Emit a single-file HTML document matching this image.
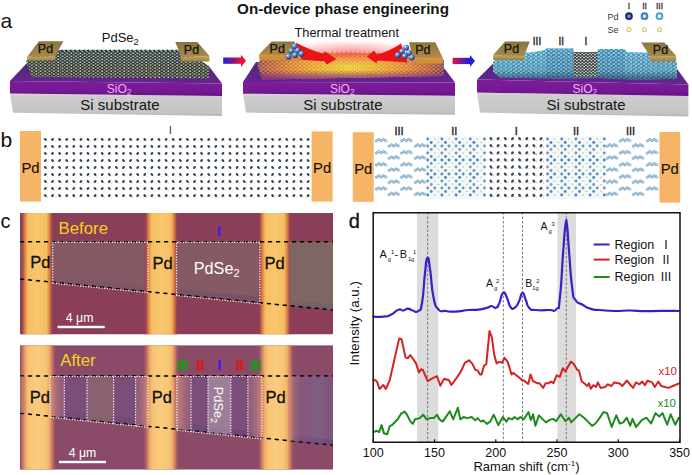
<!DOCTYPE html>
<html><head><meta charset="utf-8"><style>
html,body{margin:0;padding:0;background:#fff;width:692px;height:475px;overflow:hidden}
svg{display:block}
text{font-family:"Liberation Sans",sans-serif}
</style></head><body>
<svg width="692" height="475" viewBox="0 0 692 475">
<defs>
<linearGradient id="gSi" x1="0" y1="0" x2="0" y2="1"><stop offset="0" stop-color="#dadada"/><stop offset="0.12" stop-color="#cdcdcd"/><stop offset="0.85" stop-color="#c4c4c4"/><stop offset="1" stop-color="#b4b4b4"/></linearGradient>
<linearGradient id="gSiO2" x1="0" y1="0" x2="0" y2="1"><stop offset="0" stop-color="#7e1c9c"/><stop offset="0.7" stop-color="#741892"/><stop offset="1" stop-color="#621280"/></linearGradient>
<linearGradient id="gTop" x1="0" y1="0" x2="0" y2="1"><stop offset="0" stop-color="#4e2a78"/><stop offset="0.6" stop-color="#5e2688"/><stop offset="1" stop-color="#662490"/></linearGradient>
<linearGradient id="gPadTop" x1="0" y1="0" x2="0" y2="1"><stop offset="0" stop-color="#8a7442"/><stop offset="1" stop-color="#a68a4e"/></linearGradient>
<linearGradient id="gPadFront" x1="0" y1="0" x2="0" y2="1"><stop offset="0" stop-color="#c4a860"/><stop offset="1" stop-color="#9c8040"/></linearGradient>
<linearGradient id="gArrow1" x1="0" y1="0" x2="1" y2="0"><stop offset="0" stop-color="#1f1fd8"/><stop offset="0.45" stop-color="#6a1aa0"/><stop offset="1" stop-color="#ee1030"/></linearGradient>
<linearGradient id="gArrow2" x1="0" y1="0" x2="1" y2="0"><stop offset="0" stop-color="#ee1030"/><stop offset="0.55" stop-color="#6a1aa0"/><stop offset="1" stop-color="#1f1fd8"/></linearGradient>
<radialGradient id="gHeat" cx="0.5" cy="0.6" r="0.55"><stop offset="0" stop-color="#f4e428"/><stop offset="0.3" stop-color="#f2b824"/><stop offset="0.7" stop-color="#e07424"/><stop offset="1" stop-color="#a04a48"/></radialGradient>
<radialGradient id="gGlow" cx="0.5" cy="0.5" r="0.5"><stop offset="0" stop-color="#ff3a3a" stop-opacity="0.6"/><stop offset="0.6" stop-color="#ff6a6a" stop-opacity="0.3"/><stop offset="1" stop-color="#ff9090" stop-opacity="0"/></radialGradient>
<radialGradient id="gBall" cx="0.35" cy="0.3" r="0.7"><stop offset="0" stop-color="#e0f0ff"/><stop offset="0.45" stop-color="#5a8ad0"/><stop offset="1" stop-color="#1a3470"/></radialGradient>

<pattern id="pA1t" patternUnits="userSpaceOnUse" width="4.40" height="3.00"><rect width="4.40" height="3.00" fill="#3e4a40"/><circle cx="1.10" cy="0.75" r="1.00" fill="#1e2850"/><circle cx="1.10" cy="2.25" r="0.85" fill="#d8e2b0"/><circle cx="3.30" cy="2.25" r="1.00" fill="#26305a"/><circle cx="3.30" cy="0.75" r="0.80" fill="#b4c290"/></pattern>
<pattern id="pA1f" patternUnits="userSpaceOnUse" width="4.40" height="3.00"><rect width="4.40" height="3.00" fill="#34362e"/><circle cx="1.10" cy="0.75" r="1.00" fill="#1e2650"/><circle cx="1.10" cy="2.25" r="0.90" fill="#d4d490"/><circle cx="3.30" cy="2.25" r="1.00" fill="#262e58"/><circle cx="3.30" cy="0.75" r="0.85" fill="#aab070"/></pattern>
<pattern id="pA2" patternUnits="userSpaceOnUse" width="4.00" height="3.20"><circle cx="1.00" cy="1.00" r="1.00" fill="#ffc47a"/><circle cx="3.00" cy="2.40" r="0.90" fill="#ff9a50"/></pattern>
<pattern id="pA3" patternUnits="userSpaceOnUse" width="5.00" height="3.60"><rect width="5.00" height="3.60" fill="#1c4a62"/><circle cx="1.25" cy="0.90" r="1.45" fill="#a6def0"/><circle cx="1.25" cy="2.70" r="1.20" fill="#52a8cc"/><circle cx="3.75" cy="2.70" r="1.45" fill="#94d4ea"/><circle cx="3.75" cy="0.90" r="1.20" fill="#4a9ac0"/></pattern>
<pattern id="pA4" patternUnits="userSpaceOnUse" width="3.60" height="3.00"><rect width="3.60" height="3.00" fill="#1a2030"/><circle cx="0.90" cy="0.75" r="0.95" fill="#e0e090"/><circle cx="0.90" cy="2.25" r="0.90" fill="#304080"/><circle cx="2.70" cy="2.25" r="0.95" fill="#c8cc78"/><circle cx="2.70" cy="0.75" r="0.90" fill="#283670"/></pattern>
<radialGradient id="gHeat2" cx="349" cy="67" r="95" gradientUnits="userSpaceOnUse" gradientTransform="translate(349 67) scale(1 0.32) translate(-349 -67)"><stop offset="0" stop-color="#f2ea30"/><stop offset="0.3" stop-color="#f0c028"/><stop offset="0.6" stop-color="#e48a30"/><stop offset="0.85" stop-color="#b45a3c"/><stop offset="1" stop-color="#7a3a5a"/></radialGradient>
<linearGradient id="gBotFade" x1="0" y1="0" x2="0" y2="1"><stop offset="0" stop-color="#7a2a8a" stop-opacity="0"/><stop offset="1" stop-color="#7a2a8a" stop-opacity="0.85"/></linearGradient>
<pattern id="pA2b" patternUnits="userSpaceOnUse" width="4.60" height="3.60"><circle cx="1.15" cy="0.90" r="1.20" fill="#ffd08a"/><circle cx="3.45" cy="2.70" r="1.20" fill="#ffb868"/><circle cx="1.15" cy="2.70" r="0.70" fill="#6a2a30"/><circle cx="3.45" cy="0.90" r="0.70" fill="#7a3a30"/></pattern>
<pattern id="pA3b" patternUnits="userSpaceOnUse" width="5.00" height="3.60"><rect width="5.00" height="3.60" fill="#1a4466"/><circle cx="1.25" cy="0.90" r="1.40" fill="#7cc0e6"/><circle cx="1.25" cy="2.70" r="1.20" fill="#3a84bc"/><circle cx="3.75" cy="2.70" r="1.40" fill="#9ad6d8"/><circle cx="3.75" cy="0.90" r="1.20" fill="#3478b0"/></pattern>
<linearGradient id="gF3shade" x1="0" y1="0" x2="0" y2="1"><stop offset="0" stop-color="#000" stop-opacity="0"/><stop offset="0.7" stop-color="#0a1830" stop-opacity="0.1"/><stop offset="1" stop-color="#0a1830" stop-opacity="0.55"/></linearGradient>
<linearGradient id="gPadHeat" x1="0" y1="0" x2="0" y2="1"><stop offset="0" stop-color="#e08030" stop-opacity="0"/><stop offset="0.55" stop-color="#e08030" stop-opacity="0.15"/><stop offset="1" stop-color="#f09030" stop-opacity="0.7"/></linearGradient>

<linearGradient id="gStripe" x1="0" y1="0" x2="1" y2="0">
<stop offset="0" stop-color="#8a3c58" stop-opacity="0"/><stop offset="0.06" stop-color="#a44848"/><stop offset="0.14" stop-color="#e08848"/><stop offset="0.22" stop-color="#f6be62"/>
<stop offset="0.5" stop-color="#f9c76e"/><stop offset="0.78" stop-color="#f6be62"/><stop offset="0.86" stop-color="#e08848"/><stop offset="0.94" stop-color="#a44848"/><stop offset="1" stop-color="#8a3c58" stop-opacity="0"/></linearGradient>
<linearGradient id="gStripe2" x1="0" y1="0" x2="1" y2="0">
<stop offset="0" stop-color="#b06060" stop-opacity="0"/><stop offset="0.1" stop-color="#d07a60" stop-opacity="0.9"/><stop offset="0.18" stop-color="#eeac68"/><stop offset="0.27" stop-color="#f8c474"/>
<stop offset="0.5" stop-color="#f9cc80"/><stop offset="0.73" stop-color="#f8c474"/><stop offset="0.82" stop-color="#eeac68"/><stop offset="0.9" stop-color="#d07a60" stop-opacity="0.9"/><stop offset="1" stop-color="#b06060" stop-opacity="0"/></linearGradient>
<linearGradient id="gFilmShadow" x1="0" y1="0" x2="0" y2="1"><stop offset="0" stop-color="#3a3070" stop-opacity="0"/><stop offset="1" stop-color="#3a3070" stop-opacity="0.3"/></linearGradient>

<clipPath id="cMic1"><rect x="20" y="213.0" width="313" height="121.5"/></clipPath>
<clipPath id="cMic2"><rect x="20" y="345.2" width="313" height="124.5"/></clipPath>
<linearGradient id="gIIIL" x1="0" y1="0" x2="1" y2="0"><stop offset="0" stop-color="#d89078" stop-opacity="0.75"/><stop offset="1" stop-color="#b07080" stop-opacity="0.3"/></linearGradient>
<linearGradient id="gIIIR" x1="1" y1="0" x2="0" y2="0"><stop offset="0" stop-color="#d89078" stop-opacity="0.75"/><stop offset="1" stop-color="#b07080" stop-opacity="0.3"/></linearGradient>
<linearGradient id="gRgt" x1="0" y1="0" x2="1" y2="0"><stop offset="0" stop-color="#d89078" stop-opacity="0.7"/><stop offset="0.3" stop-color="#9a6a80" stop-opacity="0.2"/><stop offset="0.7" stop-color="#7a80a8" stop-opacity="0.25"/><stop offset="1" stop-color="#7a6080" stop-opacity="0.1"/></linearGradient></defs>
<rect width="692" height="475" fill="#fff"/>
<text x="343.0" y="14.3" font-size="15.20" fill="#141414" text-anchor="middle" font-weight="bold" >On-device phase engineering</text>
<text x="0.5" y="27.8" font-size="21.00" fill="#111" text-anchor="start" font-weight="normal" >a</text>
<polygon points="10.0,93.5 222.0,96.0 222.0,116.0 13.0,112.7" fill="url(#gSi)" />
<polygon points="10.0,81.0 222.0,83.5 222.0,96.0 10.0,93.5" fill="url(#gSiO2)" />
<polygon points="10.0,81.0 26.0,64.0 209.5,67.0 222.0,83.5" fill="url(#gTop)" />
<polygon points="243.0,93.7 455.0,95.8 455.0,114.7 246.0,112.6" fill="url(#gSi)" />
<polygon points="243.0,82.0 455.0,82.5 455.0,95.8 243.0,93.7" fill="url(#gSiO2)" />
<polygon points="243.0,82.0 256.0,62.0 441.0,64.0 455.0,82.5" fill="url(#gTop)" />
<polygon points="477.0,92.6 688.4,96.0 688.4,116.6 480.0,112.6" fill="url(#gSi)" />
<polygon points="477.0,79.5 688.4,84.4 688.4,96.0 477.0,92.6" fill="url(#gSiO2)" />
<polygon points="477.0,79.5 494.7,62.0 677.5,69.4 688.4,84.4" fill="url(#gTop)" />
<polygon points="26.0,61.0 40.0,50.0 185.0,50.5 209.0,66.0 209.0,78.5 31.5,77.0" fill="url(#pA1f)" />
<polygon points="30.0,58.0 40.0,50.0 185.0,50.5 200.0,60.0 200.0,63.0 30.0,62.0" fill="url(#pA1t)" />
<g><circle cx="62.0" cy="50.4" r="1.0" fill="#26305a"/><circle cx="64.2" cy="49.8" r="0.9" fill="#d8e2b0"/><circle cx="66.4" cy="50.4" r="1.0" fill="#26305a"/><circle cx="68.6" cy="49.8" r="0.9" fill="#d8e2b0"/><circle cx="70.8" cy="50.4" r="1.0" fill="#26305a"/><circle cx="73.0" cy="49.8" r="0.9" fill="#d8e2b0"/><circle cx="75.2" cy="50.4" r="1.0" fill="#26305a"/><circle cx="77.4" cy="49.8" r="0.9" fill="#d8e2b0"/><circle cx="79.6" cy="50.4" r="1.0" fill="#26305a"/><circle cx="81.8" cy="49.8" r="0.9" fill="#d8e2b0"/><circle cx="84.0" cy="50.4" r="1.0" fill="#26305a"/><circle cx="86.2" cy="49.8" r="0.9" fill="#d8e2b0"/><circle cx="88.4" cy="50.4" r="1.0" fill="#26305a"/><circle cx="90.6" cy="49.8" r="0.9" fill="#d8e2b0"/><circle cx="92.8" cy="50.4" r="1.0" fill="#26305a"/><circle cx="95.0" cy="49.8" r="0.9" fill="#d8e2b0"/><circle cx="97.2" cy="50.4" r="1.0" fill="#26305a"/><circle cx="99.4" cy="49.8" r="0.9" fill="#d8e2b0"/><circle cx="101.6" cy="50.4" r="1.0" fill="#26305a"/><circle cx="103.8" cy="49.8" r="0.9" fill="#d8e2b0"/><circle cx="106.0" cy="50.4" r="1.0" fill="#26305a"/><circle cx="108.2" cy="49.8" r="0.9" fill="#d8e2b0"/><circle cx="110.4" cy="50.4" r="1.0" fill="#26305a"/><circle cx="112.6" cy="49.8" r="0.9" fill="#d8e2b0"/><circle cx="114.8" cy="50.4" r="1.0" fill="#26305a"/><circle cx="117.0" cy="49.8" r="0.9" fill="#d8e2b0"/><circle cx="119.2" cy="50.4" r="1.0" fill="#26305a"/><circle cx="121.4" cy="49.8" r="0.9" fill="#d8e2b0"/><circle cx="123.6" cy="50.4" r="1.0" fill="#26305a"/><circle cx="125.8" cy="49.8" r="0.9" fill="#d8e2b0"/><circle cx="128.0" cy="50.4" r="1.0" fill="#26305a"/><circle cx="130.2" cy="49.8" r="0.9" fill="#d8e2b0"/><circle cx="132.4" cy="50.4" r="1.0" fill="#26305a"/><circle cx="134.6" cy="49.8" r="0.9" fill="#d8e2b0"/><circle cx="136.8" cy="50.4" r="1.0" fill="#26305a"/><circle cx="139.0" cy="49.8" r="0.9" fill="#d8e2b0"/><circle cx="141.2" cy="50.4" r="1.0" fill="#26305a"/><circle cx="143.4" cy="49.8" r="0.9" fill="#d8e2b0"/><circle cx="145.6" cy="50.4" r="1.0" fill="#26305a"/><circle cx="147.8" cy="49.8" r="0.9" fill="#d8e2b0"/><circle cx="150.0" cy="50.4" r="1.0" fill="#26305a"/><circle cx="152.2" cy="49.8" r="0.9" fill="#d8e2b0"/><circle cx="154.4" cy="50.4" r="1.0" fill="#26305a"/><circle cx="156.6" cy="49.8" r="0.9" fill="#d8e2b0"/><circle cx="158.8" cy="50.4" r="1.0" fill="#26305a"/><circle cx="161.0" cy="49.8" r="0.9" fill="#d8e2b0"/><circle cx="163.2" cy="50.4" r="1.0" fill="#26305a"/><circle cx="165.4" cy="49.8" r="0.9" fill="#d8e2b0"/><circle cx="167.6" cy="50.4" r="1.0" fill="#26305a"/><circle cx="169.8" cy="49.8" r="0.9" fill="#d8e2b0"/><circle cx="172.0" cy="50.4" r="1.0" fill="#26305a"/><circle cx="174.2" cy="49.8" r="0.9" fill="#d8e2b0"/><circle cx="176.4" cy="50.4" r="1.0" fill="#26305a"/><circle cx="178.6" cy="49.8" r="0.9" fill="#d8e2b0"/></g>
<polygon points="257.0,63.0 270.0,53.0 425.0,53.0 444.0,60.0 444.0,76.0 262.0,79.5" fill="url(#gHeat2)" />
<polygon points="257.0,63.0 270.0,53.0 425.0,53.0 444.0,60.0 444.0,76.0 262.0,79.5" fill="url(#pA2b)" opacity="0.5"/>
<polygon points="257.0,71.0 444.0,70.0 444.0,76.0 262.0,79.5" fill="url(#gBotFade)" />
<ellipse cx="350" cy="53" rx="78" ry="13" fill="url(#gGlow)"/>
<polygon points="493.0,62.0 505.0,53.0 530.0,52.5 545.0,50.0 546.0,48.5 573.5,48.5 573.5,52.0 597.5,52.0 598.0,49.0 625.0,49.0 627.0,52.0 650.0,52.7 677.0,62.0 677.0,78.5 640.0,80.0 600.0,78.0 560.0,78.5 500.0,77.5 493.0,72.0" fill="url(#pA3)" />
<polygon points="546.0,48.5 573.5,48.5 573.5,77.0 546.0,77.5" fill="url(#pA3b)" opacity="0.6"/>
<polygon points="598.0,49.0 625.0,49.0 625.0,77.5 598.0,77.5" fill="url(#pA3b)" opacity="0.6"/>
<polygon points="493.0,62.0 505.0,53.0 530.0,52.5 545.0,50.0 546.0,48.5 573.5,48.5 573.5,52.0 597.5,52.0 598.0,49.0 625.0,49.0 627.0,52.0 650.0,52.7 677.0,62.0 677.0,78.5 640.0,80.0 600.0,78.0 560.0,78.5 500.0,77.5 493.0,72.0" fill="url(#gF3shade)" />
<polygon points="573.5,52.0 597.5,52.0 597.5,76.5 573.5,76.5" fill="url(#pA4)" />
<polygon points="27.2,56.7 55.4,56.0 55.4,60.3 27.2,60.8" fill="url(#gPadFront)" />
<polygon points="38.8,41.3 63.4,41.3 55.4,56.0 27.2,56.7" fill="url(#gPadTop)" />
<polygon points="181.0,56.5 209.4,56.0 209.4,61.6 181.0,61.6" fill="url(#gPadFront)" />
<polygon points="175.3,42.0 197.4,42.0 209.4,56.0 181.0,56.5" fill="url(#gPadTop)" />
<polygon points="258.9,54.7 300.0,56.0 300.0,60.3 259.5,60.3" fill="url(#gPadFront)" />
<polygon points="271.5,41.6 294.3,41.6 300.0,56.0 258.9,54.7" fill="url(#gPadTop)" />
<polygon points="412.7,58.0 442.8,57.9 442.8,63.5 412.7,63.5" fill="url(#gPadFront)" />
<polygon points="409.0,42.3 435.3,42.3 442.8,57.9 412.7,58.0" fill="url(#gPadTop)" />
<polygon points="493.2,55.1 524.2,56.0 524.2,60.0 493.2,59.9" fill="url(#gPadFront)" />
<polygon points="505.0,41.6 529.7,41.6 524.2,56.0 493.2,55.1" fill="url(#gPadTop)" />
<polygon points="650.0,56.3 676.2,55.9 676.2,61.5 650.0,61.5" fill="url(#gPadFront)" />
<polygon points="641.2,42.4 664.3,42.4 676.2,55.9 650.0,56.3" fill="url(#gPadTop)" />
<polygon points="271.5,41.6 294.3,41.6 300.0,56.0 300.0,60.3 259.5,60.3 258.9,54.7" fill="url(#gPadHeat)" />
<polygon points="409.0,42.3 435.3,42.3 442.8,57.9 442.8,63.5 412.7,63.5 412.7,58.0" fill="url(#gPadHeat)" />
<text x="45.5" y="53.4" font-size="12.50" fill="#151008" text-anchor="middle" font-weight="normal" stroke="#151008" stroke-width="0.25">Pd</text>
<text x="191.5" y="54.0" font-size="12.50" fill="#151008" text-anchor="middle" font-weight="normal" stroke="#151008" stroke-width="0.25">Pd</text>
<text x="277.2" y="53.4" font-size="12.50" fill="#151008" text-anchor="middle" font-weight="normal" stroke="#151008" stroke-width="0.25">Pd</text>
<text x="422.8" y="54.0" font-size="12.50" fill="#151008" text-anchor="middle" font-weight="normal" stroke="#151008" stroke-width="0.25">Pd</text>
<text x="511.5" y="53.3" font-size="12.50" fill="#151008" text-anchor="middle" font-weight="normal" stroke="#151008" stroke-width="0.25">Pd</text>
<text x="660.5" y="54.2" font-size="12.50" fill="#151008" text-anchor="middle" font-weight="normal" stroke="#151008" stroke-width="0.25">Pd</text>
<path d="M296,42.6 Q309,50 324,53.8 L324.5,51.3 L336.5,59 L326.5,64.4 L324.5,61.2 Q312,60.8 301.6,59.8 Z" fill="#ea1414"/>
<path d="M401,43.5 Q390,51 377,54.5 L374,50.4 L366.8,56.4 L376.6,63.4 L377.5,60.5 Q394,61.5 407.6,62.5 Z" fill="#ea1414"/>
<g><rect x="318.0" y="51" width="1.2" height="6" fill="#c03a2a" opacity="0.35"/><rect x="322.6" y="51" width="1.2" height="6" fill="#c03a2a" opacity="0.35"/><rect x="327.2" y="51" width="1.2" height="6" fill="#c03a2a" opacity="0.35"/><rect x="331.8" y="51" width="1.2" height="6" fill="#c03a2a" opacity="0.35"/><rect x="336.4" y="51" width="1.2" height="6" fill="#c03a2a" opacity="0.35"/><rect x="341.0" y="51" width="1.2" height="6" fill="#c03a2a" opacity="0.35"/><rect x="345.6" y="51" width="1.2" height="6" fill="#c03a2a" opacity="0.35"/><rect x="350.2" y="51" width="1.2" height="6" fill="#c03a2a" opacity="0.35"/><rect x="354.8" y="51" width="1.2" height="6" fill="#c03a2a" opacity="0.35"/><rect x="359.4" y="51" width="1.2" height="6" fill="#c03a2a" opacity="0.35"/><rect x="364.0" y="51" width="1.2" height="6" fill="#c03a2a" opacity="0.35"/><rect x="368.6" y="51" width="1.2" height="6" fill="#c03a2a" opacity="0.35"/><rect x="373.2" y="51" width="1.2" height="6" fill="#c03a2a" opacity="0.35"/><rect x="377.8" y="51" width="1.2" height="6" fill="#c03a2a" opacity="0.35"/></g>
<circle cx="294.6" cy="46.3" r="2.85" fill="url(#gBall)"/>
<circle cx="291.3" cy="51.0" r="2.85" fill="url(#gBall)"/>
<circle cx="297.8" cy="50.6" r="2.85" fill="url(#gBall)"/>
<circle cx="288.5" cy="56.7" r="2.85" fill="url(#gBall)"/>
<circle cx="295.0" cy="55.2" r="2.85" fill="url(#gBall)"/>
<circle cx="301.6" cy="53.8" r="2.85" fill="url(#gBall)"/>
<circle cx="406.2" cy="47.7" r="2.85" fill="url(#gBall)"/>
<circle cx="402.0" cy="51.5" r="2.85" fill="url(#gBall)"/>
<circle cx="409.0" cy="52.9" r="2.85" fill="url(#gBall)"/>
<circle cx="397.7" cy="55.2" r="2.85" fill="url(#gBall)"/>
<circle cx="404.8" cy="56.2" r="2.85" fill="url(#gBall)"/>
<circle cx="411.8" cy="57.6" r="2.85" fill="url(#gBall)"/>
<rect x="223.2" y="57.5" width="18" height="6.3" fill="url(#gArrow1)"/>
<polygon points="241.0,54.7 246.0,60.7 241.0,66.9" fill="#ee1030" />
<rect x="452.6" y="57.8" width="17.5" height="6.3" fill="url(#gArrow2)"/>
<polygon points="470.0,54.9 475.0,61.0 470.0,67.1" fill="#1f1fd8" />
<text x="101.8" y="41.9" font-size="13.00" fill="#151515" text-anchor="start" font-weight="normal" >PdSe<tspan font-size="9.5" dy="3">2</tspan></text>
<text x="294.5" y="36.5" font-size="12.80" fill="#151515" text-anchor="start" font-weight="normal" >Thermal treatment</text>
<text x="119.9" y="109.7" font-size="15.00" fill="#151515" text-anchor="middle" font-weight="normal" >Si substrate</text>
<text x="342.9" y="109.7" font-size="15.00" fill="#151515" text-anchor="middle" font-weight="normal" >Si substrate</text>
<text x="586.0" y="109.7" font-size="15.00" fill="#151515" text-anchor="middle" font-weight="normal" >Si substrate</text>
<text x="106.8" y="92.5" font-size="12.00" fill="#f4b0f4" text-anchor="start" font-weight="normal" >SiO<tspan font-size="8.5" dy="2.5">2</tspan></text>
<text x="329.9" y="92.5" font-size="12.00" fill="#f4b0f4" text-anchor="start" font-weight="normal" >SiO<tspan font-size="8.5" dy="2.5">2</tspan></text>
<text x="572.5" y="92.5" font-size="12.00" fill="#f4b0f4" text-anchor="start" font-weight="normal" >SiO<tspan font-size="8.5" dy="2.5">2</tspan></text>
<text x="537.0" y="44.5" font-size="10.00" fill="#222" text-anchor="middle" font-weight="normal" stroke="#222" stroke-width="0.35">III</text>
<text x="561.3" y="44.5" font-size="10.00" fill="#222" text-anchor="middle" font-weight="normal" stroke="#222" stroke-width="0.35">II</text>
<text x="586.0" y="44.5" font-size="10.00" fill="#222" text-anchor="middle" font-weight="normal" stroke="#222" stroke-width="0.35">I</text>
<text x="629.0" y="8.6" font-size="8.50" fill="#333" text-anchor="middle" font-weight="normal" stroke="#333" stroke-width="0.3">I</text>
<text x="644.5" y="8.6" font-size="8.50" fill="#333" text-anchor="middle" font-weight="normal" stroke="#333" stroke-width="0.3">II</text>
<text x="659.5" y="8.6" font-size="8.50" fill="#333" text-anchor="middle" font-weight="normal" stroke="#333" stroke-width="0.3">III</text>
<text x="607.5" y="19.6" font-size="9.00" fill="#333" text-anchor="start" font-weight="normal" >Pd</text>
<text x="607.5" y="33.2" font-size="9.00" fill="#333" text-anchor="start" font-weight="normal" >Se</text>
<circle cx="629.0" cy="16.2" r="2.9" fill="#6a8ad0" stroke="#12285e" stroke-width="1.9"/>
<circle cx="644.5" cy="16.2" r="2.9" fill="#c8e4fa" stroke="#3c78c0" stroke-width="1.9"/>
<circle cx="659.5" cy="16.2" r="2.9" fill="#e6f6ff" stroke="#4aa0c8" stroke-width="1.9"/>
<circle cx="629.0" cy="29.6" r="2.0" fill="#fffbe8" stroke="#d8c888" stroke-width="1.2"/>
<circle cx="644.5" cy="29.6" r="2.0" fill="#fffbe8" stroke="#d8c888" stroke-width="1.2"/>
<circle cx="659.5" cy="29.6" r="2.0" fill="#fffbe8" stroke="#d8c888" stroke-width="1.2"/>
<text x="0.5" y="146.6" font-size="21.00" fill="#111" text-anchor="start" font-weight="normal" >b</text>
<rect x="20.0" y="131.0" width="21.0" height="70.6" fill="#f6b466"/>
<rect x="311.6" y="131.5" width="21.0" height="70.1" fill="#f6b466"/>
<rect x="352.8" y="132.2" width="20.9" height="69.6" fill="#f6b466"/>
<rect x="659.5" y="132.0" width="20.7" height="70.6" fill="#f6b466"/>
<text x="30.5" y="173.3" font-size="14.80" fill="#1a1008" text-anchor="middle" font-weight="normal" stroke="#1a1008" stroke-width="0.12">Pd</text>
<text x="322.1" y="173.3" font-size="14.80" fill="#1a1008" text-anchor="middle" font-weight="normal" stroke="#1a1008" stroke-width="0.12">Pd</text>
<text x="363.2" y="173.5" font-size="14.80" fill="#1a1008" text-anchor="middle" font-weight="normal" stroke="#1a1008" stroke-width="0.12">Pd</text>
<text x="669.8" y="173.8" font-size="14.80" fill="#1a1008" text-anchor="middle" font-weight="normal" stroke="#1a1008" stroke-width="0.12">Pd</text>
<g><ellipse cx="45.4" cy="139.4" rx="1.6" ry="1.2" fill="#34405e" transform="rotate(45 45.4 139.4)"/><circle cx="47.6" cy="141.0" r="0.6" fill="#d6dc9a"/><ellipse cx="52.5" cy="139.4" rx="1.6" ry="1.2" fill="#34405e" transform="rotate(-45 52.5 139.4)"/><circle cx="54.7" cy="141.0" r="0.6" fill="#d6dc9a"/><ellipse cx="59.6" cy="139.4" rx="1.6" ry="1.2" fill="#34405e" transform="rotate(45 59.6 139.4)"/><circle cx="61.8" cy="141.0" r="0.6" fill="#d6dc9a"/><ellipse cx="66.7" cy="139.4" rx="1.6" ry="1.2" fill="#34405e" transform="rotate(-45 66.7 139.4)"/><circle cx="68.9" cy="141.0" r="0.6" fill="#d6dc9a"/><ellipse cx="73.8" cy="139.4" rx="1.6" ry="1.2" fill="#34405e" transform="rotate(45 73.8 139.4)"/><circle cx="76.0" cy="141.0" r="0.6" fill="#d6dc9a"/><ellipse cx="80.9" cy="139.4" rx="1.6" ry="1.2" fill="#34405e" transform="rotate(-45 80.9 139.4)"/><circle cx="83.1" cy="141.0" r="0.6" fill="#d6dc9a"/><ellipse cx="88.0" cy="139.4" rx="1.6" ry="1.2" fill="#34405e" transform="rotate(45 88.0 139.4)"/><circle cx="90.2" cy="141.0" r="0.6" fill="#d6dc9a"/><ellipse cx="95.1" cy="139.4" rx="1.6" ry="1.2" fill="#34405e" transform="rotate(-45 95.1 139.4)"/><circle cx="97.3" cy="141.0" r="0.6" fill="#d6dc9a"/><ellipse cx="102.2" cy="139.4" rx="1.6" ry="1.2" fill="#34405e" transform="rotate(45 102.2 139.4)"/><circle cx="104.4" cy="141.0" r="0.6" fill="#d6dc9a"/><ellipse cx="109.3" cy="139.4" rx="1.6" ry="1.2" fill="#34405e" transform="rotate(-45 109.3 139.4)"/><circle cx="111.5" cy="141.0" r="0.6" fill="#d6dc9a"/><ellipse cx="116.4" cy="139.4" rx="1.6" ry="1.2" fill="#34405e" transform="rotate(45 116.4 139.4)"/><circle cx="118.6" cy="141.0" r="0.6" fill="#d6dc9a"/><ellipse cx="123.5" cy="139.4" rx="1.6" ry="1.2" fill="#34405e" transform="rotate(-45 123.5 139.4)"/><circle cx="125.7" cy="141.0" r="0.6" fill="#d6dc9a"/><ellipse cx="130.6" cy="139.4" rx="1.6" ry="1.2" fill="#34405e" transform="rotate(45 130.6 139.4)"/><circle cx="132.8" cy="141.0" r="0.6" fill="#d6dc9a"/><ellipse cx="137.7" cy="139.4" rx="1.6" ry="1.2" fill="#34405e" transform="rotate(-45 137.7 139.4)"/><circle cx="139.9" cy="141.0" r="0.6" fill="#d6dc9a"/><ellipse cx="144.8" cy="139.4" rx="1.6" ry="1.2" fill="#34405e" transform="rotate(45 144.8 139.4)"/><circle cx="147.0" cy="141.0" r="0.6" fill="#d6dc9a"/><ellipse cx="151.9" cy="139.4" rx="1.6" ry="1.2" fill="#34405e" transform="rotate(-45 151.9 139.4)"/><circle cx="154.1" cy="141.0" r="0.6" fill="#d6dc9a"/><ellipse cx="159.0" cy="139.4" rx="1.6" ry="1.2" fill="#34405e" transform="rotate(45 159.0 139.4)"/><circle cx="161.2" cy="141.0" r="0.6" fill="#d6dc9a"/><ellipse cx="166.1" cy="139.4" rx="1.6" ry="1.2" fill="#34405e" transform="rotate(-45 166.1 139.4)"/><circle cx="168.3" cy="141.0" r="0.6" fill="#d6dc9a"/><ellipse cx="173.2" cy="139.4" rx="1.6" ry="1.2" fill="#34405e" transform="rotate(45 173.2 139.4)"/><circle cx="175.4" cy="141.0" r="0.6" fill="#d6dc9a"/><ellipse cx="180.3" cy="139.4" rx="1.6" ry="1.2" fill="#34405e" transform="rotate(-45 180.3 139.4)"/><circle cx="182.5" cy="141.0" r="0.6" fill="#d6dc9a"/><ellipse cx="187.4" cy="139.4" rx="1.6" ry="1.2" fill="#34405e" transform="rotate(45 187.4 139.4)"/><circle cx="189.6" cy="141.0" r="0.6" fill="#d6dc9a"/><ellipse cx="194.5" cy="139.4" rx="1.6" ry="1.2" fill="#34405e" transform="rotate(-45 194.5 139.4)"/><circle cx="196.7" cy="141.0" r="0.6" fill="#d6dc9a"/><ellipse cx="201.6" cy="139.4" rx="1.6" ry="1.2" fill="#34405e" transform="rotate(45 201.6 139.4)"/><circle cx="203.8" cy="141.0" r="0.6" fill="#d6dc9a"/><ellipse cx="208.7" cy="139.4" rx="1.6" ry="1.2" fill="#34405e" transform="rotate(-45 208.7 139.4)"/><circle cx="210.9" cy="141.0" r="0.6" fill="#d6dc9a"/><ellipse cx="215.8" cy="139.4" rx="1.6" ry="1.2" fill="#34405e" transform="rotate(45 215.8 139.4)"/><circle cx="218.0" cy="141.0" r="0.6" fill="#d6dc9a"/><ellipse cx="222.9" cy="139.4" rx="1.6" ry="1.2" fill="#34405e" transform="rotate(-45 222.9 139.4)"/><circle cx="225.1" cy="141.0" r="0.6" fill="#d6dc9a"/><ellipse cx="230.0" cy="139.4" rx="1.6" ry="1.2" fill="#34405e" transform="rotate(45 230.0 139.4)"/><circle cx="232.2" cy="141.0" r="0.6" fill="#d6dc9a"/><ellipse cx="237.1" cy="139.4" rx="1.6" ry="1.2" fill="#34405e" transform="rotate(-45 237.1 139.4)"/><circle cx="239.3" cy="141.0" r="0.6" fill="#d6dc9a"/><ellipse cx="244.2" cy="139.4" rx="1.6" ry="1.2" fill="#34405e" transform="rotate(45 244.2 139.4)"/><circle cx="246.4" cy="141.0" r="0.6" fill="#d6dc9a"/><ellipse cx="251.3" cy="139.4" rx="1.6" ry="1.2" fill="#34405e" transform="rotate(-45 251.3 139.4)"/><circle cx="253.5" cy="141.0" r="0.6" fill="#d6dc9a"/><ellipse cx="258.4" cy="139.4" rx="1.6" ry="1.2" fill="#34405e" transform="rotate(45 258.4 139.4)"/><circle cx="260.6" cy="141.0" r="0.6" fill="#d6dc9a"/><ellipse cx="265.5" cy="139.4" rx="1.6" ry="1.2" fill="#34405e" transform="rotate(-45 265.5 139.4)"/><circle cx="267.7" cy="141.0" r="0.6" fill="#d6dc9a"/><ellipse cx="272.6" cy="139.4" rx="1.6" ry="1.2" fill="#34405e" transform="rotate(45 272.6 139.4)"/><circle cx="274.8" cy="141.0" r="0.6" fill="#d6dc9a"/><ellipse cx="279.7" cy="139.4" rx="1.6" ry="1.2" fill="#34405e" transform="rotate(-45 279.7 139.4)"/><circle cx="281.9" cy="141.0" r="0.6" fill="#d6dc9a"/><ellipse cx="286.8" cy="139.4" rx="1.6" ry="1.2" fill="#34405e" transform="rotate(45 286.8 139.4)"/><circle cx="289.0" cy="141.0" r="0.6" fill="#d6dc9a"/><ellipse cx="293.9" cy="139.4" rx="1.6" ry="1.2" fill="#34405e" transform="rotate(-45 293.9 139.4)"/><circle cx="296.1" cy="141.0" r="0.6" fill="#d6dc9a"/><ellipse cx="301.0" cy="139.4" rx="1.6" ry="1.2" fill="#34405e" transform="rotate(45 301.0 139.4)"/><circle cx="303.2" cy="141.0" r="0.6" fill="#d6dc9a"/><ellipse cx="308.1" cy="139.4" rx="1.6" ry="1.2" fill="#34405e" transform="rotate(-45 308.1 139.4)"/><circle cx="310.3" cy="141.0" r="0.6" fill="#d6dc9a"/><ellipse cx="45.4" cy="146.4" rx="1.6" ry="1.2" fill="#34405e" transform="rotate(-45 45.4 146.4)"/><circle cx="47.6" cy="148.0" r="0.6" fill="#d6dc9a"/><ellipse cx="52.5" cy="146.4" rx="1.6" ry="1.2" fill="#34405e" transform="rotate(45 52.5 146.4)"/><circle cx="54.7" cy="148.0" r="0.6" fill="#d6dc9a"/><ellipse cx="59.6" cy="146.4" rx="1.6" ry="1.2" fill="#34405e" transform="rotate(-45 59.6 146.4)"/><circle cx="61.8" cy="148.0" r="0.6" fill="#d6dc9a"/><ellipse cx="66.7" cy="146.4" rx="1.6" ry="1.2" fill="#34405e" transform="rotate(45 66.7 146.4)"/><circle cx="68.9" cy="148.0" r="0.6" fill="#d6dc9a"/><ellipse cx="73.8" cy="146.4" rx="1.6" ry="1.2" fill="#34405e" transform="rotate(-45 73.8 146.4)"/><circle cx="76.0" cy="148.0" r="0.6" fill="#d6dc9a"/><ellipse cx="80.9" cy="146.4" rx="1.6" ry="1.2" fill="#34405e" transform="rotate(45 80.9 146.4)"/><circle cx="83.1" cy="148.0" r="0.6" fill="#d6dc9a"/><ellipse cx="88.0" cy="146.4" rx="1.6" ry="1.2" fill="#34405e" transform="rotate(-45 88.0 146.4)"/><circle cx="90.2" cy="148.0" r="0.6" fill="#d6dc9a"/><ellipse cx="95.1" cy="146.4" rx="1.6" ry="1.2" fill="#34405e" transform="rotate(45 95.1 146.4)"/><circle cx="97.3" cy="148.0" r="0.6" fill="#d6dc9a"/><ellipse cx="102.2" cy="146.4" rx="1.6" ry="1.2" fill="#34405e" transform="rotate(-45 102.2 146.4)"/><circle cx="104.4" cy="148.0" r="0.6" fill="#d6dc9a"/><ellipse cx="109.3" cy="146.4" rx="1.6" ry="1.2" fill="#34405e" transform="rotate(45 109.3 146.4)"/><circle cx="111.5" cy="148.0" r="0.6" fill="#d6dc9a"/><ellipse cx="116.4" cy="146.4" rx="1.6" ry="1.2" fill="#34405e" transform="rotate(-45 116.4 146.4)"/><circle cx="118.6" cy="148.0" r="0.6" fill="#d6dc9a"/><ellipse cx="123.5" cy="146.4" rx="1.6" ry="1.2" fill="#34405e" transform="rotate(45 123.5 146.4)"/><circle cx="125.7" cy="148.0" r="0.6" fill="#d6dc9a"/><ellipse cx="130.6" cy="146.4" rx="1.6" ry="1.2" fill="#34405e" transform="rotate(-45 130.6 146.4)"/><circle cx="132.8" cy="148.0" r="0.6" fill="#d6dc9a"/><ellipse cx="137.7" cy="146.4" rx="1.6" ry="1.2" fill="#34405e" transform="rotate(45 137.7 146.4)"/><circle cx="139.9" cy="148.0" r="0.6" fill="#d6dc9a"/><ellipse cx="144.8" cy="146.4" rx="1.6" ry="1.2" fill="#34405e" transform="rotate(-45 144.8 146.4)"/><circle cx="147.0" cy="148.0" r="0.6" fill="#d6dc9a"/><ellipse cx="151.9" cy="146.4" rx="1.6" ry="1.2" fill="#34405e" transform="rotate(45 151.9 146.4)"/><circle cx="154.1" cy="148.0" r="0.6" fill="#d6dc9a"/><ellipse cx="159.0" cy="146.4" rx="1.6" ry="1.2" fill="#34405e" transform="rotate(-45 159.0 146.4)"/><circle cx="161.2" cy="148.0" r="0.6" fill="#d6dc9a"/><ellipse cx="166.1" cy="146.4" rx="1.6" ry="1.2" fill="#34405e" transform="rotate(45 166.1 146.4)"/><circle cx="168.3" cy="148.0" r="0.6" fill="#d6dc9a"/><ellipse cx="173.2" cy="146.4" rx="1.6" ry="1.2" fill="#34405e" transform="rotate(-45 173.2 146.4)"/><circle cx="175.4" cy="148.0" r="0.6" fill="#d6dc9a"/><ellipse cx="180.3" cy="146.4" rx="1.6" ry="1.2" fill="#34405e" transform="rotate(45 180.3 146.4)"/><circle cx="182.5" cy="148.0" r="0.6" fill="#d6dc9a"/><ellipse cx="187.4" cy="146.4" rx="1.6" ry="1.2" fill="#34405e" transform="rotate(-45 187.4 146.4)"/><circle cx="189.6" cy="148.0" r="0.6" fill="#d6dc9a"/><ellipse cx="194.5" cy="146.4" rx="1.6" ry="1.2" fill="#34405e" transform="rotate(45 194.5 146.4)"/><circle cx="196.7" cy="148.0" r="0.6" fill="#d6dc9a"/><ellipse cx="201.6" cy="146.4" rx="1.6" ry="1.2" fill="#34405e" transform="rotate(-45 201.6 146.4)"/><circle cx="203.8" cy="148.0" r="0.6" fill="#d6dc9a"/><ellipse cx="208.7" cy="146.4" rx="1.6" ry="1.2" fill="#34405e" transform="rotate(45 208.7 146.4)"/><circle cx="210.9" cy="148.0" r="0.6" fill="#d6dc9a"/><ellipse cx="215.8" cy="146.4" rx="1.6" ry="1.2" fill="#34405e" transform="rotate(-45 215.8 146.4)"/><circle cx="218.0" cy="148.0" r="0.6" fill="#d6dc9a"/><ellipse cx="222.9" cy="146.4" rx="1.6" ry="1.2" fill="#34405e" transform="rotate(45 222.9 146.4)"/><circle cx="225.1" cy="148.0" r="0.6" fill="#d6dc9a"/><ellipse cx="230.0" cy="146.4" rx="1.6" ry="1.2" fill="#34405e" transform="rotate(-45 230.0 146.4)"/><circle cx="232.2" cy="148.0" r="0.6" fill="#d6dc9a"/><ellipse cx="237.1" cy="146.4" rx="1.6" ry="1.2" fill="#34405e" transform="rotate(45 237.1 146.4)"/><circle cx="239.3" cy="148.0" r="0.6" fill="#d6dc9a"/><ellipse cx="244.2" cy="146.4" rx="1.6" ry="1.2" fill="#34405e" transform="rotate(-45 244.2 146.4)"/><circle cx="246.4" cy="148.0" r="0.6" fill="#d6dc9a"/><ellipse cx="251.3" cy="146.4" rx="1.6" ry="1.2" fill="#34405e" transform="rotate(45 251.3 146.4)"/><circle cx="253.5" cy="148.0" r="0.6" fill="#d6dc9a"/><ellipse cx="258.4" cy="146.4" rx="1.6" ry="1.2" fill="#34405e" transform="rotate(-45 258.4 146.4)"/><circle cx="260.6" cy="148.0" r="0.6" fill="#d6dc9a"/><ellipse cx="265.5" cy="146.4" rx="1.6" ry="1.2" fill="#34405e" transform="rotate(45 265.5 146.4)"/><circle cx="267.7" cy="148.0" r="0.6" fill="#d6dc9a"/><ellipse cx="272.6" cy="146.4" rx="1.6" ry="1.2" fill="#34405e" transform="rotate(-45 272.6 146.4)"/><circle cx="274.8" cy="148.0" r="0.6" fill="#d6dc9a"/><ellipse cx="279.7" cy="146.4" rx="1.6" ry="1.2" fill="#34405e" transform="rotate(45 279.7 146.4)"/><circle cx="281.9" cy="148.0" r="0.6" fill="#d6dc9a"/><ellipse cx="286.8" cy="146.4" rx="1.6" ry="1.2" fill="#34405e" transform="rotate(-45 286.8 146.4)"/><circle cx="289.0" cy="148.0" r="0.6" fill="#d6dc9a"/><ellipse cx="293.9" cy="146.4" rx="1.6" ry="1.2" fill="#34405e" transform="rotate(45 293.9 146.4)"/><circle cx="296.1" cy="148.0" r="0.6" fill="#d6dc9a"/><ellipse cx="301.0" cy="146.4" rx="1.6" ry="1.2" fill="#34405e" transform="rotate(-45 301.0 146.4)"/><circle cx="303.2" cy="148.0" r="0.6" fill="#d6dc9a"/><ellipse cx="308.1" cy="146.4" rx="1.6" ry="1.2" fill="#34405e" transform="rotate(45 308.1 146.4)"/><circle cx="310.3" cy="148.0" r="0.6" fill="#d6dc9a"/><ellipse cx="45.4" cy="153.4" rx="1.6" ry="1.2" fill="#34405e" transform="rotate(45 45.4 153.4)"/><circle cx="47.6" cy="155.0" r="0.6" fill="#d6dc9a"/><ellipse cx="52.5" cy="153.4" rx="1.6" ry="1.2" fill="#34405e" transform="rotate(-45 52.5 153.4)"/><circle cx="54.7" cy="155.0" r="0.6" fill="#d6dc9a"/><ellipse cx="59.6" cy="153.4" rx="1.6" ry="1.2" fill="#34405e" transform="rotate(45 59.6 153.4)"/><circle cx="61.8" cy="155.0" r="0.6" fill="#d6dc9a"/><ellipse cx="66.7" cy="153.4" rx="1.6" ry="1.2" fill="#34405e" transform="rotate(-45 66.7 153.4)"/><circle cx="68.9" cy="155.0" r="0.6" fill="#d6dc9a"/><ellipse cx="73.8" cy="153.4" rx="1.6" ry="1.2" fill="#34405e" transform="rotate(45 73.8 153.4)"/><circle cx="76.0" cy="155.0" r="0.6" fill="#d6dc9a"/><ellipse cx="80.9" cy="153.4" rx="1.6" ry="1.2" fill="#34405e" transform="rotate(-45 80.9 153.4)"/><circle cx="83.1" cy="155.0" r="0.6" fill="#d6dc9a"/><ellipse cx="88.0" cy="153.4" rx="1.6" ry="1.2" fill="#34405e" transform="rotate(45 88.0 153.4)"/><circle cx="90.2" cy="155.0" r="0.6" fill="#d6dc9a"/><ellipse cx="95.1" cy="153.4" rx="1.6" ry="1.2" fill="#34405e" transform="rotate(-45 95.1 153.4)"/><circle cx="97.3" cy="155.0" r="0.6" fill="#d6dc9a"/><ellipse cx="102.2" cy="153.4" rx="1.6" ry="1.2" fill="#34405e" transform="rotate(45 102.2 153.4)"/><circle cx="104.4" cy="155.0" r="0.6" fill="#d6dc9a"/><ellipse cx="109.3" cy="153.4" rx="1.6" ry="1.2" fill="#34405e" transform="rotate(-45 109.3 153.4)"/><circle cx="111.5" cy="155.0" r="0.6" fill="#d6dc9a"/><ellipse cx="116.4" cy="153.4" rx="1.6" ry="1.2" fill="#34405e" transform="rotate(45 116.4 153.4)"/><circle cx="118.6" cy="155.0" r="0.6" fill="#d6dc9a"/><ellipse cx="123.5" cy="153.4" rx="1.6" ry="1.2" fill="#34405e" transform="rotate(-45 123.5 153.4)"/><circle cx="125.7" cy="155.0" r="0.6" fill="#d6dc9a"/><ellipse cx="130.6" cy="153.4" rx="1.6" ry="1.2" fill="#34405e" transform="rotate(45 130.6 153.4)"/><circle cx="132.8" cy="155.0" r="0.6" fill="#d6dc9a"/><ellipse cx="137.7" cy="153.4" rx="1.6" ry="1.2" fill="#34405e" transform="rotate(-45 137.7 153.4)"/><circle cx="139.9" cy="155.0" r="0.6" fill="#d6dc9a"/><ellipse cx="144.8" cy="153.4" rx="1.6" ry="1.2" fill="#34405e" transform="rotate(45 144.8 153.4)"/><circle cx="147.0" cy="155.0" r="0.6" fill="#d6dc9a"/><ellipse cx="151.9" cy="153.4" rx="1.6" ry="1.2" fill="#34405e" transform="rotate(-45 151.9 153.4)"/><circle cx="154.1" cy="155.0" r="0.6" fill="#d6dc9a"/><ellipse cx="159.0" cy="153.4" rx="1.6" ry="1.2" fill="#34405e" transform="rotate(45 159.0 153.4)"/><circle cx="161.2" cy="155.0" r="0.6" fill="#d6dc9a"/><ellipse cx="166.1" cy="153.4" rx="1.6" ry="1.2" fill="#34405e" transform="rotate(-45 166.1 153.4)"/><circle cx="168.3" cy="155.0" r="0.6" fill="#d6dc9a"/><ellipse cx="173.2" cy="153.4" rx="1.6" ry="1.2" fill="#34405e" transform="rotate(45 173.2 153.4)"/><circle cx="175.4" cy="155.0" r="0.6" fill="#d6dc9a"/><ellipse cx="180.3" cy="153.4" rx="1.6" ry="1.2" fill="#34405e" transform="rotate(-45 180.3 153.4)"/><circle cx="182.5" cy="155.0" r="0.6" fill="#d6dc9a"/><ellipse cx="187.4" cy="153.4" rx="1.6" ry="1.2" fill="#34405e" transform="rotate(45 187.4 153.4)"/><circle cx="189.6" cy="155.0" r="0.6" fill="#d6dc9a"/><ellipse cx="194.5" cy="153.4" rx="1.6" ry="1.2" fill="#34405e" transform="rotate(-45 194.5 153.4)"/><circle cx="196.7" cy="155.0" r="0.6" fill="#d6dc9a"/><ellipse cx="201.6" cy="153.4" rx="1.6" ry="1.2" fill="#34405e" transform="rotate(45 201.6 153.4)"/><circle cx="203.8" cy="155.0" r="0.6" fill="#d6dc9a"/><ellipse cx="208.7" cy="153.4" rx="1.6" ry="1.2" fill="#34405e" transform="rotate(-45 208.7 153.4)"/><circle cx="210.9" cy="155.0" r="0.6" fill="#d6dc9a"/><ellipse cx="215.8" cy="153.4" rx="1.6" ry="1.2" fill="#34405e" transform="rotate(45 215.8 153.4)"/><circle cx="218.0" cy="155.0" r="0.6" fill="#d6dc9a"/><ellipse cx="222.9" cy="153.4" rx="1.6" ry="1.2" fill="#34405e" transform="rotate(-45 222.9 153.4)"/><circle cx="225.1" cy="155.0" r="0.6" fill="#d6dc9a"/><ellipse cx="230.0" cy="153.4" rx="1.6" ry="1.2" fill="#34405e" transform="rotate(45 230.0 153.4)"/><circle cx="232.2" cy="155.0" r="0.6" fill="#d6dc9a"/><ellipse cx="237.1" cy="153.4" rx="1.6" ry="1.2" fill="#34405e" transform="rotate(-45 237.1 153.4)"/><circle cx="239.3" cy="155.0" r="0.6" fill="#d6dc9a"/><ellipse cx="244.2" cy="153.4" rx="1.6" ry="1.2" fill="#34405e" transform="rotate(45 244.2 153.4)"/><circle cx="246.4" cy="155.0" r="0.6" fill="#d6dc9a"/><ellipse cx="251.3" cy="153.4" rx="1.6" ry="1.2" fill="#34405e" transform="rotate(-45 251.3 153.4)"/><circle cx="253.5" cy="155.0" r="0.6" fill="#d6dc9a"/><ellipse cx="258.4" cy="153.4" rx="1.6" ry="1.2" fill="#34405e" transform="rotate(45 258.4 153.4)"/><circle cx="260.6" cy="155.0" r="0.6" fill="#d6dc9a"/><ellipse cx="265.5" cy="153.4" rx="1.6" ry="1.2" fill="#34405e" transform="rotate(-45 265.5 153.4)"/><circle cx="267.7" cy="155.0" r="0.6" fill="#d6dc9a"/><ellipse cx="272.6" cy="153.4" rx="1.6" ry="1.2" fill="#34405e" transform="rotate(45 272.6 153.4)"/><circle cx="274.8" cy="155.0" r="0.6" fill="#d6dc9a"/><ellipse cx="279.7" cy="153.4" rx="1.6" ry="1.2" fill="#34405e" transform="rotate(-45 279.7 153.4)"/><circle cx="281.9" cy="155.0" r="0.6" fill="#d6dc9a"/><ellipse cx="286.8" cy="153.4" rx="1.6" ry="1.2" fill="#34405e" transform="rotate(45 286.8 153.4)"/><circle cx="289.0" cy="155.0" r="0.6" fill="#d6dc9a"/><ellipse cx="293.9" cy="153.4" rx="1.6" ry="1.2" fill="#34405e" transform="rotate(-45 293.9 153.4)"/><circle cx="296.1" cy="155.0" r="0.6" fill="#d6dc9a"/><ellipse cx="301.0" cy="153.4" rx="1.6" ry="1.2" fill="#34405e" transform="rotate(45 301.0 153.4)"/><circle cx="303.2" cy="155.0" r="0.6" fill="#d6dc9a"/><ellipse cx="308.1" cy="153.4" rx="1.6" ry="1.2" fill="#34405e" transform="rotate(-45 308.1 153.4)"/><circle cx="310.3" cy="155.0" r="0.6" fill="#d6dc9a"/><ellipse cx="45.4" cy="160.5" rx="1.6" ry="1.2" fill="#34405e" transform="rotate(-45 45.4 160.5)"/><circle cx="47.6" cy="162.1" r="0.6" fill="#d6dc9a"/><ellipse cx="52.5" cy="160.5" rx="1.6" ry="1.2" fill="#34405e" transform="rotate(45 52.5 160.5)"/><circle cx="54.7" cy="162.1" r="0.6" fill="#d6dc9a"/><ellipse cx="59.6" cy="160.5" rx="1.6" ry="1.2" fill="#34405e" transform="rotate(-45 59.6 160.5)"/><circle cx="61.8" cy="162.1" r="0.6" fill="#d6dc9a"/><ellipse cx="66.7" cy="160.5" rx="1.6" ry="1.2" fill="#34405e" transform="rotate(45 66.7 160.5)"/><circle cx="68.9" cy="162.1" r="0.6" fill="#d6dc9a"/><ellipse cx="73.8" cy="160.5" rx="1.6" ry="1.2" fill="#34405e" transform="rotate(-45 73.8 160.5)"/><circle cx="76.0" cy="162.1" r="0.6" fill="#d6dc9a"/><ellipse cx="80.9" cy="160.5" rx="1.6" ry="1.2" fill="#34405e" transform="rotate(45 80.9 160.5)"/><circle cx="83.1" cy="162.1" r="0.6" fill="#d6dc9a"/><ellipse cx="88.0" cy="160.5" rx="1.6" ry="1.2" fill="#34405e" transform="rotate(-45 88.0 160.5)"/><circle cx="90.2" cy="162.1" r="0.6" fill="#d6dc9a"/><ellipse cx="95.1" cy="160.5" rx="1.6" ry="1.2" fill="#34405e" transform="rotate(45 95.1 160.5)"/><circle cx="97.3" cy="162.1" r="0.6" fill="#d6dc9a"/><ellipse cx="102.2" cy="160.5" rx="1.6" ry="1.2" fill="#34405e" transform="rotate(-45 102.2 160.5)"/><circle cx="104.4" cy="162.1" r="0.6" fill="#d6dc9a"/><ellipse cx="109.3" cy="160.5" rx="1.6" ry="1.2" fill="#34405e" transform="rotate(45 109.3 160.5)"/><circle cx="111.5" cy="162.1" r="0.6" fill="#d6dc9a"/><ellipse cx="116.4" cy="160.5" rx="1.6" ry="1.2" fill="#34405e" transform="rotate(-45 116.4 160.5)"/><circle cx="118.6" cy="162.1" r="0.6" fill="#d6dc9a"/><ellipse cx="123.5" cy="160.5" rx="1.6" ry="1.2" fill="#34405e" transform="rotate(45 123.5 160.5)"/><circle cx="125.7" cy="162.1" r="0.6" fill="#d6dc9a"/><ellipse cx="130.6" cy="160.5" rx="1.6" ry="1.2" fill="#34405e" transform="rotate(-45 130.6 160.5)"/><circle cx="132.8" cy="162.1" r="0.6" fill="#d6dc9a"/><ellipse cx="137.7" cy="160.5" rx="1.6" ry="1.2" fill="#34405e" transform="rotate(45 137.7 160.5)"/><circle cx="139.9" cy="162.1" r="0.6" fill="#d6dc9a"/><ellipse cx="144.8" cy="160.5" rx="1.6" ry="1.2" fill="#34405e" transform="rotate(-45 144.8 160.5)"/><circle cx="147.0" cy="162.1" r="0.6" fill="#d6dc9a"/><ellipse cx="151.9" cy="160.5" rx="1.6" ry="1.2" fill="#34405e" transform="rotate(45 151.9 160.5)"/><circle cx="154.1" cy="162.1" r="0.6" fill="#d6dc9a"/><ellipse cx="159.0" cy="160.5" rx="1.6" ry="1.2" fill="#34405e" transform="rotate(-45 159.0 160.5)"/><circle cx="161.2" cy="162.1" r="0.6" fill="#d6dc9a"/><ellipse cx="166.1" cy="160.5" rx="1.6" ry="1.2" fill="#34405e" transform="rotate(45 166.1 160.5)"/><circle cx="168.3" cy="162.1" r="0.6" fill="#d6dc9a"/><ellipse cx="173.2" cy="160.5" rx="1.6" ry="1.2" fill="#34405e" transform="rotate(-45 173.2 160.5)"/><circle cx="175.4" cy="162.1" r="0.6" fill="#d6dc9a"/><ellipse cx="180.3" cy="160.5" rx="1.6" ry="1.2" fill="#34405e" transform="rotate(45 180.3 160.5)"/><circle cx="182.5" cy="162.1" r="0.6" fill="#d6dc9a"/><ellipse cx="187.4" cy="160.5" rx="1.6" ry="1.2" fill="#34405e" transform="rotate(-45 187.4 160.5)"/><circle cx="189.6" cy="162.1" r="0.6" fill="#d6dc9a"/><ellipse cx="194.5" cy="160.5" rx="1.6" ry="1.2" fill="#34405e" transform="rotate(45 194.5 160.5)"/><circle cx="196.7" cy="162.1" r="0.6" fill="#d6dc9a"/><ellipse cx="201.6" cy="160.5" rx="1.6" ry="1.2" fill="#34405e" transform="rotate(-45 201.6 160.5)"/><circle cx="203.8" cy="162.1" r="0.6" fill="#d6dc9a"/><ellipse cx="208.7" cy="160.5" rx="1.6" ry="1.2" fill="#34405e" transform="rotate(45 208.7 160.5)"/><circle cx="210.9" cy="162.1" r="0.6" fill="#d6dc9a"/><ellipse cx="215.8" cy="160.5" rx="1.6" ry="1.2" fill="#34405e" transform="rotate(-45 215.8 160.5)"/><circle cx="218.0" cy="162.1" r="0.6" fill="#d6dc9a"/><ellipse cx="222.9" cy="160.5" rx="1.6" ry="1.2" fill="#34405e" transform="rotate(45 222.9 160.5)"/><circle cx="225.1" cy="162.1" r="0.6" fill="#d6dc9a"/><ellipse cx="230.0" cy="160.5" rx="1.6" ry="1.2" fill="#34405e" transform="rotate(-45 230.0 160.5)"/><circle cx="232.2" cy="162.1" r="0.6" fill="#d6dc9a"/><ellipse cx="237.1" cy="160.5" rx="1.6" ry="1.2" fill="#34405e" transform="rotate(45 237.1 160.5)"/><circle cx="239.3" cy="162.1" r="0.6" fill="#d6dc9a"/><ellipse cx="244.2" cy="160.5" rx="1.6" ry="1.2" fill="#34405e" transform="rotate(-45 244.2 160.5)"/><circle cx="246.4" cy="162.1" r="0.6" fill="#d6dc9a"/><ellipse cx="251.3" cy="160.5" rx="1.6" ry="1.2" fill="#34405e" transform="rotate(45 251.3 160.5)"/><circle cx="253.5" cy="162.1" r="0.6" fill="#d6dc9a"/><ellipse cx="258.4" cy="160.5" rx="1.6" ry="1.2" fill="#34405e" transform="rotate(-45 258.4 160.5)"/><circle cx="260.6" cy="162.1" r="0.6" fill="#d6dc9a"/><ellipse cx="265.5" cy="160.5" rx="1.6" ry="1.2" fill="#34405e" transform="rotate(45 265.5 160.5)"/><circle cx="267.7" cy="162.1" r="0.6" fill="#d6dc9a"/><ellipse cx="272.6" cy="160.5" rx="1.6" ry="1.2" fill="#34405e" transform="rotate(-45 272.6 160.5)"/><circle cx="274.8" cy="162.1" r="0.6" fill="#d6dc9a"/><ellipse cx="279.7" cy="160.5" rx="1.6" ry="1.2" fill="#34405e" transform="rotate(45 279.7 160.5)"/><circle cx="281.9" cy="162.1" r="0.6" fill="#d6dc9a"/><ellipse cx="286.8" cy="160.5" rx="1.6" ry="1.2" fill="#34405e" transform="rotate(-45 286.8 160.5)"/><circle cx="289.0" cy="162.1" r="0.6" fill="#d6dc9a"/><ellipse cx="293.9" cy="160.5" rx="1.6" ry="1.2" fill="#34405e" transform="rotate(45 293.9 160.5)"/><circle cx="296.1" cy="162.1" r="0.6" fill="#d6dc9a"/><ellipse cx="301.0" cy="160.5" rx="1.6" ry="1.2" fill="#34405e" transform="rotate(-45 301.0 160.5)"/><circle cx="303.2" cy="162.1" r="0.6" fill="#d6dc9a"/><ellipse cx="308.1" cy="160.5" rx="1.6" ry="1.2" fill="#34405e" transform="rotate(45 308.1 160.5)"/><circle cx="310.3" cy="162.1" r="0.6" fill="#d6dc9a"/><ellipse cx="45.4" cy="167.5" rx="1.6" ry="1.2" fill="#34405e" transform="rotate(45 45.4 167.5)"/><circle cx="47.6" cy="169.1" r="0.6" fill="#d6dc9a"/><ellipse cx="52.5" cy="167.5" rx="1.6" ry="1.2" fill="#34405e" transform="rotate(-45 52.5 167.5)"/><circle cx="54.7" cy="169.1" r="0.6" fill="#d6dc9a"/><ellipse cx="59.6" cy="167.5" rx="1.6" ry="1.2" fill="#34405e" transform="rotate(45 59.6 167.5)"/><circle cx="61.8" cy="169.1" r="0.6" fill="#d6dc9a"/><ellipse cx="66.7" cy="167.5" rx="1.6" ry="1.2" fill="#34405e" transform="rotate(-45 66.7 167.5)"/><circle cx="68.9" cy="169.1" r="0.6" fill="#d6dc9a"/><ellipse cx="73.8" cy="167.5" rx="1.6" ry="1.2" fill="#34405e" transform="rotate(45 73.8 167.5)"/><circle cx="76.0" cy="169.1" r="0.6" fill="#d6dc9a"/><ellipse cx="80.9" cy="167.5" rx="1.6" ry="1.2" fill="#34405e" transform="rotate(-45 80.9 167.5)"/><circle cx="83.1" cy="169.1" r="0.6" fill="#d6dc9a"/><ellipse cx="88.0" cy="167.5" rx="1.6" ry="1.2" fill="#34405e" transform="rotate(45 88.0 167.5)"/><circle cx="90.2" cy="169.1" r="0.6" fill="#d6dc9a"/><ellipse cx="95.1" cy="167.5" rx="1.6" ry="1.2" fill="#34405e" transform="rotate(-45 95.1 167.5)"/><circle cx="97.3" cy="169.1" r="0.6" fill="#d6dc9a"/><ellipse cx="102.2" cy="167.5" rx="1.6" ry="1.2" fill="#34405e" transform="rotate(45 102.2 167.5)"/><circle cx="104.4" cy="169.1" r="0.6" fill="#d6dc9a"/><ellipse cx="109.3" cy="167.5" rx="1.6" ry="1.2" fill="#34405e" transform="rotate(-45 109.3 167.5)"/><circle cx="111.5" cy="169.1" r="0.6" fill="#d6dc9a"/><ellipse cx="116.4" cy="167.5" rx="1.6" ry="1.2" fill="#34405e" transform="rotate(45 116.4 167.5)"/><circle cx="118.6" cy="169.1" r="0.6" fill="#d6dc9a"/><ellipse cx="123.5" cy="167.5" rx="1.6" ry="1.2" fill="#34405e" transform="rotate(-45 123.5 167.5)"/><circle cx="125.7" cy="169.1" r="0.6" fill="#d6dc9a"/><ellipse cx="130.6" cy="167.5" rx="1.6" ry="1.2" fill="#34405e" transform="rotate(45 130.6 167.5)"/><circle cx="132.8" cy="169.1" r="0.6" fill="#d6dc9a"/><ellipse cx="137.7" cy="167.5" rx="1.6" ry="1.2" fill="#34405e" transform="rotate(-45 137.7 167.5)"/><circle cx="139.9" cy="169.1" r="0.6" fill="#d6dc9a"/><ellipse cx="144.8" cy="167.5" rx="1.6" ry="1.2" fill="#34405e" transform="rotate(45 144.8 167.5)"/><circle cx="147.0" cy="169.1" r="0.6" fill="#d6dc9a"/><ellipse cx="151.9" cy="167.5" rx="1.6" ry="1.2" fill="#34405e" transform="rotate(-45 151.9 167.5)"/><circle cx="154.1" cy="169.1" r="0.6" fill="#d6dc9a"/><ellipse cx="159.0" cy="167.5" rx="1.6" ry="1.2" fill="#34405e" transform="rotate(45 159.0 167.5)"/><circle cx="161.2" cy="169.1" r="0.6" fill="#d6dc9a"/><ellipse cx="166.1" cy="167.5" rx="1.6" ry="1.2" fill="#34405e" transform="rotate(-45 166.1 167.5)"/><circle cx="168.3" cy="169.1" r="0.6" fill="#d6dc9a"/><ellipse cx="173.2" cy="167.5" rx="1.6" ry="1.2" fill="#34405e" transform="rotate(45 173.2 167.5)"/><circle cx="175.4" cy="169.1" r="0.6" fill="#d6dc9a"/><ellipse cx="180.3" cy="167.5" rx="1.6" ry="1.2" fill="#34405e" transform="rotate(-45 180.3 167.5)"/><circle cx="182.5" cy="169.1" r="0.6" fill="#d6dc9a"/><ellipse cx="187.4" cy="167.5" rx="1.6" ry="1.2" fill="#34405e" transform="rotate(45 187.4 167.5)"/><circle cx="189.6" cy="169.1" r="0.6" fill="#d6dc9a"/><ellipse cx="194.5" cy="167.5" rx="1.6" ry="1.2" fill="#34405e" transform="rotate(-45 194.5 167.5)"/><circle cx="196.7" cy="169.1" r="0.6" fill="#d6dc9a"/><ellipse cx="201.6" cy="167.5" rx="1.6" ry="1.2" fill="#34405e" transform="rotate(45 201.6 167.5)"/><circle cx="203.8" cy="169.1" r="0.6" fill="#d6dc9a"/><ellipse cx="208.7" cy="167.5" rx="1.6" ry="1.2" fill="#34405e" transform="rotate(-45 208.7 167.5)"/><circle cx="210.9" cy="169.1" r="0.6" fill="#d6dc9a"/><ellipse cx="215.8" cy="167.5" rx="1.6" ry="1.2" fill="#34405e" transform="rotate(45 215.8 167.5)"/><circle cx="218.0" cy="169.1" r="0.6" fill="#d6dc9a"/><ellipse cx="222.9" cy="167.5" rx="1.6" ry="1.2" fill="#34405e" transform="rotate(-45 222.9 167.5)"/><circle cx="225.1" cy="169.1" r="0.6" fill="#d6dc9a"/><ellipse cx="230.0" cy="167.5" rx="1.6" ry="1.2" fill="#34405e" transform="rotate(45 230.0 167.5)"/><circle cx="232.2" cy="169.1" r="0.6" fill="#d6dc9a"/><ellipse cx="237.1" cy="167.5" rx="1.6" ry="1.2" fill="#34405e" transform="rotate(-45 237.1 167.5)"/><circle cx="239.3" cy="169.1" r="0.6" fill="#d6dc9a"/><ellipse cx="244.2" cy="167.5" rx="1.6" ry="1.2" fill="#34405e" transform="rotate(45 244.2 167.5)"/><circle cx="246.4" cy="169.1" r="0.6" fill="#d6dc9a"/><ellipse cx="251.3" cy="167.5" rx="1.6" ry="1.2" fill="#34405e" transform="rotate(-45 251.3 167.5)"/><circle cx="253.5" cy="169.1" r="0.6" fill="#d6dc9a"/><ellipse cx="258.4" cy="167.5" rx="1.6" ry="1.2" fill="#34405e" transform="rotate(45 258.4 167.5)"/><circle cx="260.6" cy="169.1" r="0.6" fill="#d6dc9a"/><ellipse cx="265.5" cy="167.5" rx="1.6" ry="1.2" fill="#34405e" transform="rotate(-45 265.5 167.5)"/><circle cx="267.7" cy="169.1" r="0.6" fill="#d6dc9a"/><ellipse cx="272.6" cy="167.5" rx="1.6" ry="1.2" fill="#34405e" transform="rotate(45 272.6 167.5)"/><circle cx="274.8" cy="169.1" r="0.6" fill="#d6dc9a"/><ellipse cx="279.7" cy="167.5" rx="1.6" ry="1.2" fill="#34405e" transform="rotate(-45 279.7 167.5)"/><circle cx="281.9" cy="169.1" r="0.6" fill="#d6dc9a"/><ellipse cx="286.8" cy="167.5" rx="1.6" ry="1.2" fill="#34405e" transform="rotate(45 286.8 167.5)"/><circle cx="289.0" cy="169.1" r="0.6" fill="#d6dc9a"/><ellipse cx="293.9" cy="167.5" rx="1.6" ry="1.2" fill="#34405e" transform="rotate(-45 293.9 167.5)"/><circle cx="296.1" cy="169.1" r="0.6" fill="#d6dc9a"/><ellipse cx="301.0" cy="167.5" rx="1.6" ry="1.2" fill="#34405e" transform="rotate(45 301.0 167.5)"/><circle cx="303.2" cy="169.1" r="0.6" fill="#d6dc9a"/><ellipse cx="308.1" cy="167.5" rx="1.6" ry="1.2" fill="#34405e" transform="rotate(-45 308.1 167.5)"/><circle cx="310.3" cy="169.1" r="0.6" fill="#d6dc9a"/><ellipse cx="45.4" cy="174.5" rx="1.6" ry="1.2" fill="#34405e" transform="rotate(-45 45.4 174.5)"/><circle cx="47.6" cy="176.1" r="0.6" fill="#d6dc9a"/><ellipse cx="52.5" cy="174.5" rx="1.6" ry="1.2" fill="#34405e" transform="rotate(45 52.5 174.5)"/><circle cx="54.7" cy="176.1" r="0.6" fill="#d6dc9a"/><ellipse cx="59.6" cy="174.5" rx="1.6" ry="1.2" fill="#34405e" transform="rotate(-45 59.6 174.5)"/><circle cx="61.8" cy="176.1" r="0.6" fill="#d6dc9a"/><ellipse cx="66.7" cy="174.5" rx="1.6" ry="1.2" fill="#34405e" transform="rotate(45 66.7 174.5)"/><circle cx="68.9" cy="176.1" r="0.6" fill="#d6dc9a"/><ellipse cx="73.8" cy="174.5" rx="1.6" ry="1.2" fill="#34405e" transform="rotate(-45 73.8 174.5)"/><circle cx="76.0" cy="176.1" r="0.6" fill="#d6dc9a"/><ellipse cx="80.9" cy="174.5" rx="1.6" ry="1.2" fill="#34405e" transform="rotate(45 80.9 174.5)"/><circle cx="83.1" cy="176.1" r="0.6" fill="#d6dc9a"/><ellipse cx="88.0" cy="174.5" rx="1.6" ry="1.2" fill="#34405e" transform="rotate(-45 88.0 174.5)"/><circle cx="90.2" cy="176.1" r="0.6" fill="#d6dc9a"/><ellipse cx="95.1" cy="174.5" rx="1.6" ry="1.2" fill="#34405e" transform="rotate(45 95.1 174.5)"/><circle cx="97.3" cy="176.1" r="0.6" fill="#d6dc9a"/><ellipse cx="102.2" cy="174.5" rx="1.6" ry="1.2" fill="#34405e" transform="rotate(-45 102.2 174.5)"/><circle cx="104.4" cy="176.1" r="0.6" fill="#d6dc9a"/><ellipse cx="109.3" cy="174.5" rx="1.6" ry="1.2" fill="#34405e" transform="rotate(45 109.3 174.5)"/><circle cx="111.5" cy="176.1" r="0.6" fill="#d6dc9a"/><ellipse cx="116.4" cy="174.5" rx="1.6" ry="1.2" fill="#34405e" transform="rotate(-45 116.4 174.5)"/><circle cx="118.6" cy="176.1" r="0.6" fill="#d6dc9a"/><ellipse cx="123.5" cy="174.5" rx="1.6" ry="1.2" fill="#34405e" transform="rotate(45 123.5 174.5)"/><circle cx="125.7" cy="176.1" r="0.6" fill="#d6dc9a"/><ellipse cx="130.6" cy="174.5" rx="1.6" ry="1.2" fill="#34405e" transform="rotate(-45 130.6 174.5)"/><circle cx="132.8" cy="176.1" r="0.6" fill="#d6dc9a"/><ellipse cx="137.7" cy="174.5" rx="1.6" ry="1.2" fill="#34405e" transform="rotate(45 137.7 174.5)"/><circle cx="139.9" cy="176.1" r="0.6" fill="#d6dc9a"/><ellipse cx="144.8" cy="174.5" rx="1.6" ry="1.2" fill="#34405e" transform="rotate(-45 144.8 174.5)"/><circle cx="147.0" cy="176.1" r="0.6" fill="#d6dc9a"/><ellipse cx="151.9" cy="174.5" rx="1.6" ry="1.2" fill="#34405e" transform="rotate(45 151.9 174.5)"/><circle cx="154.1" cy="176.1" r="0.6" fill="#d6dc9a"/><ellipse cx="159.0" cy="174.5" rx="1.6" ry="1.2" fill="#34405e" transform="rotate(-45 159.0 174.5)"/><circle cx="161.2" cy="176.1" r="0.6" fill="#d6dc9a"/><ellipse cx="166.1" cy="174.5" rx="1.6" ry="1.2" fill="#34405e" transform="rotate(45 166.1 174.5)"/><circle cx="168.3" cy="176.1" r="0.6" fill="#d6dc9a"/><ellipse cx="173.2" cy="174.5" rx="1.6" ry="1.2" fill="#34405e" transform="rotate(-45 173.2 174.5)"/><circle cx="175.4" cy="176.1" r="0.6" fill="#d6dc9a"/><ellipse cx="180.3" cy="174.5" rx="1.6" ry="1.2" fill="#34405e" transform="rotate(45 180.3 174.5)"/><circle cx="182.5" cy="176.1" r="0.6" fill="#d6dc9a"/><ellipse cx="187.4" cy="174.5" rx="1.6" ry="1.2" fill="#34405e" transform="rotate(-45 187.4 174.5)"/><circle cx="189.6" cy="176.1" r="0.6" fill="#d6dc9a"/><ellipse cx="194.5" cy="174.5" rx="1.6" ry="1.2" fill="#34405e" transform="rotate(45 194.5 174.5)"/><circle cx="196.7" cy="176.1" r="0.6" fill="#d6dc9a"/><ellipse cx="201.6" cy="174.5" rx="1.6" ry="1.2" fill="#34405e" transform="rotate(-45 201.6 174.5)"/><circle cx="203.8" cy="176.1" r="0.6" fill="#d6dc9a"/><ellipse cx="208.7" cy="174.5" rx="1.6" ry="1.2" fill="#34405e" transform="rotate(45 208.7 174.5)"/><circle cx="210.9" cy="176.1" r="0.6" fill="#d6dc9a"/><ellipse cx="215.8" cy="174.5" rx="1.6" ry="1.2" fill="#34405e" transform="rotate(-45 215.8 174.5)"/><circle cx="218.0" cy="176.1" r="0.6" fill="#d6dc9a"/><ellipse cx="222.9" cy="174.5" rx="1.6" ry="1.2" fill="#34405e" transform="rotate(45 222.9 174.5)"/><circle cx="225.1" cy="176.1" r="0.6" fill="#d6dc9a"/><ellipse cx="230.0" cy="174.5" rx="1.6" ry="1.2" fill="#34405e" transform="rotate(-45 230.0 174.5)"/><circle cx="232.2" cy="176.1" r="0.6" fill="#d6dc9a"/><ellipse cx="237.1" cy="174.5" rx="1.6" ry="1.2" fill="#34405e" transform="rotate(45 237.1 174.5)"/><circle cx="239.3" cy="176.1" r="0.6" fill="#d6dc9a"/><ellipse cx="244.2" cy="174.5" rx="1.6" ry="1.2" fill="#34405e" transform="rotate(-45 244.2 174.5)"/><circle cx="246.4" cy="176.1" r="0.6" fill="#d6dc9a"/><ellipse cx="251.3" cy="174.5" rx="1.6" ry="1.2" fill="#34405e" transform="rotate(45 251.3 174.5)"/><circle cx="253.5" cy="176.1" r="0.6" fill="#d6dc9a"/><ellipse cx="258.4" cy="174.5" rx="1.6" ry="1.2" fill="#34405e" transform="rotate(-45 258.4 174.5)"/><circle cx="260.6" cy="176.1" r="0.6" fill="#d6dc9a"/><ellipse cx="265.5" cy="174.5" rx="1.6" ry="1.2" fill="#34405e" transform="rotate(45 265.5 174.5)"/><circle cx="267.7" cy="176.1" r="0.6" fill="#d6dc9a"/><ellipse cx="272.6" cy="174.5" rx="1.6" ry="1.2" fill="#34405e" transform="rotate(-45 272.6 174.5)"/><circle cx="274.8" cy="176.1" r="0.6" fill="#d6dc9a"/><ellipse cx="279.7" cy="174.5" rx="1.6" ry="1.2" fill="#34405e" transform="rotate(45 279.7 174.5)"/><circle cx="281.9" cy="176.1" r="0.6" fill="#d6dc9a"/><ellipse cx="286.8" cy="174.5" rx="1.6" ry="1.2" fill="#34405e" transform="rotate(-45 286.8 174.5)"/><circle cx="289.0" cy="176.1" r="0.6" fill="#d6dc9a"/><ellipse cx="293.9" cy="174.5" rx="1.6" ry="1.2" fill="#34405e" transform="rotate(45 293.9 174.5)"/><circle cx="296.1" cy="176.1" r="0.6" fill="#d6dc9a"/><ellipse cx="301.0" cy="174.5" rx="1.6" ry="1.2" fill="#34405e" transform="rotate(-45 301.0 174.5)"/><circle cx="303.2" cy="176.1" r="0.6" fill="#d6dc9a"/><ellipse cx="308.1" cy="174.5" rx="1.6" ry="1.2" fill="#34405e" transform="rotate(45 308.1 174.5)"/><circle cx="310.3" cy="176.1" r="0.6" fill="#d6dc9a"/><ellipse cx="45.4" cy="181.5" rx="1.6" ry="1.2" fill="#34405e" transform="rotate(45 45.4 181.5)"/><circle cx="47.6" cy="183.1" r="0.6" fill="#d6dc9a"/><ellipse cx="52.5" cy="181.5" rx="1.6" ry="1.2" fill="#34405e" transform="rotate(-45 52.5 181.5)"/><circle cx="54.7" cy="183.1" r="0.6" fill="#d6dc9a"/><ellipse cx="59.6" cy="181.5" rx="1.6" ry="1.2" fill="#34405e" transform="rotate(45 59.6 181.5)"/><circle cx="61.8" cy="183.1" r="0.6" fill="#d6dc9a"/><ellipse cx="66.7" cy="181.5" rx="1.6" ry="1.2" fill="#34405e" transform="rotate(-45 66.7 181.5)"/><circle cx="68.9" cy="183.1" r="0.6" fill="#d6dc9a"/><ellipse cx="73.8" cy="181.5" rx="1.6" ry="1.2" fill="#34405e" transform="rotate(45 73.8 181.5)"/><circle cx="76.0" cy="183.1" r="0.6" fill="#d6dc9a"/><ellipse cx="80.9" cy="181.5" rx="1.6" ry="1.2" fill="#34405e" transform="rotate(-45 80.9 181.5)"/><circle cx="83.1" cy="183.1" r="0.6" fill="#d6dc9a"/><ellipse cx="88.0" cy="181.5" rx="1.6" ry="1.2" fill="#34405e" transform="rotate(45 88.0 181.5)"/><circle cx="90.2" cy="183.1" r="0.6" fill="#d6dc9a"/><ellipse cx="95.1" cy="181.5" rx="1.6" ry="1.2" fill="#34405e" transform="rotate(-45 95.1 181.5)"/><circle cx="97.3" cy="183.1" r="0.6" fill="#d6dc9a"/><ellipse cx="102.2" cy="181.5" rx="1.6" ry="1.2" fill="#34405e" transform="rotate(45 102.2 181.5)"/><circle cx="104.4" cy="183.1" r="0.6" fill="#d6dc9a"/><ellipse cx="109.3" cy="181.5" rx="1.6" ry="1.2" fill="#34405e" transform="rotate(-45 109.3 181.5)"/><circle cx="111.5" cy="183.1" r="0.6" fill="#d6dc9a"/><ellipse cx="116.4" cy="181.5" rx="1.6" ry="1.2" fill="#34405e" transform="rotate(45 116.4 181.5)"/><circle cx="118.6" cy="183.1" r="0.6" fill="#d6dc9a"/><ellipse cx="123.5" cy="181.5" rx="1.6" ry="1.2" fill="#34405e" transform="rotate(-45 123.5 181.5)"/><circle cx="125.7" cy="183.1" r="0.6" fill="#d6dc9a"/><ellipse cx="130.6" cy="181.5" rx="1.6" ry="1.2" fill="#34405e" transform="rotate(45 130.6 181.5)"/><circle cx="132.8" cy="183.1" r="0.6" fill="#d6dc9a"/><ellipse cx="137.7" cy="181.5" rx="1.6" ry="1.2" fill="#34405e" transform="rotate(-45 137.7 181.5)"/><circle cx="139.9" cy="183.1" r="0.6" fill="#d6dc9a"/><ellipse cx="144.8" cy="181.5" rx="1.6" ry="1.2" fill="#34405e" transform="rotate(45 144.8 181.5)"/><circle cx="147.0" cy="183.1" r="0.6" fill="#d6dc9a"/><ellipse cx="151.9" cy="181.5" rx="1.6" ry="1.2" fill="#34405e" transform="rotate(-45 151.9 181.5)"/><circle cx="154.1" cy="183.1" r="0.6" fill="#d6dc9a"/><ellipse cx="159.0" cy="181.5" rx="1.6" ry="1.2" fill="#34405e" transform="rotate(45 159.0 181.5)"/><circle cx="161.2" cy="183.1" r="0.6" fill="#d6dc9a"/><ellipse cx="166.1" cy="181.5" rx="1.6" ry="1.2" fill="#34405e" transform="rotate(-45 166.1 181.5)"/><circle cx="168.3" cy="183.1" r="0.6" fill="#d6dc9a"/><ellipse cx="173.2" cy="181.5" rx="1.6" ry="1.2" fill="#34405e" transform="rotate(45 173.2 181.5)"/><circle cx="175.4" cy="183.1" r="0.6" fill="#d6dc9a"/><ellipse cx="180.3" cy="181.5" rx="1.6" ry="1.2" fill="#34405e" transform="rotate(-45 180.3 181.5)"/><circle cx="182.5" cy="183.1" r="0.6" fill="#d6dc9a"/><ellipse cx="187.4" cy="181.5" rx="1.6" ry="1.2" fill="#34405e" transform="rotate(45 187.4 181.5)"/><circle cx="189.6" cy="183.1" r="0.6" fill="#d6dc9a"/><ellipse cx="194.5" cy="181.5" rx="1.6" ry="1.2" fill="#34405e" transform="rotate(-45 194.5 181.5)"/><circle cx="196.7" cy="183.1" r="0.6" fill="#d6dc9a"/><ellipse cx="201.6" cy="181.5" rx="1.6" ry="1.2" fill="#34405e" transform="rotate(45 201.6 181.5)"/><circle cx="203.8" cy="183.1" r="0.6" fill="#d6dc9a"/><ellipse cx="208.7" cy="181.5" rx="1.6" ry="1.2" fill="#34405e" transform="rotate(-45 208.7 181.5)"/><circle cx="210.9" cy="183.1" r="0.6" fill="#d6dc9a"/><ellipse cx="215.8" cy="181.5" rx="1.6" ry="1.2" fill="#34405e" transform="rotate(45 215.8 181.5)"/><circle cx="218.0" cy="183.1" r="0.6" fill="#d6dc9a"/><ellipse cx="222.9" cy="181.5" rx="1.6" ry="1.2" fill="#34405e" transform="rotate(-45 222.9 181.5)"/><circle cx="225.1" cy="183.1" r="0.6" fill="#d6dc9a"/><ellipse cx="230.0" cy="181.5" rx="1.6" ry="1.2" fill="#34405e" transform="rotate(45 230.0 181.5)"/><circle cx="232.2" cy="183.1" r="0.6" fill="#d6dc9a"/><ellipse cx="237.1" cy="181.5" rx="1.6" ry="1.2" fill="#34405e" transform="rotate(-45 237.1 181.5)"/><circle cx="239.3" cy="183.1" r="0.6" fill="#d6dc9a"/><ellipse cx="244.2" cy="181.5" rx="1.6" ry="1.2" fill="#34405e" transform="rotate(45 244.2 181.5)"/><circle cx="246.4" cy="183.1" r="0.6" fill="#d6dc9a"/><ellipse cx="251.3" cy="181.5" rx="1.6" ry="1.2" fill="#34405e" transform="rotate(-45 251.3 181.5)"/><circle cx="253.5" cy="183.1" r="0.6" fill="#d6dc9a"/><ellipse cx="258.4" cy="181.5" rx="1.6" ry="1.2" fill="#34405e" transform="rotate(45 258.4 181.5)"/><circle cx="260.6" cy="183.1" r="0.6" fill="#d6dc9a"/><ellipse cx="265.5" cy="181.5" rx="1.6" ry="1.2" fill="#34405e" transform="rotate(-45 265.5 181.5)"/><circle cx="267.7" cy="183.1" r="0.6" fill="#d6dc9a"/><ellipse cx="272.6" cy="181.5" rx="1.6" ry="1.2" fill="#34405e" transform="rotate(45 272.6 181.5)"/><circle cx="274.8" cy="183.1" r="0.6" fill="#d6dc9a"/><ellipse cx="279.7" cy="181.5" rx="1.6" ry="1.2" fill="#34405e" transform="rotate(-45 279.7 181.5)"/><circle cx="281.9" cy="183.1" r="0.6" fill="#d6dc9a"/><ellipse cx="286.8" cy="181.5" rx="1.6" ry="1.2" fill="#34405e" transform="rotate(45 286.8 181.5)"/><circle cx="289.0" cy="183.1" r="0.6" fill="#d6dc9a"/><ellipse cx="293.9" cy="181.5" rx="1.6" ry="1.2" fill="#34405e" transform="rotate(-45 293.9 181.5)"/><circle cx="296.1" cy="183.1" r="0.6" fill="#d6dc9a"/><ellipse cx="301.0" cy="181.5" rx="1.6" ry="1.2" fill="#34405e" transform="rotate(45 301.0 181.5)"/><circle cx="303.2" cy="183.1" r="0.6" fill="#d6dc9a"/><ellipse cx="308.1" cy="181.5" rx="1.6" ry="1.2" fill="#34405e" transform="rotate(-45 308.1 181.5)"/><circle cx="310.3" cy="183.1" r="0.6" fill="#d6dc9a"/><ellipse cx="45.4" cy="188.5" rx="1.6" ry="1.2" fill="#34405e" transform="rotate(-45 45.4 188.5)"/><circle cx="47.6" cy="190.1" r="0.6" fill="#d6dc9a"/><ellipse cx="52.5" cy="188.5" rx="1.6" ry="1.2" fill="#34405e" transform="rotate(45 52.5 188.5)"/><circle cx="54.7" cy="190.1" r="0.6" fill="#d6dc9a"/><ellipse cx="59.6" cy="188.5" rx="1.6" ry="1.2" fill="#34405e" transform="rotate(-45 59.6 188.5)"/><circle cx="61.8" cy="190.1" r="0.6" fill="#d6dc9a"/><ellipse cx="66.7" cy="188.5" rx="1.6" ry="1.2" fill="#34405e" transform="rotate(45 66.7 188.5)"/><circle cx="68.9" cy="190.1" r="0.6" fill="#d6dc9a"/><ellipse cx="73.8" cy="188.5" rx="1.6" ry="1.2" fill="#34405e" transform="rotate(-45 73.8 188.5)"/><circle cx="76.0" cy="190.1" r="0.6" fill="#d6dc9a"/><ellipse cx="80.9" cy="188.5" rx="1.6" ry="1.2" fill="#34405e" transform="rotate(45 80.9 188.5)"/><circle cx="83.1" cy="190.1" r="0.6" fill="#d6dc9a"/><ellipse cx="88.0" cy="188.5" rx="1.6" ry="1.2" fill="#34405e" transform="rotate(-45 88.0 188.5)"/><circle cx="90.2" cy="190.1" r="0.6" fill="#d6dc9a"/><ellipse cx="95.1" cy="188.5" rx="1.6" ry="1.2" fill="#34405e" transform="rotate(45 95.1 188.5)"/><circle cx="97.3" cy="190.1" r="0.6" fill="#d6dc9a"/><ellipse cx="102.2" cy="188.5" rx="1.6" ry="1.2" fill="#34405e" transform="rotate(-45 102.2 188.5)"/><circle cx="104.4" cy="190.1" r="0.6" fill="#d6dc9a"/><ellipse cx="109.3" cy="188.5" rx="1.6" ry="1.2" fill="#34405e" transform="rotate(45 109.3 188.5)"/><circle cx="111.5" cy="190.1" r="0.6" fill="#d6dc9a"/><ellipse cx="116.4" cy="188.5" rx="1.6" ry="1.2" fill="#34405e" transform="rotate(-45 116.4 188.5)"/><circle cx="118.6" cy="190.1" r="0.6" fill="#d6dc9a"/><ellipse cx="123.5" cy="188.5" rx="1.6" ry="1.2" fill="#34405e" transform="rotate(45 123.5 188.5)"/><circle cx="125.7" cy="190.1" r="0.6" fill="#d6dc9a"/><ellipse cx="130.6" cy="188.5" rx="1.6" ry="1.2" fill="#34405e" transform="rotate(-45 130.6 188.5)"/><circle cx="132.8" cy="190.1" r="0.6" fill="#d6dc9a"/><ellipse cx="137.7" cy="188.5" rx="1.6" ry="1.2" fill="#34405e" transform="rotate(45 137.7 188.5)"/><circle cx="139.9" cy="190.1" r="0.6" fill="#d6dc9a"/><ellipse cx="144.8" cy="188.5" rx="1.6" ry="1.2" fill="#34405e" transform="rotate(-45 144.8 188.5)"/><circle cx="147.0" cy="190.1" r="0.6" fill="#d6dc9a"/><ellipse cx="151.9" cy="188.5" rx="1.6" ry="1.2" fill="#34405e" transform="rotate(45 151.9 188.5)"/><circle cx="154.1" cy="190.1" r="0.6" fill="#d6dc9a"/><ellipse cx="159.0" cy="188.5" rx="1.6" ry="1.2" fill="#34405e" transform="rotate(-45 159.0 188.5)"/><circle cx="161.2" cy="190.1" r="0.6" fill="#d6dc9a"/><ellipse cx="166.1" cy="188.5" rx="1.6" ry="1.2" fill="#34405e" transform="rotate(45 166.1 188.5)"/><circle cx="168.3" cy="190.1" r="0.6" fill="#d6dc9a"/><ellipse cx="173.2" cy="188.5" rx="1.6" ry="1.2" fill="#34405e" transform="rotate(-45 173.2 188.5)"/><circle cx="175.4" cy="190.1" r="0.6" fill="#d6dc9a"/><ellipse cx="180.3" cy="188.5" rx="1.6" ry="1.2" fill="#34405e" transform="rotate(45 180.3 188.5)"/><circle cx="182.5" cy="190.1" r="0.6" fill="#d6dc9a"/><ellipse cx="187.4" cy="188.5" rx="1.6" ry="1.2" fill="#34405e" transform="rotate(-45 187.4 188.5)"/><circle cx="189.6" cy="190.1" r="0.6" fill="#d6dc9a"/><ellipse cx="194.5" cy="188.5" rx="1.6" ry="1.2" fill="#34405e" transform="rotate(45 194.5 188.5)"/><circle cx="196.7" cy="190.1" r="0.6" fill="#d6dc9a"/><ellipse cx="201.6" cy="188.5" rx="1.6" ry="1.2" fill="#34405e" transform="rotate(-45 201.6 188.5)"/><circle cx="203.8" cy="190.1" r="0.6" fill="#d6dc9a"/><ellipse cx="208.7" cy="188.5" rx="1.6" ry="1.2" fill="#34405e" transform="rotate(45 208.7 188.5)"/><circle cx="210.9" cy="190.1" r="0.6" fill="#d6dc9a"/><ellipse cx="215.8" cy="188.5" rx="1.6" ry="1.2" fill="#34405e" transform="rotate(-45 215.8 188.5)"/><circle cx="218.0" cy="190.1" r="0.6" fill="#d6dc9a"/><ellipse cx="222.9" cy="188.5" rx="1.6" ry="1.2" fill="#34405e" transform="rotate(45 222.9 188.5)"/><circle cx="225.1" cy="190.1" r="0.6" fill="#d6dc9a"/><ellipse cx="230.0" cy="188.5" rx="1.6" ry="1.2" fill="#34405e" transform="rotate(-45 230.0 188.5)"/><circle cx="232.2" cy="190.1" r="0.6" fill="#d6dc9a"/><ellipse cx="237.1" cy="188.5" rx="1.6" ry="1.2" fill="#34405e" transform="rotate(45 237.1 188.5)"/><circle cx="239.3" cy="190.1" r="0.6" fill="#d6dc9a"/><ellipse cx="244.2" cy="188.5" rx="1.6" ry="1.2" fill="#34405e" transform="rotate(-45 244.2 188.5)"/><circle cx="246.4" cy="190.1" r="0.6" fill="#d6dc9a"/><ellipse cx="251.3" cy="188.5" rx="1.6" ry="1.2" fill="#34405e" transform="rotate(45 251.3 188.5)"/><circle cx="253.5" cy="190.1" r="0.6" fill="#d6dc9a"/><ellipse cx="258.4" cy="188.5" rx="1.6" ry="1.2" fill="#34405e" transform="rotate(-45 258.4 188.5)"/><circle cx="260.6" cy="190.1" r="0.6" fill="#d6dc9a"/><ellipse cx="265.5" cy="188.5" rx="1.6" ry="1.2" fill="#34405e" transform="rotate(45 265.5 188.5)"/><circle cx="267.7" cy="190.1" r="0.6" fill="#d6dc9a"/><ellipse cx="272.6" cy="188.5" rx="1.6" ry="1.2" fill="#34405e" transform="rotate(-45 272.6 188.5)"/><circle cx="274.8" cy="190.1" r="0.6" fill="#d6dc9a"/><ellipse cx="279.7" cy="188.5" rx="1.6" ry="1.2" fill="#34405e" transform="rotate(45 279.7 188.5)"/><circle cx="281.9" cy="190.1" r="0.6" fill="#d6dc9a"/><ellipse cx="286.8" cy="188.5" rx="1.6" ry="1.2" fill="#34405e" transform="rotate(-45 286.8 188.5)"/><circle cx="289.0" cy="190.1" r="0.6" fill="#d6dc9a"/><ellipse cx="293.9" cy="188.5" rx="1.6" ry="1.2" fill="#34405e" transform="rotate(45 293.9 188.5)"/><circle cx="296.1" cy="190.1" r="0.6" fill="#d6dc9a"/><ellipse cx="301.0" cy="188.5" rx="1.6" ry="1.2" fill="#34405e" transform="rotate(-45 301.0 188.5)"/><circle cx="303.2" cy="190.1" r="0.6" fill="#d6dc9a"/><ellipse cx="308.1" cy="188.5" rx="1.6" ry="1.2" fill="#34405e" transform="rotate(45 308.1 188.5)"/><circle cx="310.3" cy="190.1" r="0.6" fill="#d6dc9a"/><ellipse cx="45.4" cy="195.6" rx="1.6" ry="1.2" fill="#34405e" transform="rotate(45 45.4 195.6)"/><circle cx="47.6" cy="197.2" r="0.6" fill="#d6dc9a"/><ellipse cx="52.5" cy="195.6" rx="1.6" ry="1.2" fill="#34405e" transform="rotate(-45 52.5 195.6)"/><circle cx="54.7" cy="197.2" r="0.6" fill="#d6dc9a"/><ellipse cx="59.6" cy="195.6" rx="1.6" ry="1.2" fill="#34405e" transform="rotate(45 59.6 195.6)"/><circle cx="61.8" cy="197.2" r="0.6" fill="#d6dc9a"/><ellipse cx="66.7" cy="195.6" rx="1.6" ry="1.2" fill="#34405e" transform="rotate(-45 66.7 195.6)"/><circle cx="68.9" cy="197.2" r="0.6" fill="#d6dc9a"/><ellipse cx="73.8" cy="195.6" rx="1.6" ry="1.2" fill="#34405e" transform="rotate(45 73.8 195.6)"/><circle cx="76.0" cy="197.2" r="0.6" fill="#d6dc9a"/><ellipse cx="80.9" cy="195.6" rx="1.6" ry="1.2" fill="#34405e" transform="rotate(-45 80.9 195.6)"/><circle cx="83.1" cy="197.2" r="0.6" fill="#d6dc9a"/><ellipse cx="88.0" cy="195.6" rx="1.6" ry="1.2" fill="#34405e" transform="rotate(45 88.0 195.6)"/><circle cx="90.2" cy="197.2" r="0.6" fill="#d6dc9a"/><ellipse cx="95.1" cy="195.6" rx="1.6" ry="1.2" fill="#34405e" transform="rotate(-45 95.1 195.6)"/><circle cx="97.3" cy="197.2" r="0.6" fill="#d6dc9a"/><ellipse cx="102.2" cy="195.6" rx="1.6" ry="1.2" fill="#34405e" transform="rotate(45 102.2 195.6)"/><circle cx="104.4" cy="197.2" r="0.6" fill="#d6dc9a"/><ellipse cx="109.3" cy="195.6" rx="1.6" ry="1.2" fill="#34405e" transform="rotate(-45 109.3 195.6)"/><circle cx="111.5" cy="197.2" r="0.6" fill="#d6dc9a"/><ellipse cx="116.4" cy="195.6" rx="1.6" ry="1.2" fill="#34405e" transform="rotate(45 116.4 195.6)"/><circle cx="118.6" cy="197.2" r="0.6" fill="#d6dc9a"/><ellipse cx="123.5" cy="195.6" rx="1.6" ry="1.2" fill="#34405e" transform="rotate(-45 123.5 195.6)"/><circle cx="125.7" cy="197.2" r="0.6" fill="#d6dc9a"/><ellipse cx="130.6" cy="195.6" rx="1.6" ry="1.2" fill="#34405e" transform="rotate(45 130.6 195.6)"/><circle cx="132.8" cy="197.2" r="0.6" fill="#d6dc9a"/><ellipse cx="137.7" cy="195.6" rx="1.6" ry="1.2" fill="#34405e" transform="rotate(-45 137.7 195.6)"/><circle cx="139.9" cy="197.2" r="0.6" fill="#d6dc9a"/><ellipse cx="144.8" cy="195.6" rx="1.6" ry="1.2" fill="#34405e" transform="rotate(45 144.8 195.6)"/><circle cx="147.0" cy="197.2" r="0.6" fill="#d6dc9a"/><ellipse cx="151.9" cy="195.6" rx="1.6" ry="1.2" fill="#34405e" transform="rotate(-45 151.9 195.6)"/><circle cx="154.1" cy="197.2" r="0.6" fill="#d6dc9a"/><ellipse cx="159.0" cy="195.6" rx="1.6" ry="1.2" fill="#34405e" transform="rotate(45 159.0 195.6)"/><circle cx="161.2" cy="197.2" r="0.6" fill="#d6dc9a"/><ellipse cx="166.1" cy="195.6" rx="1.6" ry="1.2" fill="#34405e" transform="rotate(-45 166.1 195.6)"/><circle cx="168.3" cy="197.2" r="0.6" fill="#d6dc9a"/><ellipse cx="173.2" cy="195.6" rx="1.6" ry="1.2" fill="#34405e" transform="rotate(45 173.2 195.6)"/><circle cx="175.4" cy="197.2" r="0.6" fill="#d6dc9a"/><ellipse cx="180.3" cy="195.6" rx="1.6" ry="1.2" fill="#34405e" transform="rotate(-45 180.3 195.6)"/><circle cx="182.5" cy="197.2" r="0.6" fill="#d6dc9a"/><ellipse cx="187.4" cy="195.6" rx="1.6" ry="1.2" fill="#34405e" transform="rotate(45 187.4 195.6)"/><circle cx="189.6" cy="197.2" r="0.6" fill="#d6dc9a"/><ellipse cx="194.5" cy="195.6" rx="1.6" ry="1.2" fill="#34405e" transform="rotate(-45 194.5 195.6)"/><circle cx="196.7" cy="197.2" r="0.6" fill="#d6dc9a"/><ellipse cx="201.6" cy="195.6" rx="1.6" ry="1.2" fill="#34405e" transform="rotate(45 201.6 195.6)"/><circle cx="203.8" cy="197.2" r="0.6" fill="#d6dc9a"/><ellipse cx="208.7" cy="195.6" rx="1.6" ry="1.2" fill="#34405e" transform="rotate(-45 208.7 195.6)"/><circle cx="210.9" cy="197.2" r="0.6" fill="#d6dc9a"/><ellipse cx="215.8" cy="195.6" rx="1.6" ry="1.2" fill="#34405e" transform="rotate(45 215.8 195.6)"/><circle cx="218.0" cy="197.2" r="0.6" fill="#d6dc9a"/><ellipse cx="222.9" cy="195.6" rx="1.6" ry="1.2" fill="#34405e" transform="rotate(-45 222.9 195.6)"/><circle cx="225.1" cy="197.2" r="0.6" fill="#d6dc9a"/><ellipse cx="230.0" cy="195.6" rx="1.6" ry="1.2" fill="#34405e" transform="rotate(45 230.0 195.6)"/><circle cx="232.2" cy="197.2" r="0.6" fill="#d6dc9a"/><ellipse cx="237.1" cy="195.6" rx="1.6" ry="1.2" fill="#34405e" transform="rotate(-45 237.1 195.6)"/><circle cx="239.3" cy="197.2" r="0.6" fill="#d6dc9a"/><ellipse cx="244.2" cy="195.6" rx="1.6" ry="1.2" fill="#34405e" transform="rotate(45 244.2 195.6)"/><circle cx="246.4" cy="197.2" r="0.6" fill="#d6dc9a"/><ellipse cx="251.3" cy="195.6" rx="1.6" ry="1.2" fill="#34405e" transform="rotate(-45 251.3 195.6)"/><circle cx="253.5" cy="197.2" r="0.6" fill="#d6dc9a"/><ellipse cx="258.4" cy="195.6" rx="1.6" ry="1.2" fill="#34405e" transform="rotate(45 258.4 195.6)"/><circle cx="260.6" cy="197.2" r="0.6" fill="#d6dc9a"/><ellipse cx="265.5" cy="195.6" rx="1.6" ry="1.2" fill="#34405e" transform="rotate(-45 265.5 195.6)"/><circle cx="267.7" cy="197.2" r="0.6" fill="#d6dc9a"/><ellipse cx="272.6" cy="195.6" rx="1.6" ry="1.2" fill="#34405e" transform="rotate(45 272.6 195.6)"/><circle cx="274.8" cy="197.2" r="0.6" fill="#d6dc9a"/><ellipse cx="279.7" cy="195.6" rx="1.6" ry="1.2" fill="#34405e" transform="rotate(-45 279.7 195.6)"/><circle cx="281.9" cy="197.2" r="0.6" fill="#d6dc9a"/><ellipse cx="286.8" cy="195.6" rx="1.6" ry="1.2" fill="#34405e" transform="rotate(45 286.8 195.6)"/><circle cx="289.0" cy="197.2" r="0.6" fill="#d6dc9a"/><ellipse cx="293.9" cy="195.6" rx="1.6" ry="1.2" fill="#34405e" transform="rotate(-45 293.9 195.6)"/><circle cx="296.1" cy="197.2" r="0.6" fill="#d6dc9a"/><ellipse cx="301.0" cy="195.6" rx="1.6" ry="1.2" fill="#34405e" transform="rotate(45 301.0 195.6)"/><circle cx="303.2" cy="197.2" r="0.6" fill="#d6dc9a"/><ellipse cx="308.1" cy="195.6" rx="1.6" ry="1.2" fill="#34405e" transform="rotate(-45 308.1 195.6)"/><circle cx="310.3" cy="197.2" r="0.6" fill="#d6dc9a"/></g>
<text x="170.5" y="134.0" font-size="10.00" fill="#222" text-anchor="middle" font-weight="normal" >I</text>
<g><ellipse cx="491.0" cy="138.6" rx="1.8" ry="1.25" fill="#3e4860" transform="rotate(50 491.0 138.6)"/><circle cx="493.5" cy="140.1" r="0.7" fill="#c8cf88"/><ellipse cx="498.1" cy="138.6" rx="1.8" ry="1.25" fill="#3e4860" transform="rotate(-50 498.1 138.6)"/><circle cx="500.6" cy="140.1" r="0.7" fill="#c8cf88"/><ellipse cx="505.3" cy="138.6" rx="1.8" ry="1.25" fill="#3e4860" transform="rotate(50 505.3 138.6)"/><circle cx="507.8" cy="140.1" r="0.7" fill="#c8cf88"/><ellipse cx="512.5" cy="138.6" rx="1.8" ry="1.25" fill="#3e4860" transform="rotate(-50 512.5 138.6)"/><circle cx="515.0" cy="140.1" r="0.7" fill="#c8cf88"/><ellipse cx="519.6" cy="138.6" rx="1.8" ry="1.25" fill="#3e4860" transform="rotate(50 519.6 138.6)"/><circle cx="522.1" cy="140.1" r="0.7" fill="#c8cf88"/><ellipse cx="526.8" cy="138.6" rx="1.8" ry="1.25" fill="#3e4860" transform="rotate(-50 526.8 138.6)"/><circle cx="529.2" cy="140.1" r="0.7" fill="#c8cf88"/><ellipse cx="533.9" cy="138.6" rx="1.8" ry="1.25" fill="#3e4860" transform="rotate(50 533.9 138.6)"/><circle cx="536.4" cy="140.1" r="0.7" fill="#c8cf88"/><ellipse cx="541.0" cy="138.6" rx="1.8" ry="1.25" fill="#3e4860" transform="rotate(-50 541.0 138.6)"/><circle cx="543.5" cy="140.1" r="0.7" fill="#c8cf88"/><ellipse cx="491.0" cy="145.7" rx="1.8" ry="1.25" fill="#3e4860" transform="rotate(50 491.0 145.7)"/><circle cx="493.5" cy="147.2" r="0.7" fill="#c8cf88"/><ellipse cx="498.1" cy="145.7" rx="1.8" ry="1.25" fill="#3e4860" transform="rotate(-50 498.1 145.7)"/><circle cx="500.6" cy="147.2" r="0.7" fill="#c8cf88"/><ellipse cx="505.3" cy="145.7" rx="1.8" ry="1.25" fill="#3e4860" transform="rotate(50 505.3 145.7)"/><circle cx="507.8" cy="147.2" r="0.7" fill="#c8cf88"/><ellipse cx="512.5" cy="145.7" rx="1.8" ry="1.25" fill="#3e4860" transform="rotate(-50 512.5 145.7)"/><circle cx="515.0" cy="147.2" r="0.7" fill="#c8cf88"/><ellipse cx="519.6" cy="145.7" rx="1.8" ry="1.25" fill="#3e4860" transform="rotate(50 519.6 145.7)"/><circle cx="522.1" cy="147.2" r="0.7" fill="#c8cf88"/><ellipse cx="526.8" cy="145.7" rx="1.8" ry="1.25" fill="#3e4860" transform="rotate(-50 526.8 145.7)"/><circle cx="529.2" cy="147.2" r="0.7" fill="#c8cf88"/><ellipse cx="533.9" cy="145.7" rx="1.8" ry="1.25" fill="#3e4860" transform="rotate(50 533.9 145.7)"/><circle cx="536.4" cy="147.2" r="0.7" fill="#c8cf88"/><ellipse cx="541.0" cy="145.7" rx="1.8" ry="1.25" fill="#3e4860" transform="rotate(-50 541.0 145.7)"/><circle cx="543.5" cy="147.2" r="0.7" fill="#c8cf88"/><ellipse cx="491.0" cy="152.8" rx="1.8" ry="1.25" fill="#3e4860" transform="rotate(50 491.0 152.8)"/><circle cx="493.5" cy="154.3" r="0.7" fill="#c8cf88"/><ellipse cx="498.1" cy="152.8" rx="1.8" ry="1.25" fill="#3e4860" transform="rotate(-50 498.1 152.8)"/><circle cx="500.6" cy="154.3" r="0.7" fill="#c8cf88"/><ellipse cx="505.3" cy="152.8" rx="1.8" ry="1.25" fill="#3e4860" transform="rotate(50 505.3 152.8)"/><circle cx="507.8" cy="154.3" r="0.7" fill="#c8cf88"/><ellipse cx="512.5" cy="152.8" rx="1.8" ry="1.25" fill="#3e4860" transform="rotate(-50 512.5 152.8)"/><circle cx="515.0" cy="154.3" r="0.7" fill="#c8cf88"/><ellipse cx="519.6" cy="152.8" rx="1.8" ry="1.25" fill="#3e4860" transform="rotate(50 519.6 152.8)"/><circle cx="522.1" cy="154.3" r="0.7" fill="#c8cf88"/><ellipse cx="526.8" cy="152.8" rx="1.8" ry="1.25" fill="#3e4860" transform="rotate(-50 526.8 152.8)"/><circle cx="529.2" cy="154.3" r="0.7" fill="#c8cf88"/><ellipse cx="533.9" cy="152.8" rx="1.8" ry="1.25" fill="#3e4860" transform="rotate(50 533.9 152.8)"/><circle cx="536.4" cy="154.3" r="0.7" fill="#c8cf88"/><ellipse cx="541.0" cy="152.8" rx="1.8" ry="1.25" fill="#3e4860" transform="rotate(-50 541.0 152.8)"/><circle cx="543.5" cy="154.3" r="0.7" fill="#c8cf88"/><ellipse cx="491.0" cy="159.9" rx="1.8" ry="1.25" fill="#3e4860" transform="rotate(50 491.0 159.9)"/><circle cx="493.5" cy="161.4" r="0.7" fill="#c8cf88"/><ellipse cx="498.1" cy="159.9" rx="1.8" ry="1.25" fill="#3e4860" transform="rotate(-50 498.1 159.9)"/><circle cx="500.6" cy="161.4" r="0.7" fill="#c8cf88"/><ellipse cx="505.3" cy="159.9" rx="1.8" ry="1.25" fill="#3e4860" transform="rotate(50 505.3 159.9)"/><circle cx="507.8" cy="161.4" r="0.7" fill="#c8cf88"/><ellipse cx="512.5" cy="159.9" rx="1.8" ry="1.25" fill="#3e4860" transform="rotate(-50 512.5 159.9)"/><circle cx="515.0" cy="161.4" r="0.7" fill="#c8cf88"/><ellipse cx="519.6" cy="159.9" rx="1.8" ry="1.25" fill="#3e4860" transform="rotate(50 519.6 159.9)"/><circle cx="522.1" cy="161.4" r="0.7" fill="#c8cf88"/><ellipse cx="526.8" cy="159.9" rx="1.8" ry="1.25" fill="#3e4860" transform="rotate(-50 526.8 159.9)"/><circle cx="529.2" cy="161.4" r="0.7" fill="#c8cf88"/><ellipse cx="533.9" cy="159.9" rx="1.8" ry="1.25" fill="#3e4860" transform="rotate(50 533.9 159.9)"/><circle cx="536.4" cy="161.4" r="0.7" fill="#c8cf88"/><ellipse cx="541.0" cy="159.9" rx="1.8" ry="1.25" fill="#3e4860" transform="rotate(-50 541.0 159.9)"/><circle cx="543.5" cy="161.4" r="0.7" fill="#c8cf88"/><ellipse cx="491.0" cy="167.0" rx="1.8" ry="1.25" fill="#3e4860" transform="rotate(50 491.0 167.0)"/><circle cx="493.5" cy="168.5" r="0.7" fill="#c8cf88"/><ellipse cx="498.1" cy="167.0" rx="1.8" ry="1.25" fill="#3e4860" transform="rotate(-50 498.1 167.0)"/><circle cx="500.6" cy="168.5" r="0.7" fill="#c8cf88"/><ellipse cx="505.3" cy="167.0" rx="1.8" ry="1.25" fill="#3e4860" transform="rotate(50 505.3 167.0)"/><circle cx="507.8" cy="168.5" r="0.7" fill="#c8cf88"/><ellipse cx="512.5" cy="167.0" rx="1.8" ry="1.25" fill="#3e4860" transform="rotate(-50 512.5 167.0)"/><circle cx="515.0" cy="168.5" r="0.7" fill="#c8cf88"/><ellipse cx="519.6" cy="167.0" rx="1.8" ry="1.25" fill="#3e4860" transform="rotate(50 519.6 167.0)"/><circle cx="522.1" cy="168.5" r="0.7" fill="#c8cf88"/><ellipse cx="526.8" cy="167.0" rx="1.8" ry="1.25" fill="#3e4860" transform="rotate(-50 526.8 167.0)"/><circle cx="529.2" cy="168.5" r="0.7" fill="#c8cf88"/><ellipse cx="533.9" cy="167.0" rx="1.8" ry="1.25" fill="#3e4860" transform="rotate(50 533.9 167.0)"/><circle cx="536.4" cy="168.5" r="0.7" fill="#c8cf88"/><ellipse cx="541.0" cy="167.0" rx="1.8" ry="1.25" fill="#3e4860" transform="rotate(-50 541.0 167.0)"/><circle cx="543.5" cy="168.5" r="0.7" fill="#c8cf88"/><ellipse cx="491.0" cy="174.1" rx="1.8" ry="1.25" fill="#3e4860" transform="rotate(50 491.0 174.1)"/><circle cx="493.5" cy="175.6" r="0.7" fill="#c8cf88"/><ellipse cx="498.1" cy="174.1" rx="1.8" ry="1.25" fill="#3e4860" transform="rotate(-50 498.1 174.1)"/><circle cx="500.6" cy="175.6" r="0.7" fill="#c8cf88"/><ellipse cx="505.3" cy="174.1" rx="1.8" ry="1.25" fill="#3e4860" transform="rotate(50 505.3 174.1)"/><circle cx="507.8" cy="175.6" r="0.7" fill="#c8cf88"/><ellipse cx="512.5" cy="174.1" rx="1.8" ry="1.25" fill="#3e4860" transform="rotate(-50 512.5 174.1)"/><circle cx="515.0" cy="175.6" r="0.7" fill="#c8cf88"/><ellipse cx="519.6" cy="174.1" rx="1.8" ry="1.25" fill="#3e4860" transform="rotate(50 519.6 174.1)"/><circle cx="522.1" cy="175.6" r="0.7" fill="#c8cf88"/><ellipse cx="526.8" cy="174.1" rx="1.8" ry="1.25" fill="#3e4860" transform="rotate(-50 526.8 174.1)"/><circle cx="529.2" cy="175.6" r="0.7" fill="#c8cf88"/><ellipse cx="533.9" cy="174.1" rx="1.8" ry="1.25" fill="#3e4860" transform="rotate(50 533.9 174.1)"/><circle cx="536.4" cy="175.6" r="0.7" fill="#c8cf88"/><ellipse cx="541.0" cy="174.1" rx="1.8" ry="1.25" fill="#3e4860" transform="rotate(-50 541.0 174.1)"/><circle cx="543.5" cy="175.6" r="0.7" fill="#c8cf88"/><ellipse cx="491.0" cy="181.2" rx="1.8" ry="1.25" fill="#3e4860" transform="rotate(50 491.0 181.2)"/><circle cx="493.5" cy="182.7" r="0.7" fill="#c8cf88"/><ellipse cx="498.1" cy="181.2" rx="1.8" ry="1.25" fill="#3e4860" transform="rotate(-50 498.1 181.2)"/><circle cx="500.6" cy="182.7" r="0.7" fill="#c8cf88"/><ellipse cx="505.3" cy="181.2" rx="1.8" ry="1.25" fill="#3e4860" transform="rotate(50 505.3 181.2)"/><circle cx="507.8" cy="182.7" r="0.7" fill="#c8cf88"/><ellipse cx="512.5" cy="181.2" rx="1.8" ry="1.25" fill="#3e4860" transform="rotate(-50 512.5 181.2)"/><circle cx="515.0" cy="182.7" r="0.7" fill="#c8cf88"/><ellipse cx="519.6" cy="181.2" rx="1.8" ry="1.25" fill="#3e4860" transform="rotate(50 519.6 181.2)"/><circle cx="522.1" cy="182.7" r="0.7" fill="#c8cf88"/><ellipse cx="526.8" cy="181.2" rx="1.8" ry="1.25" fill="#3e4860" transform="rotate(-50 526.8 181.2)"/><circle cx="529.2" cy="182.7" r="0.7" fill="#c8cf88"/><ellipse cx="533.9" cy="181.2" rx="1.8" ry="1.25" fill="#3e4860" transform="rotate(50 533.9 181.2)"/><circle cx="536.4" cy="182.7" r="0.7" fill="#c8cf88"/><ellipse cx="541.0" cy="181.2" rx="1.8" ry="1.25" fill="#3e4860" transform="rotate(-50 541.0 181.2)"/><circle cx="543.5" cy="182.7" r="0.7" fill="#c8cf88"/><ellipse cx="491.0" cy="188.3" rx="1.8" ry="1.25" fill="#3e4860" transform="rotate(50 491.0 188.3)"/><circle cx="493.5" cy="189.8" r="0.7" fill="#c8cf88"/><ellipse cx="498.1" cy="188.3" rx="1.8" ry="1.25" fill="#3e4860" transform="rotate(-50 498.1 188.3)"/><circle cx="500.6" cy="189.8" r="0.7" fill="#c8cf88"/><ellipse cx="505.3" cy="188.3" rx="1.8" ry="1.25" fill="#3e4860" transform="rotate(50 505.3 188.3)"/><circle cx="507.8" cy="189.8" r="0.7" fill="#c8cf88"/><ellipse cx="512.5" cy="188.3" rx="1.8" ry="1.25" fill="#3e4860" transform="rotate(-50 512.5 188.3)"/><circle cx="515.0" cy="189.8" r="0.7" fill="#c8cf88"/><ellipse cx="519.6" cy="188.3" rx="1.8" ry="1.25" fill="#3e4860" transform="rotate(50 519.6 188.3)"/><circle cx="522.1" cy="189.8" r="0.7" fill="#c8cf88"/><ellipse cx="526.8" cy="188.3" rx="1.8" ry="1.25" fill="#3e4860" transform="rotate(-50 526.8 188.3)"/><circle cx="529.2" cy="189.8" r="0.7" fill="#c8cf88"/><ellipse cx="533.9" cy="188.3" rx="1.8" ry="1.25" fill="#3e4860" transform="rotate(50 533.9 188.3)"/><circle cx="536.4" cy="189.8" r="0.7" fill="#c8cf88"/><ellipse cx="541.0" cy="188.3" rx="1.8" ry="1.25" fill="#3e4860" transform="rotate(-50 541.0 188.3)"/><circle cx="543.5" cy="189.8" r="0.7" fill="#c8cf88"/><ellipse cx="491.0" cy="195.4" rx="1.8" ry="1.25" fill="#3e4860" transform="rotate(50 491.0 195.4)"/><circle cx="493.5" cy="196.9" r="0.7" fill="#c8cf88"/><ellipse cx="498.1" cy="195.4" rx="1.8" ry="1.25" fill="#3e4860" transform="rotate(-50 498.1 195.4)"/><circle cx="500.6" cy="196.9" r="0.7" fill="#c8cf88"/><ellipse cx="505.3" cy="195.4" rx="1.8" ry="1.25" fill="#3e4860" transform="rotate(50 505.3 195.4)"/><circle cx="507.8" cy="196.9" r="0.7" fill="#c8cf88"/><ellipse cx="512.5" cy="195.4" rx="1.8" ry="1.25" fill="#3e4860" transform="rotate(-50 512.5 195.4)"/><circle cx="515.0" cy="196.9" r="0.7" fill="#c8cf88"/><ellipse cx="519.6" cy="195.4" rx="1.8" ry="1.25" fill="#3e4860" transform="rotate(50 519.6 195.4)"/><circle cx="522.1" cy="196.9" r="0.7" fill="#c8cf88"/><ellipse cx="526.8" cy="195.4" rx="1.8" ry="1.25" fill="#3e4860" transform="rotate(-50 526.8 195.4)"/><circle cx="529.2" cy="196.9" r="0.7" fill="#c8cf88"/><ellipse cx="533.9" cy="195.4" rx="1.8" ry="1.25" fill="#3e4860" transform="rotate(50 533.9 195.4)"/><circle cx="536.4" cy="196.9" r="0.7" fill="#c8cf88"/><ellipse cx="541.0" cy="195.4" rx="1.8" ry="1.25" fill="#3e4860" transform="rotate(-50 541.0 195.4)"/><circle cx="543.5" cy="196.9" r="0.7" fill="#c8cf88"/></g>
<g><rect x="426.7" y="136" width="58.6" height="63" fill="#f2f9fb"/><circle cx="427.7" cy="139.0" r="1.45" fill="#5a8cc0"/><rect x="434.3" y="137.7" width="1.0" height="2.6" fill="#d6ca8c" transform="rotate(-40 434.8 139.0)"/><circle cx="441.9" cy="139.0" r="1.45" fill="#5a8cc0"/><rect x="448.5" y="137.7" width="1.0" height="2.6" fill="#d6ca8c" transform="rotate(40 449.0 139.0)"/><circle cx="456.1" cy="139.0" r="1.45" fill="#5a8cc0"/><rect x="462.7" y="137.7" width="1.0" height="2.6" fill="#d6ca8c" transform="rotate(90 463.2 139.0)"/><circle cx="470.3" cy="139.0" r="1.45" fill="#5a8cc0"/><rect x="476.9" y="137.7" width="1.0" height="2.6" fill="#d6ca8c" transform="rotate(-40 477.4 139.0)"/><circle cx="484.5" cy="139.0" r="1.45" fill="#5a8cc0"/><circle cx="431.2" cy="142.5" r="1.45" fill="#4f86b8"/><rect x="437.9" y="141.2" width="1.0" height="2.6" fill="#d6ca8c" transform="rotate(90 438.4 142.5)"/><circle cx="445.5" cy="142.5" r="1.45" fill="#4f86b8"/><rect x="452.1" y="141.2" width="1.0" height="2.6" fill="#d6ca8c" transform="rotate(-40 452.6 142.5)"/><circle cx="459.7" cy="142.5" r="1.45" fill="#4f86b8"/><rect x="466.3" y="141.2" width="1.0" height="2.6" fill="#d6ca8c" transform="rotate(40 466.8 142.5)"/><circle cx="473.9" cy="142.5" r="1.45" fill="#4f86b8"/><rect x="480.5" y="141.2" width="1.0" height="2.6" fill="#d6ca8c" transform="rotate(90 481.0 142.5)"/><circle cx="427.7" cy="146.0" r="1.45" fill="#6a98c4"/><circle cx="434.8" cy="146.0" r="1.45" fill="#6a98c4"/><circle cx="441.9" cy="146.0" r="1.45" fill="#6a98c4"/><circle cx="449.0" cy="146.0" r="1.45" fill="#6a98c4"/><circle cx="456.1" cy="146.0" r="1.45" fill="#6a98c4"/><circle cx="463.2" cy="146.0" r="1.45" fill="#6a98c4"/><circle cx="470.3" cy="146.0" r="1.45" fill="#6a98c4"/><circle cx="477.4" cy="146.0" r="1.45" fill="#6a98c4"/><circle cx="484.5" cy="146.0" r="1.45" fill="#6a98c4"/><circle cx="431.2" cy="149.5" r="1.45" fill="#8a9ab0"/><rect x="437.9" y="148.2" width="1.0" height="2.6" fill="#d6ca8c" transform="rotate(-40 438.4 149.5)"/><circle cx="445.5" cy="149.5" r="1.45" fill="#8a9ab0"/><rect x="452.1" y="148.2" width="1.0" height="2.6" fill="#d6ca8c" transform="rotate(40 452.6 149.5)"/><circle cx="459.7" cy="149.5" r="1.45" fill="#8a9ab0"/><rect x="466.3" y="148.2" width="1.0" height="2.6" fill="#d6ca8c" transform="rotate(90 466.8 149.5)"/><circle cx="473.9" cy="149.5" r="1.45" fill="#8a9ab0"/><rect x="480.5" y="148.2" width="1.0" height="2.6" fill="#d6ca8c" transform="rotate(-40 481.0 149.5)"/><circle cx="427.7" cy="153.0" r="1.45" fill="#7a96aa"/><rect x="434.3" y="151.7" width="1.0" height="2.6" fill="#d6ca8c" transform="rotate(90 434.8 153.0)"/><circle cx="441.9" cy="153.0" r="1.45" fill="#7a96aa"/><rect x="448.5" y="151.7" width="1.0" height="2.6" fill="#d6ca8c" transform="rotate(-40 449.0 153.0)"/><circle cx="456.1" cy="153.0" r="1.45" fill="#7a96aa"/><rect x="462.7" y="151.7" width="1.0" height="2.6" fill="#d6ca8c" transform="rotate(40 463.2 153.0)"/><circle cx="470.3" cy="153.0" r="1.45" fill="#7a96aa"/><rect x="476.9" y="151.7" width="1.0" height="2.6" fill="#d6ca8c" transform="rotate(90 477.4 153.0)"/><circle cx="484.5" cy="153.0" r="1.45" fill="#7a96aa"/><circle cx="431.2" cy="156.5" r="1.45" fill="#5a8cc0"/><rect x="437.9" y="155.2" width="1.0" height="2.6" fill="#d6ca8c" transform="rotate(40 438.4 156.5)"/><circle cx="445.5" cy="156.5" r="1.45" fill="#5a8cc0"/><rect x="452.1" y="155.2" width="1.0" height="2.6" fill="#d6ca8c" transform="rotate(90 452.6 156.5)"/><circle cx="459.7" cy="156.5" r="1.45" fill="#5a8cc0"/><rect x="466.3" y="155.2" width="1.0" height="2.6" fill="#d6ca8c" transform="rotate(-40 466.8 156.5)"/><circle cx="473.9" cy="156.5" r="1.45" fill="#5a8cc0"/><rect x="480.5" y="155.2" width="1.0" height="2.6" fill="#d6ca8c" transform="rotate(40 481.0 156.5)"/><circle cx="427.7" cy="160.0" r="1.45" fill="#4f86b8"/><circle cx="434.8" cy="160.0" r="1.45" fill="#4f86b8"/><circle cx="441.9" cy="160.0" r="1.45" fill="#4f86b8"/><circle cx="449.0" cy="160.0" r="1.45" fill="#4f86b8"/><circle cx="456.1" cy="160.0" r="1.45" fill="#4f86b8"/><circle cx="463.2" cy="160.0" r="1.45" fill="#4f86b8"/><circle cx="470.3" cy="160.0" r="1.45" fill="#4f86b8"/><circle cx="477.4" cy="160.0" r="1.45" fill="#4f86b8"/><circle cx="484.5" cy="160.0" r="1.45" fill="#4f86b8"/><circle cx="431.2" cy="163.5" r="1.45" fill="#6a98c4"/><rect x="437.9" y="162.2" width="1.0" height="2.6" fill="#d6ca8c" transform="rotate(90 438.4 163.5)"/><circle cx="445.5" cy="163.5" r="1.45" fill="#6a98c4"/><rect x="452.1" y="162.2" width="1.0" height="2.6" fill="#d6ca8c" transform="rotate(-40 452.6 163.5)"/><circle cx="459.7" cy="163.5" r="1.45" fill="#6a98c4"/><rect x="466.3" y="162.2" width="1.0" height="2.6" fill="#d6ca8c" transform="rotate(40 466.8 163.5)"/><circle cx="473.9" cy="163.5" r="1.45" fill="#6a98c4"/><rect x="480.5" y="162.2" width="1.0" height="2.6" fill="#d6ca8c" transform="rotate(90 481.0 163.5)"/><circle cx="427.7" cy="167.0" r="1.45" fill="#8a9ab0"/><rect x="434.3" y="165.7" width="1.0" height="2.6" fill="#d6ca8c" transform="rotate(40 434.8 167.0)"/><circle cx="441.9" cy="167.0" r="1.45" fill="#8a9ab0"/><rect x="448.5" y="165.7" width="1.0" height="2.6" fill="#d6ca8c" transform="rotate(90 449.0 167.0)"/><circle cx="456.1" cy="167.0" r="1.45" fill="#8a9ab0"/><rect x="462.7" y="165.7" width="1.0" height="2.6" fill="#d6ca8c" transform="rotate(-40 463.2 167.0)"/><circle cx="470.3" cy="167.0" r="1.45" fill="#8a9ab0"/><rect x="476.9" y="165.7" width="1.0" height="2.6" fill="#d6ca8c" transform="rotate(40 477.4 167.0)"/><circle cx="484.5" cy="167.0" r="1.45" fill="#8a9ab0"/><circle cx="431.2" cy="170.5" r="1.45" fill="#7a96aa"/><rect x="437.9" y="169.2" width="1.0" height="2.6" fill="#d6ca8c" transform="rotate(-40 438.4 170.5)"/><circle cx="445.5" cy="170.5" r="1.45" fill="#7a96aa"/><rect x="452.1" y="169.2" width="1.0" height="2.6" fill="#d6ca8c" transform="rotate(40 452.6 170.5)"/><circle cx="459.7" cy="170.5" r="1.45" fill="#7a96aa"/><rect x="466.3" y="169.2" width="1.0" height="2.6" fill="#d6ca8c" transform="rotate(90 466.8 170.5)"/><circle cx="473.9" cy="170.5" r="1.45" fill="#7a96aa"/><rect x="480.5" y="169.2" width="1.0" height="2.6" fill="#d6ca8c" transform="rotate(-40 481.0 170.5)"/><circle cx="427.7" cy="174.0" r="1.45" fill="#5a8cc0"/><circle cx="434.8" cy="174.0" r="1.45" fill="#5a8cc0"/><circle cx="441.9" cy="174.0" r="1.45" fill="#5a8cc0"/><circle cx="449.0" cy="174.0" r="1.45" fill="#5a8cc0"/><circle cx="456.1" cy="174.0" r="1.45" fill="#5a8cc0"/><circle cx="463.2" cy="174.0" r="1.45" fill="#5a8cc0"/><circle cx="470.3" cy="174.0" r="1.45" fill="#5a8cc0"/><circle cx="477.4" cy="174.0" r="1.45" fill="#5a8cc0"/><circle cx="484.5" cy="174.0" r="1.45" fill="#5a8cc0"/><circle cx="431.2" cy="177.5" r="1.45" fill="#4f86b8"/><rect x="437.9" y="176.2" width="1.0" height="2.6" fill="#d6ca8c" transform="rotate(40 438.4 177.5)"/><circle cx="445.5" cy="177.5" r="1.45" fill="#4f86b8"/><rect x="452.1" y="176.2" width="1.0" height="2.6" fill="#d6ca8c" transform="rotate(90 452.6 177.5)"/><circle cx="459.7" cy="177.5" r="1.45" fill="#4f86b8"/><rect x="466.3" y="176.2" width="1.0" height="2.6" fill="#d6ca8c" transform="rotate(-40 466.8 177.5)"/><circle cx="473.9" cy="177.5" r="1.45" fill="#4f86b8"/><rect x="480.5" y="176.2" width="1.0" height="2.6" fill="#d6ca8c" transform="rotate(40 481.0 177.5)"/><circle cx="427.7" cy="181.0" r="1.45" fill="#6a98c4"/><rect x="434.3" y="179.7" width="1.0" height="2.6" fill="#d6ca8c" transform="rotate(-40 434.8 181.0)"/><circle cx="441.9" cy="181.0" r="1.45" fill="#6a98c4"/><rect x="448.5" y="179.7" width="1.0" height="2.6" fill="#d6ca8c" transform="rotate(40 449.0 181.0)"/><circle cx="456.1" cy="181.0" r="1.45" fill="#6a98c4"/><rect x="462.7" y="179.7" width="1.0" height="2.6" fill="#d6ca8c" transform="rotate(90 463.2 181.0)"/><circle cx="470.3" cy="181.0" r="1.45" fill="#6a98c4"/><rect x="476.9" y="179.7" width="1.0" height="2.6" fill="#d6ca8c" transform="rotate(-40 477.4 181.0)"/><circle cx="484.5" cy="181.0" r="1.45" fill="#6a98c4"/><circle cx="431.2" cy="184.5" r="1.45" fill="#8a9ab0"/><rect x="437.9" y="183.2" width="1.0" height="2.6" fill="#d6ca8c" transform="rotate(90 438.4 184.5)"/><circle cx="445.5" cy="184.5" r="1.45" fill="#8a9ab0"/><rect x="452.1" y="183.2" width="1.0" height="2.6" fill="#d6ca8c" transform="rotate(-40 452.6 184.5)"/><circle cx="459.7" cy="184.5" r="1.45" fill="#8a9ab0"/><rect x="466.3" y="183.2" width="1.0" height="2.6" fill="#d6ca8c" transform="rotate(40 466.8 184.5)"/><circle cx="473.9" cy="184.5" r="1.45" fill="#8a9ab0"/><rect x="480.5" y="183.2" width="1.0" height="2.6" fill="#d6ca8c" transform="rotate(90 481.0 184.5)"/><circle cx="427.7" cy="188.0" r="1.45" fill="#7a96aa"/><circle cx="434.8" cy="188.0" r="1.45" fill="#7a96aa"/><circle cx="441.9" cy="188.0" r="1.45" fill="#7a96aa"/><circle cx="449.0" cy="188.0" r="1.45" fill="#7a96aa"/><circle cx="456.1" cy="188.0" r="1.45" fill="#7a96aa"/><circle cx="463.2" cy="188.0" r="1.45" fill="#7a96aa"/><circle cx="470.3" cy="188.0" r="1.45" fill="#7a96aa"/><circle cx="477.4" cy="188.0" r="1.45" fill="#7a96aa"/><circle cx="484.5" cy="188.0" r="1.45" fill="#7a96aa"/><circle cx="431.2" cy="191.5" r="1.45" fill="#5a8cc0"/><rect x="437.9" y="190.2" width="1.0" height="2.6" fill="#d6ca8c" transform="rotate(-40 438.4 191.5)"/><circle cx="445.5" cy="191.5" r="1.45" fill="#5a8cc0"/><rect x="452.1" y="190.2" width="1.0" height="2.6" fill="#d6ca8c" transform="rotate(40 452.6 191.5)"/><circle cx="459.7" cy="191.5" r="1.45" fill="#5a8cc0"/><rect x="466.3" y="190.2" width="1.0" height="2.6" fill="#d6ca8c" transform="rotate(90 466.8 191.5)"/><circle cx="473.9" cy="191.5" r="1.45" fill="#5a8cc0"/><rect x="480.5" y="190.2" width="1.0" height="2.6" fill="#d6ca8c" transform="rotate(-40 481.0 191.5)"/><circle cx="427.7" cy="195.0" r="1.45" fill="#4f86b8"/><rect x="434.3" y="193.7" width="1.0" height="2.6" fill="#d6ca8c" transform="rotate(90 434.8 195.0)"/><circle cx="441.9" cy="195.0" r="1.45" fill="#4f86b8"/><rect x="448.5" y="193.7" width="1.0" height="2.6" fill="#d6ca8c" transform="rotate(-40 449.0 195.0)"/><circle cx="456.1" cy="195.0" r="1.45" fill="#4f86b8"/><rect x="462.7" y="193.7" width="1.0" height="2.6" fill="#d6ca8c" transform="rotate(40 463.2 195.0)"/><circle cx="470.3" cy="195.0" r="1.45" fill="#4f86b8"/><rect x="476.9" y="193.7" width="1.0" height="2.6" fill="#d6ca8c" transform="rotate(90 477.4 195.0)"/><circle cx="484.5" cy="195.0" r="1.45" fill="#4f86b8"/></g>
<g><rect x="546.5" y="136" width="58.8" height="63" fill="#f2f9fb"/><circle cx="547.5" cy="139.0" r="1.45" fill="#5a8cc0"/><rect x="554.1" y="137.7" width="1.0" height="2.6" fill="#d6ca8c" transform="rotate(-40 554.6 139.0)"/><circle cx="561.7" cy="139.0" r="1.45" fill="#5a8cc0"/><rect x="568.3" y="137.7" width="1.0" height="2.6" fill="#d6ca8c" transform="rotate(40 568.8 139.0)"/><circle cx="575.9" cy="139.0" r="1.45" fill="#5a8cc0"/><rect x="582.5" y="137.7" width="1.0" height="2.6" fill="#d6ca8c" transform="rotate(90 583.0 139.0)"/><circle cx="590.1" cy="139.0" r="1.45" fill="#5a8cc0"/><rect x="596.7" y="137.7" width="1.0" height="2.6" fill="#d6ca8c" transform="rotate(-40 597.2 139.0)"/><circle cx="604.3" cy="139.0" r="1.45" fill="#5a8cc0"/><circle cx="551.0" cy="142.5" r="1.45" fill="#4f86b8"/><rect x="557.6" y="141.2" width="1.0" height="2.6" fill="#d6ca8c" transform="rotate(90 558.1 142.5)"/><circle cx="565.2" cy="142.5" r="1.45" fill="#4f86b8"/><rect x="571.9" y="141.2" width="1.0" height="2.6" fill="#d6ca8c" transform="rotate(-40 572.4 142.5)"/><circle cx="579.5" cy="142.5" r="1.45" fill="#4f86b8"/><rect x="586.1" y="141.2" width="1.0" height="2.6" fill="#d6ca8c" transform="rotate(40 586.6 142.5)"/><circle cx="593.7" cy="142.5" r="1.45" fill="#4f86b8"/><rect x="600.3" y="141.2" width="1.0" height="2.6" fill="#d6ca8c" transform="rotate(90 600.8 142.5)"/><circle cx="547.5" cy="146.0" r="1.45" fill="#6a98c4"/><circle cx="554.6" cy="146.0" r="1.45" fill="#6a98c4"/><circle cx="561.7" cy="146.0" r="1.45" fill="#6a98c4"/><circle cx="568.8" cy="146.0" r="1.45" fill="#6a98c4"/><circle cx="575.9" cy="146.0" r="1.45" fill="#6a98c4"/><circle cx="583.0" cy="146.0" r="1.45" fill="#6a98c4"/><circle cx="590.1" cy="146.0" r="1.45" fill="#6a98c4"/><circle cx="597.2" cy="146.0" r="1.45" fill="#6a98c4"/><circle cx="604.3" cy="146.0" r="1.45" fill="#6a98c4"/><circle cx="551.0" cy="149.5" r="1.45" fill="#8a9ab0"/><rect x="557.6" y="148.2" width="1.0" height="2.6" fill="#d6ca8c" transform="rotate(-40 558.1 149.5)"/><circle cx="565.2" cy="149.5" r="1.45" fill="#8a9ab0"/><rect x="571.9" y="148.2" width="1.0" height="2.6" fill="#d6ca8c" transform="rotate(40 572.4 149.5)"/><circle cx="579.5" cy="149.5" r="1.45" fill="#8a9ab0"/><rect x="586.1" y="148.2" width="1.0" height="2.6" fill="#d6ca8c" transform="rotate(90 586.6 149.5)"/><circle cx="593.7" cy="149.5" r="1.45" fill="#8a9ab0"/><rect x="600.3" y="148.2" width="1.0" height="2.6" fill="#d6ca8c" transform="rotate(-40 600.8 149.5)"/><circle cx="547.5" cy="153.0" r="1.45" fill="#7a96aa"/><rect x="554.1" y="151.7" width="1.0" height="2.6" fill="#d6ca8c" transform="rotate(90 554.6 153.0)"/><circle cx="561.7" cy="153.0" r="1.45" fill="#7a96aa"/><rect x="568.3" y="151.7" width="1.0" height="2.6" fill="#d6ca8c" transform="rotate(-40 568.8 153.0)"/><circle cx="575.9" cy="153.0" r="1.45" fill="#7a96aa"/><rect x="582.5" y="151.7" width="1.0" height="2.6" fill="#d6ca8c" transform="rotate(40 583.0 153.0)"/><circle cx="590.1" cy="153.0" r="1.45" fill="#7a96aa"/><rect x="596.7" y="151.7" width="1.0" height="2.6" fill="#d6ca8c" transform="rotate(90 597.2 153.0)"/><circle cx="604.3" cy="153.0" r="1.45" fill="#7a96aa"/><circle cx="551.0" cy="156.5" r="1.45" fill="#5a8cc0"/><rect x="557.6" y="155.2" width="1.0" height="2.6" fill="#d6ca8c" transform="rotate(40 558.1 156.5)"/><circle cx="565.2" cy="156.5" r="1.45" fill="#5a8cc0"/><rect x="571.9" y="155.2" width="1.0" height="2.6" fill="#d6ca8c" transform="rotate(90 572.4 156.5)"/><circle cx="579.5" cy="156.5" r="1.45" fill="#5a8cc0"/><rect x="586.1" y="155.2" width="1.0" height="2.6" fill="#d6ca8c" transform="rotate(-40 586.6 156.5)"/><circle cx="593.7" cy="156.5" r="1.45" fill="#5a8cc0"/><rect x="600.3" y="155.2" width="1.0" height="2.6" fill="#d6ca8c" transform="rotate(40 600.8 156.5)"/><circle cx="547.5" cy="160.0" r="1.45" fill="#4f86b8"/><circle cx="554.6" cy="160.0" r="1.45" fill="#4f86b8"/><circle cx="561.7" cy="160.0" r="1.45" fill="#4f86b8"/><circle cx="568.8" cy="160.0" r="1.45" fill="#4f86b8"/><circle cx="575.9" cy="160.0" r="1.45" fill="#4f86b8"/><circle cx="583.0" cy="160.0" r="1.45" fill="#4f86b8"/><circle cx="590.1" cy="160.0" r="1.45" fill="#4f86b8"/><circle cx="597.2" cy="160.0" r="1.45" fill="#4f86b8"/><circle cx="604.3" cy="160.0" r="1.45" fill="#4f86b8"/><circle cx="551.0" cy="163.5" r="1.45" fill="#6a98c4"/><rect x="557.6" y="162.2" width="1.0" height="2.6" fill="#d6ca8c" transform="rotate(90 558.1 163.5)"/><circle cx="565.2" cy="163.5" r="1.45" fill="#6a98c4"/><rect x="571.9" y="162.2" width="1.0" height="2.6" fill="#d6ca8c" transform="rotate(-40 572.4 163.5)"/><circle cx="579.5" cy="163.5" r="1.45" fill="#6a98c4"/><rect x="586.1" y="162.2" width="1.0" height="2.6" fill="#d6ca8c" transform="rotate(40 586.6 163.5)"/><circle cx="593.7" cy="163.5" r="1.45" fill="#6a98c4"/><rect x="600.3" y="162.2" width="1.0" height="2.6" fill="#d6ca8c" transform="rotate(90 600.8 163.5)"/><circle cx="547.5" cy="167.0" r="1.45" fill="#8a9ab0"/><rect x="554.1" y="165.7" width="1.0" height="2.6" fill="#d6ca8c" transform="rotate(40 554.6 167.0)"/><circle cx="561.7" cy="167.0" r="1.45" fill="#8a9ab0"/><rect x="568.3" y="165.7" width="1.0" height="2.6" fill="#d6ca8c" transform="rotate(90 568.8 167.0)"/><circle cx="575.9" cy="167.0" r="1.45" fill="#8a9ab0"/><rect x="582.5" y="165.7" width="1.0" height="2.6" fill="#d6ca8c" transform="rotate(-40 583.0 167.0)"/><circle cx="590.1" cy="167.0" r="1.45" fill="#8a9ab0"/><rect x="596.7" y="165.7" width="1.0" height="2.6" fill="#d6ca8c" transform="rotate(40 597.2 167.0)"/><circle cx="604.3" cy="167.0" r="1.45" fill="#8a9ab0"/><circle cx="551.0" cy="170.5" r="1.45" fill="#7a96aa"/><rect x="557.6" y="169.2" width="1.0" height="2.6" fill="#d6ca8c" transform="rotate(-40 558.1 170.5)"/><circle cx="565.2" cy="170.5" r="1.45" fill="#7a96aa"/><rect x="571.9" y="169.2" width="1.0" height="2.6" fill="#d6ca8c" transform="rotate(40 572.4 170.5)"/><circle cx="579.5" cy="170.5" r="1.45" fill="#7a96aa"/><rect x="586.1" y="169.2" width="1.0" height="2.6" fill="#d6ca8c" transform="rotate(90 586.6 170.5)"/><circle cx="593.7" cy="170.5" r="1.45" fill="#7a96aa"/><rect x="600.3" y="169.2" width="1.0" height="2.6" fill="#d6ca8c" transform="rotate(-40 600.8 170.5)"/><circle cx="547.5" cy="174.0" r="1.45" fill="#5a8cc0"/><circle cx="554.6" cy="174.0" r="1.45" fill="#5a8cc0"/><circle cx="561.7" cy="174.0" r="1.45" fill="#5a8cc0"/><circle cx="568.8" cy="174.0" r="1.45" fill="#5a8cc0"/><circle cx="575.9" cy="174.0" r="1.45" fill="#5a8cc0"/><circle cx="583.0" cy="174.0" r="1.45" fill="#5a8cc0"/><circle cx="590.1" cy="174.0" r="1.45" fill="#5a8cc0"/><circle cx="597.2" cy="174.0" r="1.45" fill="#5a8cc0"/><circle cx="604.3" cy="174.0" r="1.45" fill="#5a8cc0"/><circle cx="551.0" cy="177.5" r="1.45" fill="#4f86b8"/><rect x="557.6" y="176.2" width="1.0" height="2.6" fill="#d6ca8c" transform="rotate(40 558.1 177.5)"/><circle cx="565.2" cy="177.5" r="1.45" fill="#4f86b8"/><rect x="571.9" y="176.2" width="1.0" height="2.6" fill="#d6ca8c" transform="rotate(90 572.4 177.5)"/><circle cx="579.5" cy="177.5" r="1.45" fill="#4f86b8"/><rect x="586.1" y="176.2" width="1.0" height="2.6" fill="#d6ca8c" transform="rotate(-40 586.6 177.5)"/><circle cx="593.7" cy="177.5" r="1.45" fill="#4f86b8"/><rect x="600.3" y="176.2" width="1.0" height="2.6" fill="#d6ca8c" transform="rotate(40 600.8 177.5)"/><circle cx="547.5" cy="181.0" r="1.45" fill="#6a98c4"/><rect x="554.1" y="179.7" width="1.0" height="2.6" fill="#d6ca8c" transform="rotate(-40 554.6 181.0)"/><circle cx="561.7" cy="181.0" r="1.45" fill="#6a98c4"/><rect x="568.3" y="179.7" width="1.0" height="2.6" fill="#d6ca8c" transform="rotate(40 568.8 181.0)"/><circle cx="575.9" cy="181.0" r="1.45" fill="#6a98c4"/><rect x="582.5" y="179.7" width="1.0" height="2.6" fill="#d6ca8c" transform="rotate(90 583.0 181.0)"/><circle cx="590.1" cy="181.0" r="1.45" fill="#6a98c4"/><rect x="596.7" y="179.7" width="1.0" height="2.6" fill="#d6ca8c" transform="rotate(-40 597.2 181.0)"/><circle cx="604.3" cy="181.0" r="1.45" fill="#6a98c4"/><circle cx="551.0" cy="184.5" r="1.45" fill="#8a9ab0"/><rect x="557.6" y="183.2" width="1.0" height="2.6" fill="#d6ca8c" transform="rotate(90 558.1 184.5)"/><circle cx="565.2" cy="184.5" r="1.45" fill="#8a9ab0"/><rect x="571.9" y="183.2" width="1.0" height="2.6" fill="#d6ca8c" transform="rotate(-40 572.4 184.5)"/><circle cx="579.5" cy="184.5" r="1.45" fill="#8a9ab0"/><rect x="586.1" y="183.2" width="1.0" height="2.6" fill="#d6ca8c" transform="rotate(40 586.6 184.5)"/><circle cx="593.7" cy="184.5" r="1.45" fill="#8a9ab0"/><rect x="600.3" y="183.2" width="1.0" height="2.6" fill="#d6ca8c" transform="rotate(90 600.8 184.5)"/><circle cx="547.5" cy="188.0" r="1.45" fill="#7a96aa"/><circle cx="554.6" cy="188.0" r="1.45" fill="#7a96aa"/><circle cx="561.7" cy="188.0" r="1.45" fill="#7a96aa"/><circle cx="568.8" cy="188.0" r="1.45" fill="#7a96aa"/><circle cx="575.9" cy="188.0" r="1.45" fill="#7a96aa"/><circle cx="583.0" cy="188.0" r="1.45" fill="#7a96aa"/><circle cx="590.1" cy="188.0" r="1.45" fill="#7a96aa"/><circle cx="597.2" cy="188.0" r="1.45" fill="#7a96aa"/><circle cx="604.3" cy="188.0" r="1.45" fill="#7a96aa"/><circle cx="551.0" cy="191.5" r="1.45" fill="#5a8cc0"/><rect x="557.6" y="190.2" width="1.0" height="2.6" fill="#d6ca8c" transform="rotate(-40 558.1 191.5)"/><circle cx="565.2" cy="191.5" r="1.45" fill="#5a8cc0"/><rect x="571.9" y="190.2" width="1.0" height="2.6" fill="#d6ca8c" transform="rotate(40 572.4 191.5)"/><circle cx="579.5" cy="191.5" r="1.45" fill="#5a8cc0"/><rect x="586.1" y="190.2" width="1.0" height="2.6" fill="#d6ca8c" transform="rotate(90 586.6 191.5)"/><circle cx="593.7" cy="191.5" r="1.45" fill="#5a8cc0"/><rect x="600.3" y="190.2" width="1.0" height="2.6" fill="#d6ca8c" transform="rotate(-40 600.8 191.5)"/><circle cx="547.5" cy="195.0" r="1.45" fill="#4f86b8"/><rect x="554.1" y="193.7" width="1.0" height="2.6" fill="#d6ca8c" transform="rotate(90 554.6 195.0)"/><circle cx="561.7" cy="195.0" r="1.45" fill="#4f86b8"/><rect x="568.3" y="193.7" width="1.0" height="2.6" fill="#d6ca8c" transform="rotate(-40 568.8 195.0)"/><circle cx="575.9" cy="195.0" r="1.45" fill="#4f86b8"/><rect x="582.5" y="193.7" width="1.0" height="2.6" fill="#d6ca8c" transform="rotate(40 583.0 195.0)"/><circle cx="590.1" cy="195.0" r="1.45" fill="#4f86b8"/><rect x="596.7" y="193.7" width="1.0" height="2.6" fill="#d6ca8c" transform="rotate(90 597.2 195.0)"/><circle cx="604.3" cy="195.0" r="1.45" fill="#4f86b8"/></g>
<g><circle cx="376.4" cy="140.9" r="1.2" fill="#b8d8ec" stroke="#6e9cc2" stroke-width="0.7"/><circle cx="378.7" cy="139.5" r="1.2" fill="#b8d8ec" stroke="#6e9cc2" stroke-width="0.7"/><circle cx="381.0" cy="140.7" r="1.2" fill="#b8d8ec" stroke="#6e9cc2" stroke-width="0.7"/><circle cx="383.3" cy="139.4" r="1.2" fill="#b8d8ec" stroke="#6e9cc2" stroke-width="0.7"/><circle cx="385.4" cy="140.5" r="1.2" fill="#b8d8ec" stroke="#6e9cc2" stroke-width="0.7"/><circle cx="387.2" cy="141.4" r="0.6" fill="#d8d090"/><circle cx="376.4" cy="153.0" r="1.2" fill="#b8d8ec" stroke="#6e9cc2" stroke-width="0.7"/><circle cx="378.7" cy="151.6" r="1.2" fill="#b8d8ec" stroke="#6e9cc2" stroke-width="0.7"/><circle cx="381.0" cy="152.8" r="1.2" fill="#b8d8ec" stroke="#6e9cc2" stroke-width="0.7"/><circle cx="383.3" cy="151.5" r="1.2" fill="#b8d8ec" stroke="#6e9cc2" stroke-width="0.7"/><circle cx="385.4" cy="152.6" r="1.2" fill="#b8d8ec" stroke="#6e9cc2" stroke-width="0.7"/><circle cx="387.2" cy="153.5" r="0.6" fill="#d8d090"/><circle cx="376.4" cy="165.1" r="1.2" fill="#b8d8ec" stroke="#6e9cc2" stroke-width="0.7"/><circle cx="378.7" cy="163.7" r="1.2" fill="#b8d8ec" stroke="#6e9cc2" stroke-width="0.7"/><circle cx="381.0" cy="164.9" r="1.2" fill="#b8d8ec" stroke="#6e9cc2" stroke-width="0.7"/><circle cx="383.3" cy="163.6" r="1.2" fill="#b8d8ec" stroke="#6e9cc2" stroke-width="0.7"/><circle cx="385.4" cy="164.7" r="1.2" fill="#b8d8ec" stroke="#6e9cc2" stroke-width="0.7"/><circle cx="387.2" cy="165.6" r="0.6" fill="#d8d090"/><circle cx="376.4" cy="177.2" r="1.2" fill="#b8d8ec" stroke="#6e9cc2" stroke-width="0.7"/><circle cx="378.7" cy="175.8" r="1.2" fill="#b8d8ec" stroke="#6e9cc2" stroke-width="0.7"/><circle cx="381.0" cy="177.0" r="1.2" fill="#b8d8ec" stroke="#6e9cc2" stroke-width="0.7"/><circle cx="383.3" cy="175.7" r="1.2" fill="#b8d8ec" stroke="#6e9cc2" stroke-width="0.7"/><circle cx="385.4" cy="176.8" r="1.2" fill="#b8d8ec" stroke="#6e9cc2" stroke-width="0.7"/><circle cx="387.2" cy="177.7" r="0.6" fill="#d8d090"/><circle cx="376.4" cy="189.3" r="1.2" fill="#b8d8ec" stroke="#6e9cc2" stroke-width="0.7"/><circle cx="378.7" cy="187.9" r="1.2" fill="#b8d8ec" stroke="#6e9cc2" stroke-width="0.7"/><circle cx="381.0" cy="189.1" r="1.2" fill="#b8d8ec" stroke="#6e9cc2" stroke-width="0.7"/><circle cx="383.3" cy="187.8" r="1.2" fill="#b8d8ec" stroke="#6e9cc2" stroke-width="0.7"/><circle cx="385.4" cy="188.9" r="1.2" fill="#b8d8ec" stroke="#6e9cc2" stroke-width="0.7"/><circle cx="387.2" cy="189.8" r="0.6" fill="#d8d090"/><circle cx="389.2" cy="146.2" r="1.2" fill="#b8d8ec" stroke="#6e9cc2" stroke-width="0.7"/><circle cx="391.5" cy="144.8" r="1.2" fill="#b8d8ec" stroke="#6e9cc2" stroke-width="0.7"/><circle cx="393.8" cy="146.0" r="1.2" fill="#b8d8ec" stroke="#6e9cc2" stroke-width="0.7"/><circle cx="396.1" cy="144.7" r="1.2" fill="#b8d8ec" stroke="#6e9cc2" stroke-width="0.7"/><circle cx="398.2" cy="145.8" r="1.2" fill="#b8d8ec" stroke="#6e9cc2" stroke-width="0.7"/><circle cx="400.0" cy="146.7" r="0.6" fill="#d8d090"/><circle cx="389.2" cy="158.3" r="1.2" fill="#b8d8ec" stroke="#6e9cc2" stroke-width="0.7"/><circle cx="391.5" cy="156.9" r="1.2" fill="#b8d8ec" stroke="#6e9cc2" stroke-width="0.7"/><circle cx="393.8" cy="158.1" r="1.2" fill="#b8d8ec" stroke="#6e9cc2" stroke-width="0.7"/><circle cx="396.1" cy="156.8" r="1.2" fill="#b8d8ec" stroke="#6e9cc2" stroke-width="0.7"/><circle cx="398.2" cy="157.9" r="1.2" fill="#b8d8ec" stroke="#6e9cc2" stroke-width="0.7"/><circle cx="400.0" cy="158.8" r="0.6" fill="#d8d090"/><circle cx="389.2" cy="170.4" r="1.2" fill="#b8d8ec" stroke="#6e9cc2" stroke-width="0.7"/><circle cx="391.5" cy="169.0" r="1.2" fill="#b8d8ec" stroke="#6e9cc2" stroke-width="0.7"/><circle cx="393.8" cy="170.2" r="1.2" fill="#b8d8ec" stroke="#6e9cc2" stroke-width="0.7"/><circle cx="396.1" cy="168.9" r="1.2" fill="#b8d8ec" stroke="#6e9cc2" stroke-width="0.7"/><circle cx="398.2" cy="170.0" r="1.2" fill="#b8d8ec" stroke="#6e9cc2" stroke-width="0.7"/><circle cx="400.0" cy="170.9" r="0.6" fill="#d8d090"/><circle cx="389.2" cy="182.5" r="1.2" fill="#b8d8ec" stroke="#6e9cc2" stroke-width="0.7"/><circle cx="391.5" cy="181.1" r="1.2" fill="#b8d8ec" stroke="#6e9cc2" stroke-width="0.7"/><circle cx="393.8" cy="182.3" r="1.2" fill="#b8d8ec" stroke="#6e9cc2" stroke-width="0.7"/><circle cx="396.1" cy="181.0" r="1.2" fill="#b8d8ec" stroke="#6e9cc2" stroke-width="0.7"/><circle cx="398.2" cy="182.1" r="1.2" fill="#b8d8ec" stroke="#6e9cc2" stroke-width="0.7"/><circle cx="400.0" cy="183.0" r="0.6" fill="#d8d090"/><circle cx="389.2" cy="194.6" r="1.2" fill="#b8d8ec" stroke="#6e9cc2" stroke-width="0.7"/><circle cx="391.5" cy="193.2" r="1.2" fill="#b8d8ec" stroke="#6e9cc2" stroke-width="0.7"/><circle cx="393.8" cy="194.4" r="1.2" fill="#b8d8ec" stroke="#6e9cc2" stroke-width="0.7"/><circle cx="396.1" cy="193.1" r="1.2" fill="#b8d8ec" stroke="#6e9cc2" stroke-width="0.7"/><circle cx="398.2" cy="194.2" r="1.2" fill="#b8d8ec" stroke="#6e9cc2" stroke-width="0.7"/><circle cx="400.0" cy="195.1" r="0.6" fill="#d8d090"/><circle cx="401.7" cy="140.9" r="1.2" fill="#b8d8ec" stroke="#6e9cc2" stroke-width="0.7"/><circle cx="404.0" cy="139.5" r="1.2" fill="#b8d8ec" stroke="#6e9cc2" stroke-width="0.7"/><circle cx="406.3" cy="140.7" r="1.2" fill="#b8d8ec" stroke="#6e9cc2" stroke-width="0.7"/><circle cx="408.6" cy="139.4" r="1.2" fill="#b8d8ec" stroke="#6e9cc2" stroke-width="0.7"/><circle cx="410.7" cy="140.5" r="1.2" fill="#b8d8ec" stroke="#6e9cc2" stroke-width="0.7"/><circle cx="412.5" cy="141.4" r="0.6" fill="#d8d090"/><circle cx="401.7" cy="153.0" r="1.2" fill="#b8d8ec" stroke="#6e9cc2" stroke-width="0.7"/><circle cx="404.0" cy="151.6" r="1.2" fill="#b8d8ec" stroke="#6e9cc2" stroke-width="0.7"/><circle cx="406.3" cy="152.8" r="1.2" fill="#b8d8ec" stroke="#6e9cc2" stroke-width="0.7"/><circle cx="408.6" cy="151.5" r="1.2" fill="#b8d8ec" stroke="#6e9cc2" stroke-width="0.7"/><circle cx="410.7" cy="152.6" r="1.2" fill="#b8d8ec" stroke="#6e9cc2" stroke-width="0.7"/><circle cx="412.5" cy="153.5" r="0.6" fill="#d8d090"/><circle cx="401.7" cy="165.1" r="1.2" fill="#b8d8ec" stroke="#6e9cc2" stroke-width="0.7"/><circle cx="404.0" cy="163.7" r="1.2" fill="#b8d8ec" stroke="#6e9cc2" stroke-width="0.7"/><circle cx="406.3" cy="164.9" r="1.2" fill="#b8d8ec" stroke="#6e9cc2" stroke-width="0.7"/><circle cx="408.6" cy="163.6" r="1.2" fill="#b8d8ec" stroke="#6e9cc2" stroke-width="0.7"/><circle cx="410.7" cy="164.7" r="1.2" fill="#b8d8ec" stroke="#6e9cc2" stroke-width="0.7"/><circle cx="412.5" cy="165.6" r="0.6" fill="#d8d090"/><circle cx="401.7" cy="177.2" r="1.2" fill="#b8d8ec" stroke="#6e9cc2" stroke-width="0.7"/><circle cx="404.0" cy="175.8" r="1.2" fill="#b8d8ec" stroke="#6e9cc2" stroke-width="0.7"/><circle cx="406.3" cy="177.0" r="1.2" fill="#b8d8ec" stroke="#6e9cc2" stroke-width="0.7"/><circle cx="408.6" cy="175.7" r="1.2" fill="#b8d8ec" stroke="#6e9cc2" stroke-width="0.7"/><circle cx="410.7" cy="176.8" r="1.2" fill="#b8d8ec" stroke="#6e9cc2" stroke-width="0.7"/><circle cx="412.5" cy="177.7" r="0.6" fill="#d8d090"/><circle cx="401.7" cy="189.3" r="1.2" fill="#b8d8ec" stroke="#6e9cc2" stroke-width="0.7"/><circle cx="404.0" cy="187.9" r="1.2" fill="#b8d8ec" stroke="#6e9cc2" stroke-width="0.7"/><circle cx="406.3" cy="189.1" r="1.2" fill="#b8d8ec" stroke="#6e9cc2" stroke-width="0.7"/><circle cx="408.6" cy="187.8" r="1.2" fill="#b8d8ec" stroke="#6e9cc2" stroke-width="0.7"/><circle cx="410.7" cy="188.9" r="1.2" fill="#b8d8ec" stroke="#6e9cc2" stroke-width="0.7"/><circle cx="412.5" cy="189.8" r="0.6" fill="#d8d090"/><circle cx="415.4" cy="146.2" r="1.2" fill="#b8d8ec" stroke="#6e9cc2" stroke-width="0.7"/><circle cx="417.7" cy="144.8" r="1.2" fill="#b8d8ec" stroke="#6e9cc2" stroke-width="0.7"/><circle cx="420.0" cy="146.0" r="1.2" fill="#b8d8ec" stroke="#6e9cc2" stroke-width="0.7"/><circle cx="422.3" cy="144.7" r="1.2" fill="#b8d8ec" stroke="#6e9cc2" stroke-width="0.7"/><circle cx="424.4" cy="145.8" r="1.2" fill="#b8d8ec" stroke="#6e9cc2" stroke-width="0.7"/><circle cx="426.2" cy="146.7" r="0.6" fill="#d8d090"/><circle cx="415.4" cy="158.3" r="1.2" fill="#b8d8ec" stroke="#6e9cc2" stroke-width="0.7"/><circle cx="417.7" cy="156.9" r="1.2" fill="#b8d8ec" stroke="#6e9cc2" stroke-width="0.7"/><circle cx="420.0" cy="158.1" r="1.2" fill="#b8d8ec" stroke="#6e9cc2" stroke-width="0.7"/><circle cx="422.3" cy="156.8" r="1.2" fill="#b8d8ec" stroke="#6e9cc2" stroke-width="0.7"/><circle cx="424.4" cy="157.9" r="1.2" fill="#b8d8ec" stroke="#6e9cc2" stroke-width="0.7"/><circle cx="426.2" cy="158.8" r="0.6" fill="#d8d090"/><circle cx="415.4" cy="170.4" r="1.2" fill="#b8d8ec" stroke="#6e9cc2" stroke-width="0.7"/><circle cx="417.7" cy="169.0" r="1.2" fill="#b8d8ec" stroke="#6e9cc2" stroke-width="0.7"/><circle cx="420.0" cy="170.2" r="1.2" fill="#b8d8ec" stroke="#6e9cc2" stroke-width="0.7"/><circle cx="422.3" cy="168.9" r="1.2" fill="#b8d8ec" stroke="#6e9cc2" stroke-width="0.7"/><circle cx="424.4" cy="170.0" r="1.2" fill="#b8d8ec" stroke="#6e9cc2" stroke-width="0.7"/><circle cx="426.2" cy="170.9" r="0.6" fill="#d8d090"/><circle cx="415.4" cy="182.5" r="1.2" fill="#b8d8ec" stroke="#6e9cc2" stroke-width="0.7"/><circle cx="417.7" cy="181.1" r="1.2" fill="#b8d8ec" stroke="#6e9cc2" stroke-width="0.7"/><circle cx="420.0" cy="182.3" r="1.2" fill="#b8d8ec" stroke="#6e9cc2" stroke-width="0.7"/><circle cx="422.3" cy="181.0" r="1.2" fill="#b8d8ec" stroke="#6e9cc2" stroke-width="0.7"/><circle cx="424.4" cy="182.1" r="1.2" fill="#b8d8ec" stroke="#6e9cc2" stroke-width="0.7"/><circle cx="426.2" cy="183.0" r="0.6" fill="#d8d090"/><circle cx="415.4" cy="194.6" r="1.2" fill="#b8d8ec" stroke="#6e9cc2" stroke-width="0.7"/><circle cx="417.7" cy="193.2" r="1.2" fill="#b8d8ec" stroke="#6e9cc2" stroke-width="0.7"/><circle cx="420.0" cy="194.4" r="1.2" fill="#b8d8ec" stroke="#6e9cc2" stroke-width="0.7"/><circle cx="422.3" cy="193.1" r="1.2" fill="#b8d8ec" stroke="#6e9cc2" stroke-width="0.7"/><circle cx="424.4" cy="194.2" r="1.2" fill="#b8d8ec" stroke="#6e9cc2" stroke-width="0.7"/><circle cx="426.2" cy="195.1" r="0.6" fill="#d8d090"/><circle cx="607.4" cy="146.2" r="1.2" fill="#b8d8ec" stroke="#6e9cc2" stroke-width="0.7"/><circle cx="609.7" cy="144.8" r="1.2" fill="#b8d8ec" stroke="#6e9cc2" stroke-width="0.7"/><circle cx="612.0" cy="146.0" r="1.2" fill="#b8d8ec" stroke="#6e9cc2" stroke-width="0.7"/><circle cx="614.3" cy="144.7" r="1.2" fill="#b8d8ec" stroke="#6e9cc2" stroke-width="0.7"/><circle cx="616.4" cy="145.8" r="1.2" fill="#b8d8ec" stroke="#6e9cc2" stroke-width="0.7"/><circle cx="618.2" cy="146.7" r="0.6" fill="#d8d090"/><circle cx="607.4" cy="158.3" r="1.2" fill="#b8d8ec" stroke="#6e9cc2" stroke-width="0.7"/><circle cx="609.7" cy="156.9" r="1.2" fill="#b8d8ec" stroke="#6e9cc2" stroke-width="0.7"/><circle cx="612.0" cy="158.1" r="1.2" fill="#b8d8ec" stroke="#6e9cc2" stroke-width="0.7"/><circle cx="614.3" cy="156.8" r="1.2" fill="#b8d8ec" stroke="#6e9cc2" stroke-width="0.7"/><circle cx="616.4" cy="157.9" r="1.2" fill="#b8d8ec" stroke="#6e9cc2" stroke-width="0.7"/><circle cx="618.2" cy="158.8" r="0.6" fill="#d8d090"/><circle cx="607.4" cy="170.4" r="1.2" fill="#b8d8ec" stroke="#6e9cc2" stroke-width="0.7"/><circle cx="609.7" cy="169.0" r="1.2" fill="#b8d8ec" stroke="#6e9cc2" stroke-width="0.7"/><circle cx="612.0" cy="170.2" r="1.2" fill="#b8d8ec" stroke="#6e9cc2" stroke-width="0.7"/><circle cx="614.3" cy="168.9" r="1.2" fill="#b8d8ec" stroke="#6e9cc2" stroke-width="0.7"/><circle cx="616.4" cy="170.0" r="1.2" fill="#b8d8ec" stroke="#6e9cc2" stroke-width="0.7"/><circle cx="618.2" cy="170.9" r="0.6" fill="#d8d090"/><circle cx="607.4" cy="182.5" r="1.2" fill="#b8d8ec" stroke="#6e9cc2" stroke-width="0.7"/><circle cx="609.7" cy="181.1" r="1.2" fill="#b8d8ec" stroke="#6e9cc2" stroke-width="0.7"/><circle cx="612.0" cy="182.3" r="1.2" fill="#b8d8ec" stroke="#6e9cc2" stroke-width="0.7"/><circle cx="614.3" cy="181.0" r="1.2" fill="#b8d8ec" stroke="#6e9cc2" stroke-width="0.7"/><circle cx="616.4" cy="182.1" r="1.2" fill="#b8d8ec" stroke="#6e9cc2" stroke-width="0.7"/><circle cx="618.2" cy="183.0" r="0.6" fill="#d8d090"/><circle cx="607.4" cy="194.6" r="1.2" fill="#b8d8ec" stroke="#6e9cc2" stroke-width="0.7"/><circle cx="609.7" cy="193.2" r="1.2" fill="#b8d8ec" stroke="#6e9cc2" stroke-width="0.7"/><circle cx="612.0" cy="194.4" r="1.2" fill="#b8d8ec" stroke="#6e9cc2" stroke-width="0.7"/><circle cx="614.3" cy="193.1" r="1.2" fill="#b8d8ec" stroke="#6e9cc2" stroke-width="0.7"/><circle cx="616.4" cy="194.2" r="1.2" fill="#b8d8ec" stroke="#6e9cc2" stroke-width="0.7"/><circle cx="618.2" cy="195.1" r="0.6" fill="#d8d090"/><circle cx="620.4" cy="140.9" r="1.2" fill="#b8d8ec" stroke="#6e9cc2" stroke-width="0.7"/><circle cx="622.7" cy="139.5" r="1.2" fill="#b8d8ec" stroke="#6e9cc2" stroke-width="0.7"/><circle cx="625.0" cy="140.7" r="1.2" fill="#b8d8ec" stroke="#6e9cc2" stroke-width="0.7"/><circle cx="627.3" cy="139.4" r="1.2" fill="#b8d8ec" stroke="#6e9cc2" stroke-width="0.7"/><circle cx="629.4" cy="140.5" r="1.2" fill="#b8d8ec" stroke="#6e9cc2" stroke-width="0.7"/><circle cx="631.2" cy="141.4" r="0.6" fill="#d8d090"/><circle cx="620.4" cy="153.0" r="1.2" fill="#b8d8ec" stroke="#6e9cc2" stroke-width="0.7"/><circle cx="622.7" cy="151.6" r="1.2" fill="#b8d8ec" stroke="#6e9cc2" stroke-width="0.7"/><circle cx="625.0" cy="152.8" r="1.2" fill="#b8d8ec" stroke="#6e9cc2" stroke-width="0.7"/><circle cx="627.3" cy="151.5" r="1.2" fill="#b8d8ec" stroke="#6e9cc2" stroke-width="0.7"/><circle cx="629.4" cy="152.6" r="1.2" fill="#b8d8ec" stroke="#6e9cc2" stroke-width="0.7"/><circle cx="631.2" cy="153.5" r="0.6" fill="#d8d090"/><circle cx="620.4" cy="165.1" r="1.2" fill="#b8d8ec" stroke="#6e9cc2" stroke-width="0.7"/><circle cx="622.7" cy="163.7" r="1.2" fill="#b8d8ec" stroke="#6e9cc2" stroke-width="0.7"/><circle cx="625.0" cy="164.9" r="1.2" fill="#b8d8ec" stroke="#6e9cc2" stroke-width="0.7"/><circle cx="627.3" cy="163.6" r="1.2" fill="#b8d8ec" stroke="#6e9cc2" stroke-width="0.7"/><circle cx="629.4" cy="164.7" r="1.2" fill="#b8d8ec" stroke="#6e9cc2" stroke-width="0.7"/><circle cx="631.2" cy="165.6" r="0.6" fill="#d8d090"/><circle cx="620.4" cy="177.2" r="1.2" fill="#b8d8ec" stroke="#6e9cc2" stroke-width="0.7"/><circle cx="622.7" cy="175.8" r="1.2" fill="#b8d8ec" stroke="#6e9cc2" stroke-width="0.7"/><circle cx="625.0" cy="177.0" r="1.2" fill="#b8d8ec" stroke="#6e9cc2" stroke-width="0.7"/><circle cx="627.3" cy="175.7" r="1.2" fill="#b8d8ec" stroke="#6e9cc2" stroke-width="0.7"/><circle cx="629.4" cy="176.8" r="1.2" fill="#b8d8ec" stroke="#6e9cc2" stroke-width="0.7"/><circle cx="631.2" cy="177.7" r="0.6" fill="#d8d090"/><circle cx="620.4" cy="189.3" r="1.2" fill="#b8d8ec" stroke="#6e9cc2" stroke-width="0.7"/><circle cx="622.7" cy="187.9" r="1.2" fill="#b8d8ec" stroke="#6e9cc2" stroke-width="0.7"/><circle cx="625.0" cy="189.1" r="1.2" fill="#b8d8ec" stroke="#6e9cc2" stroke-width="0.7"/><circle cx="627.3" cy="187.8" r="1.2" fill="#b8d8ec" stroke="#6e9cc2" stroke-width="0.7"/><circle cx="629.4" cy="188.9" r="1.2" fill="#b8d8ec" stroke="#6e9cc2" stroke-width="0.7"/><circle cx="631.2" cy="189.8" r="0.6" fill="#d8d090"/><circle cx="633.4" cy="146.2" r="1.2" fill="#b8d8ec" stroke="#6e9cc2" stroke-width="0.7"/><circle cx="635.7" cy="144.8" r="1.2" fill="#b8d8ec" stroke="#6e9cc2" stroke-width="0.7"/><circle cx="638.0" cy="146.0" r="1.2" fill="#b8d8ec" stroke="#6e9cc2" stroke-width="0.7"/><circle cx="640.3" cy="144.7" r="1.2" fill="#b8d8ec" stroke="#6e9cc2" stroke-width="0.7"/><circle cx="642.4" cy="145.8" r="1.2" fill="#b8d8ec" stroke="#6e9cc2" stroke-width="0.7"/><circle cx="644.2" cy="146.7" r="0.6" fill="#d8d090"/><circle cx="633.4" cy="158.3" r="1.2" fill="#b8d8ec" stroke="#6e9cc2" stroke-width="0.7"/><circle cx="635.7" cy="156.9" r="1.2" fill="#b8d8ec" stroke="#6e9cc2" stroke-width="0.7"/><circle cx="638.0" cy="158.1" r="1.2" fill="#b8d8ec" stroke="#6e9cc2" stroke-width="0.7"/><circle cx="640.3" cy="156.8" r="1.2" fill="#b8d8ec" stroke="#6e9cc2" stroke-width="0.7"/><circle cx="642.4" cy="157.9" r="1.2" fill="#b8d8ec" stroke="#6e9cc2" stroke-width="0.7"/><circle cx="644.2" cy="158.8" r="0.6" fill="#d8d090"/><circle cx="633.4" cy="170.4" r="1.2" fill="#b8d8ec" stroke="#6e9cc2" stroke-width="0.7"/><circle cx="635.7" cy="169.0" r="1.2" fill="#b8d8ec" stroke="#6e9cc2" stroke-width="0.7"/><circle cx="638.0" cy="170.2" r="1.2" fill="#b8d8ec" stroke="#6e9cc2" stroke-width="0.7"/><circle cx="640.3" cy="168.9" r="1.2" fill="#b8d8ec" stroke="#6e9cc2" stroke-width="0.7"/><circle cx="642.4" cy="170.0" r="1.2" fill="#b8d8ec" stroke="#6e9cc2" stroke-width="0.7"/><circle cx="644.2" cy="170.9" r="0.6" fill="#d8d090"/><circle cx="633.4" cy="182.5" r="1.2" fill="#b8d8ec" stroke="#6e9cc2" stroke-width="0.7"/><circle cx="635.7" cy="181.1" r="1.2" fill="#b8d8ec" stroke="#6e9cc2" stroke-width="0.7"/><circle cx="638.0" cy="182.3" r="1.2" fill="#b8d8ec" stroke="#6e9cc2" stroke-width="0.7"/><circle cx="640.3" cy="181.0" r="1.2" fill="#b8d8ec" stroke="#6e9cc2" stroke-width="0.7"/><circle cx="642.4" cy="182.1" r="1.2" fill="#b8d8ec" stroke="#6e9cc2" stroke-width="0.7"/><circle cx="644.2" cy="183.0" r="0.6" fill="#d8d090"/><circle cx="633.4" cy="194.6" r="1.2" fill="#b8d8ec" stroke="#6e9cc2" stroke-width="0.7"/><circle cx="635.7" cy="193.2" r="1.2" fill="#b8d8ec" stroke="#6e9cc2" stroke-width="0.7"/><circle cx="638.0" cy="194.4" r="1.2" fill="#b8d8ec" stroke="#6e9cc2" stroke-width="0.7"/><circle cx="640.3" cy="193.1" r="1.2" fill="#b8d8ec" stroke="#6e9cc2" stroke-width="0.7"/><circle cx="642.4" cy="194.2" r="1.2" fill="#b8d8ec" stroke="#6e9cc2" stroke-width="0.7"/><circle cx="644.2" cy="195.1" r="0.6" fill="#d8d090"/><circle cx="647.4" cy="140.9" r="1.2" fill="#b8d8ec" stroke="#6e9cc2" stroke-width="0.7"/><circle cx="649.7" cy="139.5" r="1.2" fill="#b8d8ec" stroke="#6e9cc2" stroke-width="0.7"/><circle cx="652.0" cy="140.7" r="1.2" fill="#b8d8ec" stroke="#6e9cc2" stroke-width="0.7"/><circle cx="654.3" cy="139.4" r="1.2" fill="#b8d8ec" stroke="#6e9cc2" stroke-width="0.7"/><circle cx="656.4" cy="140.5" r="1.2" fill="#b8d8ec" stroke="#6e9cc2" stroke-width="0.7"/><circle cx="658.2" cy="141.4" r="0.6" fill="#d8d090"/><circle cx="647.4" cy="153.0" r="1.2" fill="#b8d8ec" stroke="#6e9cc2" stroke-width="0.7"/><circle cx="649.7" cy="151.6" r="1.2" fill="#b8d8ec" stroke="#6e9cc2" stroke-width="0.7"/><circle cx="652.0" cy="152.8" r="1.2" fill="#b8d8ec" stroke="#6e9cc2" stroke-width="0.7"/><circle cx="654.3" cy="151.5" r="1.2" fill="#b8d8ec" stroke="#6e9cc2" stroke-width="0.7"/><circle cx="656.4" cy="152.6" r="1.2" fill="#b8d8ec" stroke="#6e9cc2" stroke-width="0.7"/><circle cx="658.2" cy="153.5" r="0.6" fill="#d8d090"/><circle cx="647.4" cy="165.1" r="1.2" fill="#b8d8ec" stroke="#6e9cc2" stroke-width="0.7"/><circle cx="649.7" cy="163.7" r="1.2" fill="#b8d8ec" stroke="#6e9cc2" stroke-width="0.7"/><circle cx="652.0" cy="164.9" r="1.2" fill="#b8d8ec" stroke="#6e9cc2" stroke-width="0.7"/><circle cx="654.3" cy="163.6" r="1.2" fill="#b8d8ec" stroke="#6e9cc2" stroke-width="0.7"/><circle cx="656.4" cy="164.7" r="1.2" fill="#b8d8ec" stroke="#6e9cc2" stroke-width="0.7"/><circle cx="658.2" cy="165.6" r="0.6" fill="#d8d090"/><circle cx="647.4" cy="177.2" r="1.2" fill="#b8d8ec" stroke="#6e9cc2" stroke-width="0.7"/><circle cx="649.7" cy="175.8" r="1.2" fill="#b8d8ec" stroke="#6e9cc2" stroke-width="0.7"/><circle cx="652.0" cy="177.0" r="1.2" fill="#b8d8ec" stroke="#6e9cc2" stroke-width="0.7"/><circle cx="654.3" cy="175.7" r="1.2" fill="#b8d8ec" stroke="#6e9cc2" stroke-width="0.7"/><circle cx="656.4" cy="176.8" r="1.2" fill="#b8d8ec" stroke="#6e9cc2" stroke-width="0.7"/><circle cx="658.2" cy="177.7" r="0.6" fill="#d8d090"/><circle cx="647.4" cy="189.3" r="1.2" fill="#b8d8ec" stroke="#6e9cc2" stroke-width="0.7"/><circle cx="649.7" cy="187.9" r="1.2" fill="#b8d8ec" stroke="#6e9cc2" stroke-width="0.7"/><circle cx="652.0" cy="189.1" r="1.2" fill="#b8d8ec" stroke="#6e9cc2" stroke-width="0.7"/><circle cx="654.3" cy="187.8" r="1.2" fill="#b8d8ec" stroke="#6e9cc2" stroke-width="0.7"/><circle cx="656.4" cy="188.9" r="1.2" fill="#b8d8ec" stroke="#6e9cc2" stroke-width="0.7"/><circle cx="658.2" cy="189.8" r="0.6" fill="#d8d090"/></g>
<text x="399.0" y="135.0" font-size="11.00" fill="#222" text-anchor="middle" font-weight="normal" stroke="#222" stroke-width="0.35">III</text>
<text x="454.3" y="135.0" font-size="11.00" fill="#222" text-anchor="middle" font-weight="normal" stroke="#222" stroke-width="0.35">II</text>
<text x="516.3" y="135.0" font-size="11.00" fill="#222" text-anchor="middle" font-weight="normal" stroke="#222" stroke-width="0.35">I</text>
<text x="576.0" y="135.0" font-size="11.00" fill="#222" text-anchor="middle" font-weight="normal" stroke="#222" stroke-width="0.35">II</text>
<text x="630.6" y="135.0" font-size="11.00" fill="#222" text-anchor="middle" font-weight="normal" stroke="#222" stroke-width="0.35">III</text>
<text x="0.5" y="228.0" font-size="20.00" fill="#111" text-anchor="start" font-weight="normal" >c</text>
<g clip-path="url(#cMic1)"><rect x="20" y="213.0" width="313" height="121.5" fill="#8a3e58"/><polygon points="20.0,241.8 333.0,241.8 333.0,310.0 20.0,279.0" fill="#865a64" /><polygon points="20.0,273.0 333.0,304.0 333.0,310.0 20.0,279.0" fill="url(#gFilmShadow)" /><rect x="20.5" y="213.0" width="33.3" height="121.5" fill="url(#gStripe)"/><rect x="144.0" y="213.0" width="34.5" height="121.5" fill="url(#gStripe)"/><rect x="258.0" y="213.0" width="33.5" height="121.5" fill="url(#gStripe)"/></g>
<polygon points="289.0,241.8 333.0,241.8 333.0,310.0 289.0,305.7" fill="#7a7868" opacity="0.45"/>
<line x1="20" y1="241.8" x2="333" y2="241.8" stroke="#000" stroke-width="1.5" stroke-dasharray="4.2 3.8" fill="none"/>
<line x1="20" y1="279" x2="333" y2="310" stroke="#000" stroke-width="1.5" stroke-dasharray="4.2 3.8" fill="none"/>
<path d="M52.7,283.2 L52.7,242.3 L148.0,242.3 L148.0,292.7 Z" stroke="#ffffff" stroke-width="1.2" stroke-dasharray="1.2 1.5" fill="none"/>
<path d="M176.6,295.5 L176.6,242.3 L259.8,242.3 L259.8,303.8 Z" stroke="#ffffff" stroke-width="1.2" stroke-dasharray="1.2 1.5" fill="none"/>
<text x="58.6" y="234.0" font-size="16.80" fill="#f4d420" text-anchor="start" font-weight="normal" >Before</text>
<rect x="218" y="226" width="2.6" height="9.8" fill="#4a1ee0"/>
<text x="40.3" y="268.0" font-size="16.50" fill="#111" text-anchor="middle" font-weight="normal" stroke="#111" stroke-width="0.3">Pd</text>
<text x="162.6" y="269.3" font-size="16.50" fill="#111" text-anchor="middle" font-weight="normal" stroke="#111" stroke-width="0.3">Pd</text>
<text x="274.5" y="269.3" font-size="16.50" fill="#111" text-anchor="middle" font-weight="normal" stroke="#111" stroke-width="0.3">Pd</text>
<text x="193.8" y="273.8" font-size="16.20" fill="#ffffff" text-anchor="start" font-weight="normal" >PdSe<tspan font-size="11" dy="3.5">2</tspan></text>
<rect x="57.5" y="325.8" width="47.2" height="2.4" fill="#ffffff"/>
<text x="79.6" y="322.0" font-size="12.30" fill="#ffffff" text-anchor="middle" font-weight="normal" >4 μm</text>
<g clip-path="url(#cMic2)"><rect x="20" y="345.2" width="313" height="124.5" fill="#8a4a68"/><polygon points="20.0,376.0 333.0,376.0 333.0,445.2 20.0,413.2" fill="#80527a" /><polygon points="20.0,407.2 333.0,439.2 333.0,445.2 20.0,413.2" fill="url(#gFilmShadow)" /><rect x="19.0" y="345.2" width="37.0" height="124.5" fill="url(#gStripe2)"/><rect x="143.5" y="345.2" width="35.5" height="124.5" fill="url(#gStripe2)"/><rect x="258.0" y="345.2" width="36.0" height="124.5" fill="url(#gStripe2)"/></g>
<line x1="20" y1="376" x2="333" y2="376" stroke="#000" stroke-width="1.5" stroke-dasharray="4.2 3.8" fill="none"/>
<line x1="20" y1="413.2" x2="333" y2="445.2" stroke="#000" stroke-width="1.5" stroke-dasharray="4.2 3.8" fill="none"/>
<polygon points="50.1,376.0 64.3,376.0 64.3,417.7 50.1,416.3" fill="url(#gIIIL)" opacity="1.00"/>
<polygon points="64.3,376.0 87.0,376.0 87.0,420.0 64.3,417.7" fill="#5a2a70" opacity="0.12"/>
<polygon points="87.0,376.0 113.6,376.0 113.6,422.8 87.0,420.0" fill="#a08e5a" opacity="0.30"/>
<polygon points="113.6,376.0 135.6,376.0 135.6,425.0 113.6,422.8" fill="#5a2a70" opacity="0.12"/>
<polygon points="135.6,376.0 148.0,376.0 148.0,426.3 135.6,425.0" fill="url(#gIIIR)" opacity="1.00"/>
<polygon points="176.8,376.0 191.0,376.0 191.0,430.7 176.8,429.2" fill="url(#gIIIL)" opacity="1.00"/>
<polygon points="191.0,376.0 208.0,376.0 208.0,432.4 191.0,430.7" fill="#5a2a70" opacity="0.12"/>
<polygon points="208.0,376.0 230.8,376.0 230.8,434.8 208.0,432.4" fill="#c8c0c8" opacity="0.40"/>
<polygon points="230.8,376.0 247.9,376.0 247.9,436.5 230.8,434.8" fill="#5a2a70" opacity="0.12"/>
<polygon points="247.9,376.0 262.0,376.0 262.0,437.9 247.9,436.5" fill="url(#gIIIR)" opacity="1.00"/>
<polygon points="288.0,376.0 333.0,376.0 333.0,445.2 288.0,440.6" fill="url(#gRgt)" opacity="1.00"/>
<polygon points="20.0,376.0 26.0,376.0 26.0,413.8 20.0,413.2" fill="#c08070" opacity="0.40"/>
<path d="M50.1,376.5 L148,376.5 M176.8,376.5 L262,376.5 M50.1,417.3 L148,427.3 M176.8,430.2 L262,438.9" stroke="#ffffff" stroke-width="1.2" stroke-dasharray="1.2 1.5" fill="none"/>
<line x1="50.1" y1="376.5" x2="50.1" y2="417.3" stroke="#ffffff" stroke-width="1.2" stroke-dasharray="1.2 1.5" fill="none"/>
<line x1="64.3" y1="376.5" x2="64.3" y2="418.7" stroke="#ffffff" stroke-width="1.2" stroke-dasharray="1.2 1.5" fill="none"/>
<line x1="87.0" y1="376.5" x2="87.0" y2="421.0" stroke="#ffffff" stroke-width="1.2" stroke-dasharray="1.2 1.5" fill="none"/>
<line x1="113.6" y1="376.5" x2="113.6" y2="423.8" stroke="#ffffff" stroke-width="1.2" stroke-dasharray="1.2 1.5" fill="none"/>
<line x1="135.6" y1="376.5" x2="135.6" y2="426.0" stroke="#ffffff" stroke-width="1.2" stroke-dasharray="1.2 1.5" fill="none"/>
<line x1="148.0" y1="376.5" x2="148.0" y2="427.3" stroke="#ffffff" stroke-width="1.2" stroke-dasharray="1.2 1.5" fill="none"/>
<line x1="176.8" y1="376.5" x2="176.8" y2="430.2" stroke="#ffffff" stroke-width="1.2" stroke-dasharray="1.2 1.5" fill="none"/>
<line x1="191.0" y1="376.5" x2="191.0" y2="431.7" stroke="#ffffff" stroke-width="1.2" stroke-dasharray="1.2 1.5" fill="none"/>
<line x1="208.0" y1="376.5" x2="208.0" y2="433.4" stroke="#ffffff" stroke-width="1.2" stroke-dasharray="1.2 1.5" fill="none"/>
<line x1="230.8" y1="376.5" x2="230.8" y2="435.8" stroke="#ffffff" stroke-width="1.2" stroke-dasharray="1.2 1.5" fill="none"/>
<line x1="247.9" y1="376.5" x2="247.9" y2="437.5" stroke="#ffffff" stroke-width="1.2" stroke-dasharray="1.2 1.5" fill="none"/>
<line x1="262.0" y1="376.5" x2="262.0" y2="438.9" stroke="#ffffff" stroke-width="1.2" stroke-dasharray="1.2 1.5" fill="none"/>
<text x="60.2" y="366.0" font-size="16.80" fill="#f4d420" text-anchor="start" font-weight="normal" >After</text>
<text x="39.8" y="403.2" font-size="16.50" fill="#111" text-anchor="middle" font-weight="normal" stroke="#111" stroke-width="0.3">Pd</text>
<text x="161.8" y="403.2" font-size="16.50" fill="#111" text-anchor="middle" font-weight="normal" stroke="#111" stroke-width="0.3">Pd</text>
<text x="275.7" y="403.2" font-size="16.50" fill="#111" text-anchor="middle" font-weight="normal" stroke="#111" stroke-width="0.3">Pd</text>
<text x="0.0" y="0.0" font-size="12.80" fill="#ffffff" text-anchor="start" font-weight="normal" transform="translate(213.6,386.8) rotate(90)">PdSe<tspan font-size="9" dy="3">2</tspan></text>
<rect x="177.5" y="360" width="2.6" height="10.5" fill="#1a9a1a"/>
<rect x="181.3" y="360" width="2.6" height="10.5" fill="#1a9a1a"/>
<rect x="185.1" y="360" width="2.6" height="10.5" fill="#1a9a1a"/>
<rect x="196.8" y="360" width="2.6" height="10.5" fill="#e01818"/>
<rect x="200.6" y="360" width="2.6" height="10.5" fill="#e01818"/>
<rect x="218.4" y="360" width="2.6" height="10.5" fill="#4a1ee0"/>
<rect x="236.0" y="360" width="2.6" height="10.5" fill="#e01818"/>
<rect x="239.8" y="360" width="2.6" height="10.5" fill="#e01818"/>
<rect x="250.5" y="360" width="2.6" height="10.5" fill="#1a9a1a"/>
<rect x="254.3" y="360" width="2.6" height="10.5" fill="#1a9a1a"/>
<rect x="258.1" y="360" width="2.6" height="10.5" fill="#1a9a1a"/>
<rect x="59" y="460.8" width="47" height="2.4" fill="#ffffff"/>
<text x="82.5" y="456.5" font-size="12.30" fill="#ffffff" text-anchor="middle" font-weight="normal" >4 μm</text>
<text x="348.8" y="227.8" font-size="20.00" fill="#111" text-anchor="start" font-weight="normal" stroke="#111" stroke-width="0.3">d</text>
<rect x="416.9" y="212" width="21.3" height="230.3" fill="#dcdcdc"/>
<rect x="557.5" y="212" width="18.5" height="230.3" fill="#dcdcdc"/>
<line x1="427.6" y1="212" x2="427.6" y2="442.3" stroke="#6a6a6a" stroke-width="0.9" stroke-dasharray="2.6 1.8"/>
<line x1="503.3" y1="212" x2="503.3" y2="442.3" stroke="#6a6a6a" stroke-width="0.9" stroke-dasharray="2.6 1.8"/>
<line x1="522.5" y1="212" x2="522.5" y2="442.3" stroke="#6a6a6a" stroke-width="0.9" stroke-dasharray="2.6 1.8"/>
<line x1="566.3" y1="212" x2="566.3" y2="442.3" stroke="#6a6a6a" stroke-width="0.9" stroke-dasharray="2.6 1.8"/>
<path d="M373.5,316.7 C376.4,316.7 378.1,317.3 383.3,316.7 C388.5,316.1 386.3,316.9 390.8,314.8 C395.3,312.7 394.7,311.0 398.4,309.7 C402.1,308.4 400.2,310.8 403.1,310.5 C406.0,310.2 405.0,308.6 407.9,308.6 C410.8,308.6 409.5,309.8 412.6,310.5 C415.7,311.2 415.4,313.4 418.3,311.0 C421.2,308.6 420.1,313.6 422.1,302.5 C424.1,291.4 423.3,287.4 424.9,274.0 C426.5,260.6 425.8,259.1 427.4,258.0 C429.0,256.9 428.4,258.7 430.2,270.3 C432.0,281.9 431.0,285.2 433.4,296.8 C435.8,308.4 434.5,304.8 438.2,309.1 C441.9,313.4 440.7,310.2 445.8,311.0 C450.9,311.8 448.4,311.9 455.2,311.6 C462.0,311.3 461.6,310.6 468.5,310.0 C475.4,309.4 472.7,310.3 478.3,309.6 C483.9,308.9 483.1,308.9 487.1,307.8 C491.1,306.7 488.9,306.0 491.5,306.0 C494.1,306.0 493.6,308.6 495.9,307.8 C498.2,307.0 497.1,307.9 499.2,303.4 C501.3,298.9 500.7,294.4 503.0,292.8 C505.3,291.2 504.8,293.7 507.0,297.9 C509.2,302.1 508.0,303.7 510.3,306.7 C512.6,309.7 512.1,309.4 514.7,307.8 C517.3,306.2 516.8,305.7 519.1,301.2 C521.4,296.7 520.4,293.2 522.4,292.8 C524.4,292.4 523.8,295.5 525.8,300.0 C527.8,304.5 526.1,304.8 529.1,307.8 C532.1,310.8 529.7,309.3 535.7,310.0 C541.7,310.7 542.7,310.3 549.0,310.0 C555.3,309.7 553.4,312.9 556.7,308.9 C560.0,304.9 558.0,314.2 560.0,296.7 C562.0,279.1 561.6,271.9 563.3,250.4 C564.9,228.9 564.4,232.2 565.5,224.9 C566.6,217.6 566.1,219.0 567.1,226.0 C568.1,233.0 567.3,229.5 568.8,248.1 C570.3,266.7 570.2,272.3 572.2,287.9 C574.2,303.5 572.5,295.0 575.5,300.0 C578.5,305.0 577.5,301.8 582.1,304.5 C586.7,307.2 585.5,307.2 590.9,308.9 C596.3,310.5 592.8,309.4 600.0,310.0 C607.2,310.6 606.0,310.9 615.0,311.0 C624.0,311.1 621.0,310.4 630.0,310.5 C639.0,310.6 636.0,311.1 645.0,311.2 C654.0,311.3 649.8,310.9 660.0,310.8 C670.2,310.7 673.3,310.9 679.0,311.0" fill="none" stroke="#3a1ec8" stroke-width="2.2" stroke-linejoin="round" stroke-linecap="round"/>
<polyline points="373.5,380.0 375.5,380.3 377.1,381.9 379.5,389.0 383.4,385.0 385.8,389.0 389.7,380.3 399.2,338.4 401.6,339.2 405.5,357.4 407.9,358.2 410.3,355.0 415.8,362.9 419.0,372.4 421.3,369.2 422.9,370.0 427.7,381.1 433.2,377.9 437.1,376.3 440.3,385.8 444.2,378.7 449.0,380.3 451.4,385.0 456.1,378.7 460.8,371.6 464.8,362.9 469.0,360.3 472.1,363.4 475.3,369.8 477.6,370.6 480.0,374.5 481.6,374.5 484.0,365.8 486.3,364.2 489.5,331.1 491.9,337.4 494.2,354.8 496.6,363.4 499.0,361.9 502.1,362.7 504.5,357.9 507.7,361.9 511.6,374.5 513.2,372.9 516.3,375.3 519.5,377.7 521.9,380.0 524.2,380.8 528.2,384.0 530.6,374.5 532.9,380.8 536.9,383.2 539.3,383.2 543.2,387.9 545.6,383.2 548.7,383.2 551.1,381.6 553.5,383.2 556.6,375.3 559.8,376.9 562.9,368.2 565.4,371.6 570.8,361.7 573.5,363.5 577.2,369.8 579.0,370.7 581.7,381.5 584.4,383.4 587.1,386.0 588.9,383.4 590.7,388.8 593.4,385.2 596.1,387.0 597.9,382.4 600.6,387.9 605.2,387.0 607.9,384.3 611.5,386.0 614.2,382.4 619.6,383.4 622.3,386.0 626.8,380.6 631.4,386.0 633.2,387.9 635.9,382.4 639.5,384.3 642.2,381.5 644.9,385.2 647.6,380.6 652.1,382.4 654.8,387.0 658.4,381.5 661.2,386.0 668.4,387.9 672.9,386.0 679.2,383.4" fill="none" stroke="#d62222" stroke-width="2" stroke-linejoin="round" stroke-linecap="round"/>
<polyline points="373.5,432.0 376.9,430.8 379.2,432.0 381.6,425.1 383.9,433.2 387.3,434.3 389.7,426.2 392.0,425.1 394.3,422.7 397.7,419.3 401.2,413.5 404.7,411.6 407.0,414.7 410.5,421.6 412.8,423.9 415.1,419.3 419.7,418.1 423.2,414.7 426.6,419.3 430.1,418.1 433.6,418.1 437.1,414.7 439.4,419.3 442.8,421.6 445.1,418.1 449.8,411.2 453.2,419.3 457.9,407.7 460.2,419.3 463.6,417.0 467.1,418.1 471.7,417.0 475.2,420.4 477.5,418.1 481.0,421.6 483.3,420.4 486.8,423.9 490.2,421.6 493.7,414.7 498.3,425.1 502.9,417.0 506.4,421.6 508.7,418.1 512.2,419.3 514.5,417.0 518.0,419.3 520.3,417.0 523.8,419.3 528.5,412.0 530.8,420.1 533.1,414.3 535.4,425.8 538.9,415.4 542.3,418.9 545.8,422.4 549.3,420.1 552.7,418.9 556.2,421.2 560.8,414.3 565.5,421.2 568.9,417.7 571.2,422.4 574.7,418.9 579.3,414.3 584.0,417.7 588.6,422.4 592.1,425.8 595.5,423.5 599.0,418.9 603.6,412.0 607.1,413.1 611.7,427.0 616.3,415.4 619.8,423.5 623.3,422.4 626.7,417.7 630.2,425.8 632.5,418.9 636.0,427.0 641.8,420.1 646.4,417.7 651.0,423.5 655.6,413.1 659.1,416.6 662.5,413.1 667.2,424.7 670.7,414.3 675.3,424.7 678.8,417.7" fill="none" stroke="#1c8a1c" stroke-width="2" stroke-linejoin="round" stroke-linecap="round"/>
<path d="M373.2,212.7 L680,212.7 L680,442.3 L373.2,442.3 Z" fill="none" stroke="#111" stroke-width="1.5"/>
<line x1="373.2" y1="442.3" x2="373.2" y2="439.3" stroke="#111" stroke-width="1.2"/>
<text x="373.2" y="457.0" font-size="12.50" fill="#111" text-anchor="middle" font-weight="normal" >100</text>
<line x1="434.5" y1="442.3" x2="434.5" y2="439.3" stroke="#111" stroke-width="1.2"/>
<text x="434.5" y="457.0" font-size="12.50" fill="#111" text-anchor="middle" font-weight="normal" >150</text>
<line x1="495.8" y1="442.3" x2="495.8" y2="439.3" stroke="#111" stroke-width="1.2"/>
<text x="495.8" y="457.0" font-size="12.50" fill="#111" text-anchor="middle" font-weight="normal" >200</text>
<line x1="557.0" y1="442.3" x2="557.0" y2="439.3" stroke="#111" stroke-width="1.2"/>
<text x="557.0" y="457.0" font-size="12.50" fill="#111" text-anchor="middle" font-weight="normal" >250</text>
<line x1="618.3" y1="442.3" x2="618.3" y2="439.3" stroke="#111" stroke-width="1.2"/>
<text x="618.3" y="457.0" font-size="12.50" fill="#111" text-anchor="middle" font-weight="normal" >300</text>
<line x1="679.6" y1="442.3" x2="679.6" y2="439.3" stroke="#111" stroke-width="1.2"/>
<text x="679.6" y="457.0" font-size="12.50" fill="#111" text-anchor="middle" font-weight="normal" >350</text>
<text x="526.5" y="471.0" font-size="13.00" fill="#111" text-anchor="middle" font-weight="normal" >Raman shift (cm<tspan font-size="8" dy="-5">-1</tspan><tspan dy="5">)</tspan></text>
<text x="0.0" y="0.0" font-size="13.30" fill="#111" text-anchor="middle" font-weight="normal" transform="translate(359.2,323.3) rotate(-90)">Intensity (a.u.)</text>
<line x1="593.7" y1="244.5" x2="609.6" y2="244.5" stroke="#3a1ec8" stroke-width="2"/>
<text x="614.6" y="248.9" font-size="12.50" fill="#111" text-anchor="start" font-weight="normal" >Region</text>
<text x="666.0" y="248.9" font-size="12.50" fill="#111" text-anchor="middle" font-weight="normal" >I</text>
<line x1="593.7" y1="259.6" x2="609.6" y2="259.6" stroke="#d62222" stroke-width="2"/>
<text x="614.6" y="264.0" font-size="12.50" fill="#111" text-anchor="start" font-weight="normal" >Region</text>
<text x="666.0" y="264.0" font-size="12.50" fill="#111" text-anchor="middle" font-weight="normal" >II</text>
<line x1="593.7" y1="277.0" x2="609.6" y2="277.0" stroke="#1c8a1c" stroke-width="2"/>
<text x="614.6" y="281.4" font-size="12.50" fill="#111" text-anchor="start" font-weight="normal" >Region</text>
<text x="666.0" y="281.4" font-size="12.50" fill="#111" text-anchor="middle" font-weight="normal" >III</text>
<text fill="#111"><tspan x="379.6" y="258.3" font-size="11.0">A</tspan><tspan x="387.8" y="261.4" font-size="5.8">g</tspan><tspan x="391.0" y="253.8" font-size="5.8">1</tspan><tspan x="394.5" y="258.3" font-size="11.0">-</tspan><tspan x="399.7" y="258.3" font-size="11.0">B</tspan><tspan x="407.9" y="261.4" font-size="5.8">1g</tspan><tspan x="413.0" y="253.8" font-size="5.8">1</tspan></text>
<text fill="#111"><tspan x="486.0" y="287.4" font-size="10.5">A</tspan><tspan x="494.0" y="290.2" font-size="5.8">g</tspan><tspan x="496.0" y="283.0" font-size="5.8">2</tspan></text>
<text fill="#111"><tspan x="525.3" y="287.4" font-size="10.5">B</tspan><tspan x="532.2" y="290.2" font-size="5.8">1g</tspan><tspan x="536.3" y="283.0" font-size="5.8">2</tspan></text>
<text fill="#111"><tspan x="540.5" y="230.2" font-size="10.5">A</tspan><tspan x="548.6" y="233.0" font-size="5.8">g</tspan><tspan x="551.4" y="225.8" font-size="5.8">3</tspan></text>
<text x="677.0" y="375.2" font-size="11.50" fill="#d62222" text-anchor="end" font-weight="normal" >x10</text>
<text x="676.0" y="406.6" font-size="11.50" fill="#1c8a1c" text-anchor="end" font-weight="normal" >x10</text>
</svg></body></html>
